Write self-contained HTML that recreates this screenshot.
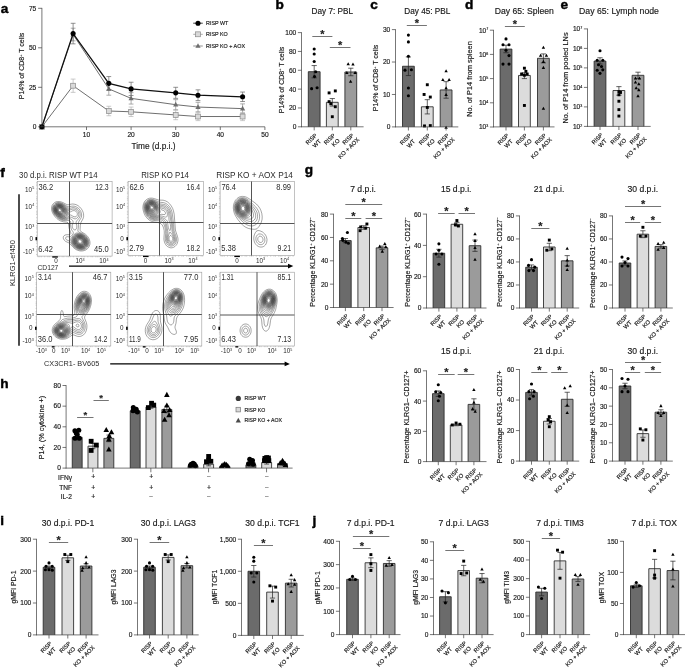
<!DOCTYPE html>
<html><head><meta charset="utf-8"><title>Figure</title>
<style>html,body{margin:0;padding:0;background:#fff}svg{display:block}text{font-family:'Liberation Sans', sans-serif}</style>
</head><body>
<svg width="685" height="668" viewBox="0 0 685 668" font-family='"Liberation Sans", sans-serif'>
<rect width="685" height="668" fill="#fff"/>
<text transform="translate(0.70 13.20) scale(1.12 1)" font-size="12.2" text-anchor="start" font-weight="bold" fill="#000" stroke="#000" stroke-width="0.4">a</text>
<line x1="73.12" y1="28.21" x2="73.12" y2="40.85" stroke="#8a8a8a" stroke-width="0.7"/>
<line x1="70.72" y1="28.21" x2="75.52" y2="28.21" stroke="#8a8a8a" stroke-width="0.7"/>
<line x1="70.72" y1="40.85" x2="75.52" y2="40.85" stroke="#8a8a8a" stroke-width="0.7"/>
<line x1="108.80" y1="82.56" x2="108.80" y2="95.20" stroke="#8a8a8a" stroke-width="0.7"/>
<line x1="106.40" y1="82.56" x2="111.20" y2="82.56" stroke="#8a8a8a" stroke-width="0.7"/>
<line x1="106.40" y1="95.20" x2="111.20" y2="95.20" stroke="#8a8a8a" stroke-width="0.7"/>
<line x1="131.10" y1="92.67" x2="131.10" y2="104.05" stroke="#8a8a8a" stroke-width="0.7"/>
<line x1="128.70" y1="92.67" x2="133.50" y2="92.67" stroke="#8a8a8a" stroke-width="0.7"/>
<line x1="128.70" y1="104.05" x2="133.50" y2="104.05" stroke="#8a8a8a" stroke-width="0.7"/>
<line x1="175.70" y1="99.62" x2="175.70" y2="109.74" stroke="#8a8a8a" stroke-width="0.7"/>
<line x1="173.30" y1="99.62" x2="178.10" y2="99.62" stroke="#8a8a8a" stroke-width="0.7"/>
<line x1="173.30" y1="109.74" x2="178.10" y2="109.74" stroke="#8a8a8a" stroke-width="0.7"/>
<line x1="198.00" y1="102.31" x2="198.00" y2="111.79" stroke="#8a8a8a" stroke-width="0.7"/>
<line x1="195.60" y1="102.31" x2="200.40" y2="102.31" stroke="#8a8a8a" stroke-width="0.7"/>
<line x1="195.60" y1="111.79" x2="200.40" y2="111.79" stroke="#8a8a8a" stroke-width="0.7"/>
<line x1="242.60" y1="103.89" x2="242.60" y2="113.37" stroke="#8a8a8a" stroke-width="0.7"/>
<line x1="240.20" y1="103.89" x2="245.00" y2="103.89" stroke="#8a8a8a" stroke-width="0.7"/>
<line x1="240.20" y1="113.37" x2="245.00" y2="113.37" stroke="#8a8a8a" stroke-width="0.7"/>
<polyline points="41.90,126.80 73.12,34.53 108.80,88.88 131.10,98.36 175.70,104.68 198.00,107.05 242.60,108.63" fill="none" stroke="#555" stroke-width="0.85"/>
<path d="M41.90 123.99L44.50 128.67L39.30 128.67Z" fill="#6e6e6e" stroke="none" stroke-width="0.5"/>
<path d="M73.12 31.72L75.72 36.40L70.52 36.40Z" fill="#6e6e6e" stroke="none" stroke-width="0.5"/>
<path d="M108.80 86.07L111.40 90.75L106.20 90.75Z" fill="#6e6e6e" stroke="none" stroke-width="0.5"/>
<path d="M131.10 95.55L133.70 100.23L128.50 100.23Z" fill="#6e6e6e" stroke="none" stroke-width="0.5"/>
<path d="M175.70 101.87L178.30 106.55L173.10 106.55Z" fill="#6e6e6e" stroke="none" stroke-width="0.5"/>
<path d="M198.00 104.24L200.60 108.92L195.40 108.92Z" fill="#6e6e6e" stroke="none" stroke-width="0.5"/>
<path d="M242.60 105.82L245.20 110.50L240.00 110.50Z" fill="#6e6e6e" stroke="none" stroke-width="0.5"/>
<line x1="73.12" y1="79.08" x2="73.12" y2="92.36" stroke="#b5b5b5" stroke-width="0.7"/>
<line x1="70.72" y1="79.08" x2="75.52" y2="79.08" stroke="#b5b5b5" stroke-width="0.7"/>
<line x1="70.72" y1="92.36" x2="75.52" y2="92.36" stroke="#b5b5b5" stroke-width="0.7"/>
<line x1="108.80" y1="106.26" x2="108.80" y2="115.74" stroke="#b5b5b5" stroke-width="0.7"/>
<line x1="106.40" y1="106.26" x2="111.20" y2="106.26" stroke="#b5b5b5" stroke-width="0.7"/>
<line x1="106.40" y1="115.74" x2="111.20" y2="115.74" stroke="#b5b5b5" stroke-width="0.7"/>
<line x1="131.10" y1="107.05" x2="131.10" y2="116.53" stroke="#b5b5b5" stroke-width="0.7"/>
<line x1="128.70" y1="107.05" x2="133.50" y2="107.05" stroke="#b5b5b5" stroke-width="0.7"/>
<line x1="128.70" y1="116.53" x2="133.50" y2="116.53" stroke="#b5b5b5" stroke-width="0.7"/>
<line x1="175.70" y1="110.21" x2="175.70" y2="119.69" stroke="#b5b5b5" stroke-width="0.7"/>
<line x1="173.30" y1="110.21" x2="178.10" y2="110.21" stroke="#b5b5b5" stroke-width="0.7"/>
<line x1="173.30" y1="119.69" x2="178.10" y2="119.69" stroke="#b5b5b5" stroke-width="0.7"/>
<line x1="198.00" y1="112.42" x2="198.00" y2="120.64" stroke="#b5b5b5" stroke-width="0.7"/>
<line x1="195.60" y1="112.42" x2="200.40" y2="112.42" stroke="#b5b5b5" stroke-width="0.7"/>
<line x1="195.60" y1="120.64" x2="200.40" y2="120.64" stroke="#b5b5b5" stroke-width="0.7"/>
<line x1="242.60" y1="112.42" x2="242.60" y2="120.64" stroke="#b5b5b5" stroke-width="0.7"/>
<line x1="240.20" y1="112.42" x2="245.00" y2="112.42" stroke="#b5b5b5" stroke-width="0.7"/>
<line x1="240.20" y1="120.64" x2="245.00" y2="120.64" stroke="#b5b5b5" stroke-width="0.7"/>
<polyline points="41.90,126.80 73.12,85.72 108.80,111.00 131.10,111.79 175.70,114.95 198.00,116.53 242.60,116.53" fill="none" stroke="#555" stroke-width="0.85"/>
<rect x="39.45" y="124.35" width="4.9" height="4.9" fill="#d9d9d9" stroke="#8a8a8a" stroke-width="0.7"/>
<rect x="70.67" y="83.27" width="4.9" height="4.9" fill="#d9d9d9" stroke="#8a8a8a" stroke-width="0.7"/>
<rect x="106.35" y="108.55" width="4.9" height="4.9" fill="#d9d9d9" stroke="#8a8a8a" stroke-width="0.7"/>
<rect x="128.65" y="109.34" width="4.9" height="4.9" fill="#d9d9d9" stroke="#8a8a8a" stroke-width="0.7"/>
<rect x="173.25" y="112.50" width="4.9" height="4.9" fill="#d9d9d9" stroke="#8a8a8a" stroke-width="0.7"/>
<rect x="195.55" y="114.08" width="4.9" height="4.9" fill="#d9d9d9" stroke="#8a8a8a" stroke-width="0.7"/>
<rect x="240.15" y="114.08" width="4.9" height="4.9" fill="#d9d9d9" stroke="#8a8a8a" stroke-width="0.7"/>
<line x1="73.12" y1="23.31" x2="73.12" y2="43.85" stroke="#666" stroke-width="0.7"/>
<line x1="70.72" y1="23.31" x2="75.52" y2="23.31" stroke="#666" stroke-width="0.7"/>
<line x1="70.72" y1="43.85" x2="75.52" y2="43.85" stroke="#666" stroke-width="0.7"/>
<line x1="108.80" y1="76.56" x2="108.80" y2="90.14" stroke="#666" stroke-width="0.7"/>
<line x1="106.40" y1="76.56" x2="111.20" y2="76.56" stroke="#666" stroke-width="0.7"/>
<line x1="106.40" y1="90.14" x2="111.20" y2="90.14" stroke="#666" stroke-width="0.7"/>
<line x1="131.10" y1="82.24" x2="131.10" y2="95.52" stroke="#666" stroke-width="0.7"/>
<line x1="128.70" y1="82.24" x2="133.50" y2="82.24" stroke="#666" stroke-width="0.7"/>
<line x1="128.70" y1="95.52" x2="133.50" y2="95.52" stroke="#666" stroke-width="0.7"/>
<line x1="175.70" y1="87.30" x2="175.70" y2="98.36" stroke="#666" stroke-width="0.7"/>
<line x1="173.30" y1="87.30" x2="178.10" y2="87.30" stroke="#666" stroke-width="0.7"/>
<line x1="173.30" y1="98.36" x2="178.10" y2="98.36" stroke="#666" stroke-width="0.7"/>
<line x1="198.00" y1="89.83" x2="198.00" y2="100.57" stroke="#666" stroke-width="0.7"/>
<line x1="195.60" y1="89.83" x2="200.40" y2="89.83" stroke="#666" stroke-width="0.7"/>
<line x1="195.60" y1="100.57" x2="200.40" y2="100.57" stroke="#666" stroke-width="0.7"/>
<line x1="242.60" y1="92.04" x2="242.60" y2="101.52" stroke="#666" stroke-width="0.7"/>
<line x1="240.20" y1="92.04" x2="245.00" y2="92.04" stroke="#666" stroke-width="0.7"/>
<line x1="240.20" y1="101.52" x2="245.00" y2="101.52" stroke="#666" stroke-width="0.7"/>
<polyline points="41.90,126.80 73.12,33.58 108.80,83.35 131.10,88.88 175.70,92.83 198.00,95.20 242.60,96.78" fill="none" stroke="#111" stroke-width="1.25"/>
<circle cx="41.90" cy="126.80" r="2.55" fill="#000" stroke="none" stroke-width="0.5"/>
<circle cx="73.12" cy="33.58" r="2.55" fill="#000" stroke="none" stroke-width="0.5"/>
<circle cx="108.80" cy="83.35" r="2.55" fill="#000" stroke="none" stroke-width="0.5"/>
<circle cx="131.10" cy="88.88" r="2.55" fill="#000" stroke="none" stroke-width="0.5"/>
<circle cx="175.70" cy="92.83" r="2.55" fill="#000" stroke="none" stroke-width="0.5"/>
<circle cx="198.00" cy="95.20" r="2.55" fill="#000" stroke="none" stroke-width="0.5"/>
<circle cx="242.60" cy="96.78" r="2.55" fill="#000" stroke="none" stroke-width="0.5"/>
<line x1="41.90" y1="7.90" x2="41.90" y2="127.20" stroke="#3c3c3c" stroke-width="0.7"/>
<line x1="41.50" y1="126.80" x2="264.90" y2="126.80" stroke="#3c3c3c" stroke-width="0.7"/>
<line x1="38.10" y1="126.80" x2="41.90" y2="126.80" stroke="#3c3c3c" stroke-width="0.7"/>
<text x="36.30" y="129.00" font-size="6.6" text-anchor="end" fill="#1a1a1a" stroke="#1a1a1a" stroke-width="0.16">0</text>
<line x1="38.10" y1="87.30" x2="41.90" y2="87.30" stroke="#3c3c3c" stroke-width="0.7"/>
<text x="36.30" y="89.50" font-size="6.6" text-anchor="end" fill="#1a1a1a" stroke="#1a1a1a" stroke-width="0.16">25</text>
<line x1="38.10" y1="47.80" x2="41.90" y2="47.80" stroke="#3c3c3c" stroke-width="0.7"/>
<text x="36.30" y="50.00" font-size="6.6" text-anchor="end" fill="#1a1a1a" stroke="#1a1a1a" stroke-width="0.16">50</text>
<line x1="38.10" y1="8.30" x2="41.90" y2="8.30" stroke="#3c3c3c" stroke-width="0.7"/>
<text x="36.30" y="10.50" font-size="6.6" text-anchor="end" fill="#1a1a1a" stroke="#1a1a1a" stroke-width="0.16">75</text>
<line x1="86.50" y1="126.80" x2="86.50" y2="130.00" stroke="#3c3c3c" stroke-width="0.7"/>
<text x="86.50" y="137.40" font-size="6.6" text-anchor="middle" fill="#1a1a1a" stroke="#1a1a1a" stroke-width="0.16">10</text>
<line x1="131.10" y1="126.80" x2="131.10" y2="130.00" stroke="#3c3c3c" stroke-width="0.7"/>
<text x="131.10" y="137.40" font-size="6.6" text-anchor="middle" fill="#1a1a1a" stroke="#1a1a1a" stroke-width="0.16">20</text>
<line x1="175.70" y1="126.80" x2="175.70" y2="130.00" stroke="#3c3c3c" stroke-width="0.7"/>
<text x="175.70" y="137.40" font-size="6.6" text-anchor="middle" fill="#1a1a1a" stroke="#1a1a1a" stroke-width="0.16">30</text>
<line x1="220.30" y1="126.80" x2="220.30" y2="130.00" stroke="#3c3c3c" stroke-width="0.7"/>
<text x="220.30" y="137.40" font-size="6.6" text-anchor="middle" fill="#1a1a1a" stroke="#1a1a1a" stroke-width="0.16">40</text>
<line x1="264.90" y1="126.80" x2="264.90" y2="130.00" stroke="#3c3c3c" stroke-width="0.7"/>
<text x="264.90" y="137.40" font-size="6.6" text-anchor="middle" fill="#1a1a1a" stroke="#1a1a1a" stroke-width="0.16">50</text>
<text x="24.30" y="66.00" font-size="7.0" text-anchor="middle" transform="rotate(-90 24.30 66.00)" fill="#1a1a1a" stroke="#1a1a1a" stroke-width="0.16">P14% of CD8<tspan dy="-2.4" font-size="3.8">+</tspan><tspan dy="2.4"> T cells</tspan></text>
<text x="153.50" y="148.60" font-size="8.3" text-anchor="middle" fill="#1a1a1a" stroke="#1a1a1a" stroke-width="0.16">Time (d.p.i.)</text>
<line x1="193.20" y1="23.20" x2="202.80" y2="23.20" stroke="#111" stroke-width="0.8"/>
<circle cx="198.00" cy="23.20" r="2.55" fill="#000" stroke="none" stroke-width="0.5"/>
<text x="206.00" y="25.10" font-size="5.4" text-anchor="start" fill="#1a1a1a" stroke="#1a1a1a" stroke-width="0.16">RISP WT</text>
<line x1="193.20" y1="34.30" x2="202.80" y2="34.30" stroke="#999" stroke-width="0.8"/>
<rect x="195.55" y="31.85" width="4.9" height="4.9" fill="#d9d9d9" stroke="#8a8a8a" stroke-width="0.7"/>
<text x="206.00" y="36.20" font-size="5.4" text-anchor="start" fill="#1a1a1a" stroke="#1a1a1a" stroke-width="0.16">RISP KO</text>
<line x1="193.20" y1="46.00" x2="202.80" y2="46.00" stroke="#777" stroke-width="0.8"/>
<path d="M198.00 43.19L200.60 47.87L195.40 47.87Z" fill="#6e6e6e" stroke="none" stroke-width="0.5"/>
<text x="206.00" y="47.90" font-size="5.4" text-anchor="start" fill="#1a1a1a" stroke="#1a1a1a" stroke-width="0.16">RISP KO + AOX</text>
<text transform="translate(275.40 9.20) scale(1.12 1)" font-size="12.2" text-anchor="start" font-weight="bold" fill="#000" stroke="#000" stroke-width="0.4">b</text>
<path d="M308.30 126.80V71.69H320.10V126.80" fill="#6b6b6b" stroke="#262626" stroke-width="0.85"/>
<path d="M326.40 126.80V102.31H338.20V126.80" fill="#dcdcdc" stroke="#262626" stroke-width="0.85"/>
<path d="M344.90 126.80V71.98H356.70V126.80" fill="#9b9b9b" stroke="#262626" stroke-width="0.85"/>
<line x1="314.20" y1="65.57" x2="314.20" y2="77.82" stroke="#222" stroke-width="0.7"/>
<line x1="311.60" y1="65.57" x2="316.80" y2="65.57" stroke="#222" stroke-width="0.7"/>
<line x1="311.60" y1="77.82" x2="316.80" y2="77.82" stroke="#222" stroke-width="0.7"/>
<line x1="332.30" y1="98.54" x2="332.30" y2="106.08" stroke="#222" stroke-width="0.7"/>
<line x1="329.70" y1="98.54" x2="334.90" y2="98.54" stroke="#222" stroke-width="0.7"/>
<line x1="329.70" y1="106.08" x2="334.90" y2="106.08" stroke="#222" stroke-width="0.7"/>
<line x1="350.80" y1="68.21" x2="350.80" y2="75.74" stroke="#222" stroke-width="0.7"/>
<line x1="348.20" y1="68.21" x2="353.40" y2="68.21" stroke="#222" stroke-width="0.7"/>
<line x1="348.20" y1="75.74" x2="353.40" y2="75.74" stroke="#222" stroke-width="0.7"/>
<circle cx="314.20" cy="48.99" r="1.55" fill="#000" stroke="none" stroke-width="0.5"/>
<circle cx="314.20" cy="53.98" r="1.55" fill="#000" stroke="none" stroke-width="0.5"/>
<circle cx="314.20" cy="61.52" r="1.55" fill="#000" stroke="none" stroke-width="0.5"/>
<circle cx="315.70" cy="71.69" r="1.55" fill="#000" stroke="none" stroke-width="0.5"/>
<circle cx="314.50" cy="76.59" r="1.55" fill="#000" stroke="none" stroke-width="0.5"/>
<circle cx="311.60" cy="88.65" r="1.55" fill="#000" stroke="none" stroke-width="0.5"/>
<circle cx="317.10" cy="87.71" r="1.55" fill="#000" stroke="none" stroke-width="0.5"/>
<rect x="327.65" y="91.44" width="2.9" height="2.9" fill="#000" stroke="none" stroke-width="0.5"/>
<rect x="333.85" y="89.46" width="2.9" height="2.9" fill="#000" stroke="none" stroke-width="0.5"/>
<rect x="327.65" y="100.20" width="2.9" height="2.9" fill="#000" stroke="none" stroke-width="0.5"/>
<rect x="333.85" y="105.29" width="2.9" height="2.9" fill="#000" stroke="none" stroke-width="0.5"/>
<rect x="330.85" y="115.27" width="2.9" height="2.9" fill="#000" stroke="none" stroke-width="0.5"/>
<rect x="329.35" y="102.27" width="2.9" height="2.9" fill="#000" stroke="none" stroke-width="0.5"/>
<path d="M348.20 62.23L349.90 65.29L346.50 65.29Z" fill="#000" stroke="none" stroke-width="0.5"/>
<path d="M353.00 62.42L354.70 65.48L351.30 65.48Z" fill="#000" stroke="none" stroke-width="0.5"/>
<path d="M346.90 70.99L348.60 74.05L345.20 74.05Z" fill="#000" stroke="none" stroke-width="0.5"/>
<path d="M355.10 70.99L356.80 74.05L353.40 74.05Z" fill="#000" stroke="none" stroke-width="0.5"/>
<path d="M350.60 79.75L352.30 82.81L348.90 82.81Z" fill="#000" stroke="none" stroke-width="0.5"/>
<line x1="301.50" y1="32.25" x2="301.50" y2="127.15" stroke="#3c3c3c" stroke-width="0.7"/>
<line x1="301.15" y1="126.80" x2="363.60" y2="126.80" stroke="#3c3c3c" stroke-width="0.7"/>
<line x1="297.90" y1="126.80" x2="301.50" y2="126.80" stroke="#3c3c3c" stroke-width="0.7"/>
<text x="296.30" y="129.25" font-size="6.6" text-anchor="end" fill="#1a1a1a" stroke="#1a1a1a" stroke-width="0.16">0</text>
<line x1="297.90" y1="107.96" x2="301.50" y2="107.96" stroke="#3c3c3c" stroke-width="0.7"/>
<text x="296.30" y="110.41" font-size="6.6" text-anchor="end" fill="#1a1a1a" stroke="#1a1a1a" stroke-width="0.16">20</text>
<line x1="297.90" y1="89.12" x2="301.50" y2="89.12" stroke="#3c3c3c" stroke-width="0.7"/>
<text x="296.30" y="91.57" font-size="6.6" text-anchor="end" fill="#1a1a1a" stroke="#1a1a1a" stroke-width="0.16">40</text>
<line x1="297.90" y1="70.28" x2="301.50" y2="70.28" stroke="#3c3c3c" stroke-width="0.7"/>
<text x="296.30" y="72.73" font-size="6.6" text-anchor="end" fill="#1a1a1a" stroke="#1a1a1a" stroke-width="0.16">60</text>
<line x1="297.90" y1="51.44" x2="301.50" y2="51.44" stroke="#3c3c3c" stroke-width="0.7"/>
<text x="296.30" y="53.89" font-size="6.6" text-anchor="end" fill="#1a1a1a" stroke="#1a1a1a" stroke-width="0.16">80</text>
<line x1="297.90" y1="32.60" x2="301.50" y2="32.60" stroke="#3c3c3c" stroke-width="0.7"/>
<text x="296.30" y="35.05" font-size="6.6" text-anchor="end" fill="#1a1a1a" stroke="#1a1a1a" stroke-width="0.16">100</text>
<line x1="314.20" y1="126.80" x2="314.20" y2="130.40" stroke="#3c3c3c" stroke-width="0.7"/>
<text x="317.50" y="135.70" font-size="5.7" text-anchor="end" transform="rotate(-45 317.50 135.70)" fill="#1a1a1a" stroke="#1a1a1a" stroke-width="0.16">RISP</text>
<text x="321.45" y="141.65" font-size="5.85" text-anchor="end" transform="rotate(-45 321.45 141.65)" fill="#1a1a1a" stroke="#1a1a1a" stroke-width="0.16">WT</text>
<line x1="332.30" y1="126.80" x2="332.30" y2="130.40" stroke="#3c3c3c" stroke-width="0.7"/>
<text x="335.60" y="135.70" font-size="5.7" text-anchor="end" transform="rotate(-45 335.60 135.70)" fill="#1a1a1a" stroke="#1a1a1a" stroke-width="0.16">RISP</text>
<text x="340.11" y="141.09" font-size="5.85" text-anchor="end" transform="rotate(-45 340.11 141.09)" fill="#1a1a1a" stroke="#1a1a1a" stroke-width="0.16">KO</text>
<line x1="350.80" y1="126.80" x2="350.80" y2="130.40" stroke="#3c3c3c" stroke-width="0.7"/>
<text x="354.10" y="135.70" font-size="5.7" text-anchor="end" transform="rotate(-45 354.10 135.70)" fill="#1a1a1a" stroke="#1a1a1a" stroke-width="0.16">RISP</text>
<text x="359.74" y="139.95" font-size="5.85" text-anchor="end" transform="rotate(-45 359.74 139.95)" fill="#1a1a1a" stroke="#1a1a1a" stroke-width="0.16">KO + AOX</text>
<text x="332.30" y="13.80" font-size="8.2" text-anchor="middle" fill="#1a1a1a" stroke="#1a1a1a" stroke-width="0.16">Day 7: PBL</text>
<text x="283.50" y="80.00" font-size="7.0" text-anchor="middle" transform="rotate(-90 283.50 80.00)" fill="#1a1a1a" stroke="#1a1a1a" stroke-width="0.16">P14% of CD8<tspan dy="-2.4" font-size="3.8">+</tspan><tspan dy="2.4"> T cells</tspan></text>
<line x1="312.30" y1="36.50" x2="332.40" y2="36.50" stroke="#3a3a3a" stroke-width="0.7"/>
<text x="322.35" y="38.20" font-size="11" text-anchor="middle" font-weight="bold" fill="#222" stroke="#1a1a1a" stroke-width="0.16">*</text>
<line x1="329.80" y1="47.50" x2="350.50" y2="47.50" stroke="#3a3a3a" stroke-width="0.7"/>
<text x="340.15" y="49.20" font-size="11" text-anchor="middle" font-weight="bold" fill="#222" stroke="#1a1a1a" stroke-width="0.16">*</text>
<text transform="translate(370.20 9.20) scale(1.12 1)" font-size="12.2" text-anchor="start" font-weight="bold" fill="#000" stroke="#000" stroke-width="0.4">c</text>
<path d="M402.50 126.90V66.25H414.30V126.90" fill="#6b6b6b" stroke="#262626" stroke-width="0.85"/>
<path d="M421.40 126.90V106.79H433.20V126.90" fill="#dcdcdc" stroke="#262626" stroke-width="0.85"/>
<path d="M440.20 126.90V89.93H452.00V126.90" fill="#9b9b9b" stroke="#262626" stroke-width="0.85"/>
<line x1="408.40" y1="56.94" x2="408.40" y2="75.56" stroke="#222" stroke-width="0.7"/>
<line x1="405.80" y1="56.94" x2="411.00" y2="56.94" stroke="#222" stroke-width="0.7"/>
<line x1="405.80" y1="75.56" x2="411.00" y2="75.56" stroke="#222" stroke-width="0.7"/>
<line x1="427.30" y1="99.66" x2="427.30" y2="113.93" stroke="#222" stroke-width="0.7"/>
<line x1="424.70" y1="99.66" x2="429.90" y2="99.66" stroke="#222" stroke-width="0.7"/>
<line x1="424.70" y1="113.93" x2="429.90" y2="113.93" stroke="#222" stroke-width="0.7"/>
<line x1="446.10" y1="81.66" x2="446.10" y2="98.20" stroke="#222" stroke-width="0.7"/>
<line x1="443.50" y1="81.66" x2="448.70" y2="81.66" stroke="#222" stroke-width="0.7"/>
<line x1="443.50" y1="98.20" x2="448.70" y2="98.20" stroke="#222" stroke-width="0.7"/>
<circle cx="408.40" cy="35.11" r="1.55" fill="#000" stroke="none" stroke-width="0.5"/>
<circle cx="408.40" cy="41.92" r="1.55" fill="#000" stroke="none" stroke-width="0.5"/>
<circle cx="408.40" cy="56.20" r="1.55" fill="#000" stroke="none" stroke-width="0.5"/>
<circle cx="405.00" cy="70.14" r="1.55" fill="#000" stroke="none" stroke-width="0.5"/>
<circle cx="411.40" cy="69.82" r="1.55" fill="#000" stroke="none" stroke-width="0.5"/>
<circle cx="408.40" cy="87.98" r="1.55" fill="#000" stroke="none" stroke-width="0.5"/>
<circle cx="408.40" cy="95.76" r="1.55" fill="#000" stroke="none" stroke-width="0.5"/>
<rect x="425.85" y="83.29" width="2.9" height="2.9" fill="#000" stroke="none" stroke-width="0.5"/>
<rect x="422.65" y="93.02" width="2.9" height="2.9" fill="#000" stroke="none" stroke-width="0.5"/>
<rect x="428.85" y="95.61" width="2.9" height="2.9" fill="#000" stroke="none" stroke-width="0.5"/>
<rect x="425.85" y="105.99" width="2.9" height="2.9" fill="#000" stroke="none" stroke-width="0.5"/>
<rect x="423.05" y="124.48" width="2.9" height="2.9" fill="#000" stroke="none" stroke-width="0.5"/>
<rect x="428.85" y="124.15" width="2.9" height="2.9" fill="#000" stroke="none" stroke-width="0.5"/>
<path d="M446.10 69.28L447.80 72.34L444.40 72.34Z" fill="#000" stroke="none" stroke-width="0.5"/>
<path d="M442.90 78.04L444.60 81.10L441.20 81.10Z" fill="#000" stroke="none" stroke-width="0.5"/>
<path d="M449.10 78.04L450.80 81.10L447.40 81.10Z" fill="#000" stroke="none" stroke-width="0.5"/>
<path d="M446.10 86.14L447.80 89.20L444.40 89.20Z" fill="#000" stroke="none" stroke-width="0.5"/>
<path d="M446.10 92.95L447.80 96.02L444.40 96.02Z" fill="#000" stroke="none" stroke-width="0.5"/>
<path d="M446.10 125.71L447.80 128.77L444.40 128.77Z" fill="#000" stroke="none" stroke-width="0.5"/>
<line x1="395.50" y1="29.25" x2="395.50" y2="127.25" stroke="#3c3c3c" stroke-width="0.7"/>
<line x1="395.15" y1="126.90" x2="458.30" y2="126.90" stroke="#3c3c3c" stroke-width="0.7"/>
<line x1="391.90" y1="126.90" x2="395.50" y2="126.90" stroke="#3c3c3c" stroke-width="0.7"/>
<text x="390.30" y="129.35" font-size="6.6" text-anchor="end" fill="#1a1a1a" stroke="#1a1a1a" stroke-width="0.16">0</text>
<line x1="391.90" y1="94.47" x2="395.50" y2="94.47" stroke="#3c3c3c" stroke-width="0.7"/>
<text x="390.30" y="96.92" font-size="6.6" text-anchor="end" fill="#1a1a1a" stroke="#1a1a1a" stroke-width="0.16">10</text>
<line x1="391.90" y1="62.03" x2="395.50" y2="62.03" stroke="#3c3c3c" stroke-width="0.7"/>
<text x="390.30" y="64.48" font-size="6.6" text-anchor="end" fill="#1a1a1a" stroke="#1a1a1a" stroke-width="0.16">20</text>
<line x1="391.90" y1="29.60" x2="395.50" y2="29.60" stroke="#3c3c3c" stroke-width="0.7"/>
<text x="390.30" y="32.05" font-size="6.6" text-anchor="end" fill="#1a1a1a" stroke="#1a1a1a" stroke-width="0.16">30</text>
<line x1="408.40" y1="126.90" x2="408.40" y2="130.50" stroke="#3c3c3c" stroke-width="0.7"/>
<text x="411.70" y="135.80" font-size="5.7" text-anchor="end" transform="rotate(-45 411.70 135.80)" fill="#1a1a1a" stroke="#1a1a1a" stroke-width="0.16">RISP</text>
<text x="415.65" y="141.75" font-size="5.85" text-anchor="end" transform="rotate(-45 415.65 141.75)" fill="#1a1a1a" stroke="#1a1a1a" stroke-width="0.16">WT</text>
<line x1="427.30" y1="126.90" x2="427.30" y2="130.50" stroke="#3c3c3c" stroke-width="0.7"/>
<text x="430.60" y="135.80" font-size="5.7" text-anchor="end" transform="rotate(-45 430.60 135.80)" fill="#1a1a1a" stroke="#1a1a1a" stroke-width="0.16">RISP</text>
<text x="435.11" y="141.19" font-size="5.85" text-anchor="end" transform="rotate(-45 435.11 141.19)" fill="#1a1a1a" stroke="#1a1a1a" stroke-width="0.16">KO</text>
<line x1="446.10" y1="126.90" x2="446.10" y2="130.50" stroke="#3c3c3c" stroke-width="0.7"/>
<text x="449.40" y="135.80" font-size="5.7" text-anchor="end" transform="rotate(-45 449.40 135.80)" fill="#1a1a1a" stroke="#1a1a1a" stroke-width="0.16">RISP</text>
<text x="455.04" y="140.05" font-size="5.85" text-anchor="end" transform="rotate(-45 455.04 140.05)" fill="#1a1a1a" stroke="#1a1a1a" stroke-width="0.16">KO + AOX</text>
<text x="427.30" y="13.80" font-size="8.2" text-anchor="middle" fill="#1a1a1a" stroke="#1a1a1a" stroke-width="0.16">Day 45: PBL</text>
<text x="378.40" y="78.00" font-size="7.0" text-anchor="middle" transform="rotate(-90 378.40 78.00)" fill="#1a1a1a" stroke="#1a1a1a" stroke-width="0.16">P14% of CD8<tspan dy="-2.4" font-size="3.8">+</tspan><tspan dy="2.4"> T cells</tspan></text>
<line x1="406.80" y1="25.50" x2="426.90" y2="25.50" stroke="#3a3a3a" stroke-width="0.7"/>
<text x="416.85" y="27.20" font-size="11" text-anchor="middle" font-weight="bold" fill="#222" stroke="#1a1a1a" stroke-width="0.16">*</text>
<text transform="translate(465.00 9.20) scale(1.12 1)" font-size="12.2" text-anchor="start" font-weight="bold" fill="#000" stroke="#000" stroke-width="0.4">d</text>
<path d="M500.10 126.90V49.08H511.90V126.90" fill="#6b6b6b" stroke="#262626" stroke-width="0.85"/>
<path d="M518.50 126.90V75.45H530.30V126.90" fill="#dcdcdc" stroke="#262626" stroke-width="0.85"/>
<path d="M537.50 126.90V58.27H549.30V126.90" fill="#9b9b9b" stroke="#262626" stroke-width="0.85"/>
<line x1="506.00" y1="45.20" x2="506.00" y2="52.71" stroke="#222" stroke-width="0.7"/>
<line x1="503.40" y1="45.20" x2="508.60" y2="45.20" stroke="#222" stroke-width="0.7"/>
<line x1="503.40" y1="52.71" x2="508.60" y2="52.71" stroke="#222" stroke-width="0.7"/>
<line x1="524.40" y1="72.79" x2="524.40" y2="78.60" stroke="#222" stroke-width="0.7"/>
<line x1="521.80" y1="72.79" x2="527.00" y2="72.79" stroke="#222" stroke-width="0.7"/>
<line x1="521.80" y1="78.60" x2="527.00" y2="78.60" stroke="#222" stroke-width="0.7"/>
<line x1="543.40" y1="53.92" x2="543.40" y2="62.87" stroke="#222" stroke-width="0.7"/>
<line x1="540.80" y1="53.92" x2="546.00" y2="53.92" stroke="#222" stroke-width="0.7"/>
<line x1="540.80" y1="62.87" x2="546.00" y2="62.87" stroke="#222" stroke-width="0.7"/>
<circle cx="506.00" cy="38.91" r="1.55" fill="#000" stroke="none" stroke-width="0.5"/>
<circle cx="503.00" cy="44.72" r="1.55" fill="#000" stroke="none" stroke-width="0.5"/>
<circle cx="509.00" cy="44.72" r="1.55" fill="#000" stroke="none" stroke-width="0.5"/>
<circle cx="506.00" cy="50.29" r="1.55" fill="#000" stroke="none" stroke-width="0.5"/>
<circle cx="509.00" cy="55.61" r="1.55" fill="#000" stroke="none" stroke-width="0.5"/>
<circle cx="503.00" cy="64.08" r="1.55" fill="#000" stroke="none" stroke-width="0.5"/>
<circle cx="509.00" cy="64.08" r="1.55" fill="#000" stroke="none" stroke-width="0.5"/>
<rect x="522.95" y="66.74" width="2.9" height="2.9" fill="#000" stroke="none" stroke-width="0.5"/>
<rect x="520.15" y="72.55" width="2.9" height="2.9" fill="#000" stroke="none" stroke-width="0.5"/>
<rect x="525.75" y="72.55" width="2.9" height="2.9" fill="#000" stroke="none" stroke-width="0.5"/>
<rect x="522.95" y="73.76" width="2.9" height="2.9" fill="#000" stroke="none" stroke-width="0.5"/>
<rect x="522.95" y="104.01" width="2.9" height="2.9" fill="#000" stroke="none" stroke-width="0.5"/>
<rect x="524.45" y="69.89" width="2.9" height="2.9" fill="#000" stroke="none" stroke-width="0.5"/>
<path d="M543.40 45.79L545.10 48.85L541.70 48.85Z" fill="#000" stroke="none" stroke-width="0.5"/>
<path d="M540.60 53.77L542.30 56.83L538.90 56.83Z" fill="#000" stroke="none" stroke-width="0.5"/>
<path d="M546.40 53.77L548.10 56.83L544.70 56.83Z" fill="#000" stroke="none" stroke-width="0.5"/>
<path d="M543.40 59.82L545.10 62.88L541.70 62.88Z" fill="#000" stroke="none" stroke-width="0.5"/>
<path d="M543.40 65.87L545.10 68.93L541.70 68.93Z" fill="#000" stroke="none" stroke-width="0.5"/>
<path d="M543.40 106.77L545.10 109.83L541.70 109.83Z" fill="#000" stroke="none" stroke-width="0.5"/>
<line x1="493.50" y1="29.85" x2="493.50" y2="127.25" stroke="#3c3c3c" stroke-width="0.7"/>
<line x1="493.15" y1="126.90" x2="554.50" y2="126.90" stroke="#3c3c3c" stroke-width="0.7"/>
<line x1="489.90" y1="127.00" x2="493.50" y2="127.00" stroke="#3c3c3c" stroke-width="0.7"/>
<text x="488.30" y="129.45" font-size="6.6" text-anchor="end" fill="#1a1a1a" stroke="#1a1a1a" stroke-width="0.16">10<tspan dy="-2.2" font-size="3.6">3</tspan></text>
<line x1="489.90" y1="102.80" x2="493.50" y2="102.80" stroke="#3c3c3c" stroke-width="0.7"/>
<text x="488.30" y="105.25" font-size="6.6" text-anchor="end" fill="#1a1a1a" stroke="#1a1a1a" stroke-width="0.16">10<tspan dy="-2.2" font-size="3.6">4</tspan></text>
<line x1="489.90" y1="78.60" x2="493.50" y2="78.60" stroke="#3c3c3c" stroke-width="0.7"/>
<text x="488.30" y="81.05" font-size="6.6" text-anchor="end" fill="#1a1a1a" stroke="#1a1a1a" stroke-width="0.16">10<tspan dy="-2.2" font-size="3.6">5</tspan></text>
<line x1="489.90" y1="54.40" x2="493.50" y2="54.40" stroke="#3c3c3c" stroke-width="0.7"/>
<text x="488.30" y="56.85" font-size="6.6" text-anchor="end" fill="#1a1a1a" stroke="#1a1a1a" stroke-width="0.16">10<tspan dy="-2.2" font-size="3.6">6</tspan></text>
<line x1="489.90" y1="30.20" x2="493.50" y2="30.20" stroke="#3c3c3c" stroke-width="0.7"/>
<text x="488.30" y="32.65" font-size="6.6" text-anchor="end" fill="#1a1a1a" stroke="#1a1a1a" stroke-width="0.16">10<tspan dy="-2.2" font-size="3.6">7</tspan></text>
<line x1="506.00" y1="126.90" x2="506.00" y2="130.50" stroke="#3c3c3c" stroke-width="0.7"/>
<text x="509.30" y="135.80" font-size="5.7" text-anchor="end" transform="rotate(-45 509.30 135.80)" fill="#1a1a1a" stroke="#1a1a1a" stroke-width="0.16">RISP</text>
<text x="513.25" y="141.75" font-size="5.85" text-anchor="end" transform="rotate(-45 513.25 141.75)" fill="#1a1a1a" stroke="#1a1a1a" stroke-width="0.16">WT</text>
<line x1="524.40" y1="126.90" x2="524.40" y2="130.50" stroke="#3c3c3c" stroke-width="0.7"/>
<text x="527.70" y="135.80" font-size="5.7" text-anchor="end" transform="rotate(-45 527.70 135.80)" fill="#1a1a1a" stroke="#1a1a1a" stroke-width="0.16">RISP</text>
<text x="532.21" y="141.19" font-size="5.85" text-anchor="end" transform="rotate(-45 532.21 141.19)" fill="#1a1a1a" stroke="#1a1a1a" stroke-width="0.16">KO</text>
<line x1="543.40" y1="126.90" x2="543.40" y2="130.50" stroke="#3c3c3c" stroke-width="0.7"/>
<text x="546.70" y="135.80" font-size="5.7" text-anchor="end" transform="rotate(-45 546.70 135.80)" fill="#1a1a1a" stroke="#1a1a1a" stroke-width="0.16">RISP</text>
<text x="552.34" y="140.05" font-size="5.85" text-anchor="end" transform="rotate(-45 552.34 140.05)" fill="#1a1a1a" stroke="#1a1a1a" stroke-width="0.16">KO + AOX</text>
<text x="524.30" y="13.80" font-size="8.65" text-anchor="middle" fill="#1a1a1a" stroke="#1a1a1a" stroke-width="0.16">Day 65: Spleen</text>
<text x="472.40" y="79.00" font-size="7.4" text-anchor="middle" transform="rotate(-90 472.40 79.00)" fill="#1a1a1a" stroke="#1a1a1a" stroke-width="0.16">No. of P14 from spleen</text>
<line x1="504.90" y1="26.50" x2="524.80" y2="26.50" stroke="#3a3a3a" stroke-width="0.7"/>
<text x="514.85" y="28.20" font-size="11" text-anchor="middle" font-weight="bold" fill="#222" stroke="#1a1a1a" stroke-width="0.16">*</text>
<text transform="translate(560.40 9.20) scale(1.12 1)" font-size="12.2" text-anchor="start" font-weight="bold" fill="#000" stroke="#000" stroke-width="0.4">e</text>
<path d="M594.10 126.40V61.08H605.90V126.40" fill="#6b6b6b" stroke="#262626" stroke-width="0.85"/>
<path d="M613.00 126.40V90.52H624.80V126.40" fill="#dcdcdc" stroke="#262626" stroke-width="0.85"/>
<path d="M632.10 126.40V75.31H643.90V126.40" fill="#9b9b9b" stroke="#262626" stroke-width="0.85"/>
<line x1="600.00" y1="57.76" x2="600.00" y2="64.00" stroke="#222" stroke-width="0.7"/>
<line x1="597.40" y1="57.76" x2="602.60" y2="57.76" stroke="#222" stroke-width="0.7"/>
<line x1="597.40" y1="64.00" x2="602.60" y2="64.00" stroke="#222" stroke-width="0.7"/>
<line x1="618.90" y1="86.62" x2="618.90" y2="95.20" stroke="#222" stroke-width="0.7"/>
<line x1="616.30" y1="86.62" x2="621.50" y2="86.62" stroke="#222" stroke-width="0.7"/>
<line x1="616.30" y1="95.20" x2="621.50" y2="95.20" stroke="#222" stroke-width="0.7"/>
<line x1="638.00" y1="72.19" x2="638.00" y2="78.62" stroke="#222" stroke-width="0.7"/>
<line x1="635.40" y1="72.19" x2="640.60" y2="72.19" stroke="#222" stroke-width="0.7"/>
<line x1="635.40" y1="78.62" x2="640.60" y2="78.62" stroke="#222" stroke-width="0.7"/>
<circle cx="600.00" cy="50.74" r="1.55" fill="#000" stroke="none" stroke-width="0.5"/>
<circle cx="597.20" cy="60.30" r="1.55" fill="#000" stroke="none" stroke-width="0.5"/>
<circle cx="602.80" cy="60.30" r="1.55" fill="#000" stroke="none" stroke-width="0.5"/>
<circle cx="598.50" cy="64.78" r="1.55" fill="#000" stroke="none" stroke-width="0.5"/>
<circle cx="601.50" cy="66.53" r="1.55" fill="#000" stroke="none" stroke-width="0.5"/>
<circle cx="597.20" cy="70.24" r="1.55" fill="#000" stroke="none" stroke-width="0.5"/>
<circle cx="602.80" cy="69.85" r="1.55" fill="#000" stroke="none" stroke-width="0.5"/>
<circle cx="600.00" cy="73.36" r="1.55" fill="#000" stroke="none" stroke-width="0.5"/>
<rect x="617.45" y="90.24" width="2.9" height="2.9" fill="#000" stroke="none" stroke-width="0.5"/>
<rect x="617.45" y="93.36" width="2.9" height="2.9" fill="#000" stroke="none" stroke-width="0.5"/>
<rect x="617.45" y="99.80" width="2.9" height="2.9" fill="#000" stroke="none" stroke-width="0.5"/>
<rect x="617.45" y="108.18" width="2.9" height="2.9" fill="#000" stroke="none" stroke-width="0.5"/>
<rect x="617.45" y="114.61" width="2.9" height="2.9" fill="#000" stroke="none" stroke-width="0.5"/>
<rect x="619.05" y="91.02" width="2.9" height="2.9" fill="#000" stroke="none" stroke-width="0.5"/>
<path d="M635.50 76.40L637.20 79.46L633.80 79.46Z" fill="#000" stroke="none" stroke-width="0.5"/>
<path d="M639.50 76.40L641.20 79.46L637.80 79.46Z" fill="#000" stroke="none" stroke-width="0.5"/>
<path d="M635.50 80.49L637.20 83.55L633.80 83.55Z" fill="#000" stroke="none" stroke-width="0.5"/>
<path d="M638.80 82.25L640.50 85.31L637.10 85.31Z" fill="#000" stroke="none" stroke-width="0.5"/>
<path d="M636.20 86.15L637.90 89.21L634.50 89.21Z" fill="#000" stroke="none" stroke-width="0.5"/>
<path d="M638.80 88.10L640.50 91.16L637.10 91.16Z" fill="#000" stroke="none" stroke-width="0.5"/>
<path d="M638.00 94.14L639.70 97.20L636.30 97.20Z" fill="#000" stroke="none" stroke-width="0.5"/>
<line x1="587.50" y1="28.55" x2="587.50" y2="126.75" stroke="#3c3c3c" stroke-width="0.7"/>
<line x1="587.15" y1="126.40" x2="650.70" y2="126.40" stroke="#3c3c3c" stroke-width="0.7"/>
<line x1="583.90" y1="126.40" x2="587.50" y2="126.40" stroke="#3c3c3c" stroke-width="0.7"/>
<text x="582.30" y="128.85" font-size="6.6" text-anchor="end" fill="#1a1a1a" stroke="#1a1a1a" stroke-width="0.16">10<tspan dy="-2.2" font-size="3.6">2</tspan></text>
<line x1="583.90" y1="106.90" x2="587.50" y2="106.90" stroke="#3c3c3c" stroke-width="0.7"/>
<text x="582.30" y="109.35" font-size="6.6" text-anchor="end" fill="#1a1a1a" stroke="#1a1a1a" stroke-width="0.16">10<tspan dy="-2.2" font-size="3.6">3</tspan></text>
<line x1="583.90" y1="87.40" x2="587.50" y2="87.40" stroke="#3c3c3c" stroke-width="0.7"/>
<text x="582.30" y="89.85" font-size="6.6" text-anchor="end" fill="#1a1a1a" stroke="#1a1a1a" stroke-width="0.16">10<tspan dy="-2.2" font-size="3.6">4</tspan></text>
<line x1="583.90" y1="67.90" x2="587.50" y2="67.90" stroke="#3c3c3c" stroke-width="0.7"/>
<text x="582.30" y="70.35" font-size="6.6" text-anchor="end" fill="#1a1a1a" stroke="#1a1a1a" stroke-width="0.16">10<tspan dy="-2.2" font-size="3.6">5</tspan></text>
<line x1="583.90" y1="48.40" x2="587.50" y2="48.40" stroke="#3c3c3c" stroke-width="0.7"/>
<text x="582.30" y="50.85" font-size="6.6" text-anchor="end" fill="#1a1a1a" stroke="#1a1a1a" stroke-width="0.16">10<tspan dy="-2.2" font-size="3.6">6</tspan></text>
<line x1="583.90" y1="28.90" x2="587.50" y2="28.90" stroke="#3c3c3c" stroke-width="0.7"/>
<text x="582.30" y="31.35" font-size="6.6" text-anchor="end" fill="#1a1a1a" stroke="#1a1a1a" stroke-width="0.16">10<tspan dy="-2.2" font-size="3.6">7</tspan></text>
<line x1="600.00" y1="126.40" x2="600.00" y2="130.00" stroke="#3c3c3c" stroke-width="0.7"/>
<text x="603.30" y="135.30" font-size="5.7" text-anchor="end" transform="rotate(-45 603.30 135.30)" fill="#1a1a1a" stroke="#1a1a1a" stroke-width="0.16">RISP</text>
<text x="607.25" y="141.25" font-size="5.85" text-anchor="end" transform="rotate(-45 607.25 141.25)" fill="#1a1a1a" stroke="#1a1a1a" stroke-width="0.16">WT</text>
<line x1="618.90" y1="126.40" x2="618.90" y2="130.00" stroke="#3c3c3c" stroke-width="0.7"/>
<text x="622.20" y="135.30" font-size="5.7" text-anchor="end" transform="rotate(-45 622.20 135.30)" fill="#1a1a1a" stroke="#1a1a1a" stroke-width="0.16">RISP</text>
<text x="626.71" y="140.69" font-size="5.85" text-anchor="end" transform="rotate(-45 626.71 140.69)" fill="#1a1a1a" stroke="#1a1a1a" stroke-width="0.16">KO</text>
<line x1="638.00" y1="126.40" x2="638.00" y2="130.00" stroke="#3c3c3c" stroke-width="0.7"/>
<text x="641.30" y="135.30" font-size="5.7" text-anchor="end" transform="rotate(-45 641.30 135.30)" fill="#1a1a1a" stroke="#1a1a1a" stroke-width="0.16">RISP</text>
<text x="646.94" y="139.55" font-size="5.85" text-anchor="end" transform="rotate(-45 646.94 139.55)" fill="#1a1a1a" stroke="#1a1a1a" stroke-width="0.16">KO + AOX</text>
<text x="619.00" y="13.80" font-size="8.7" text-anchor="middle" fill="#1a1a1a" stroke="#1a1a1a" stroke-width="0.16">Day 65: Lymph node</text>
<text x="567.50" y="78.00" font-size="7.4" text-anchor="middle" transform="rotate(-90 567.50 78.00)" fill="#1a1a1a" stroke="#1a1a1a" stroke-width="0.16">No. of P14 from pooled LNs</text>
<text transform="translate(304.80 174.40) scale(1.12 1)" font-size="12.2" text-anchor="start" font-weight="bold" fill="#000" stroke="#000" stroke-width="0.4">g</text>
<path d="M339.60 307.50V240.60H351.20V307.50" fill="#6b6b6b" stroke="#262626" stroke-width="0.85"/>
<path d="M357.90 307.50V227.53H369.50V307.50" fill="#dcdcdc" stroke="#262626" stroke-width="0.85"/>
<path d="M376.20 307.50V247.84H387.80V307.50" fill="#9b9b9b" stroke="#262626" stroke-width="0.85"/>
<line x1="345.40" y1="238.50" x2="345.40" y2="242.70" stroke="#222" stroke-width="0.7"/>
<line x1="342.80" y1="238.50" x2="348.00" y2="238.50" stroke="#222" stroke-width="0.7"/>
<line x1="342.80" y1="242.70" x2="348.00" y2="242.70" stroke="#222" stroke-width="0.7"/>
<line x1="363.70" y1="225.78" x2="363.70" y2="229.28" stroke="#222" stroke-width="0.7"/>
<line x1="361.10" y1="225.78" x2="366.30" y2="225.78" stroke="#222" stroke-width="0.7"/>
<line x1="361.10" y1="229.28" x2="366.30" y2="229.28" stroke="#222" stroke-width="0.7"/>
<line x1="382.00" y1="246.09" x2="382.00" y2="249.59" stroke="#222" stroke-width="0.7"/>
<line x1="379.40" y1="246.09" x2="384.60" y2="246.09" stroke="#222" stroke-width="0.7"/>
<line x1="379.40" y1="249.59" x2="384.60" y2="249.59" stroke="#222" stroke-width="0.7"/>
<circle cx="342.90" cy="240.37" r="1.55" fill="#000" stroke="none" stroke-width="0.5"/>
<circle cx="347.40" cy="232.43" r="1.55" fill="#000" stroke="none" stroke-width="0.5"/>
<circle cx="345.90" cy="242.12" r="1.55" fill="#000" stroke="none" stroke-width="0.5"/>
<circle cx="342.40" cy="238.62" r="1.55" fill="#000" stroke="none" stroke-width="0.5"/>
<circle cx="348.40" cy="243.29" r="1.55" fill="#000" stroke="none" stroke-width="0.5"/>
<rect x="359.25" y="225.49" width="2.9" height="2.9" fill="#000" stroke="none" stroke-width="0.5"/>
<rect x="365.45" y="222.57" width="2.9" height="2.9" fill="#000" stroke="none" stroke-width="0.5"/>
<rect x="358.65" y="229.23" width="2.9" height="2.9" fill="#000" stroke="none" stroke-width="0.5"/>
<rect x="364.25" y="226.66" width="2.9" height="2.9" fill="#000" stroke="none" stroke-width="0.5"/>
<path d="M384.80 242.04L386.50 245.10L383.10 245.10Z" fill="#000" stroke="none" stroke-width="0.5"/>
<path d="M379.70 244.60L381.40 247.66L378.00 247.66Z" fill="#000" stroke="none" stroke-width="0.5"/>
<path d="M382.30 249.62L384.00 252.68L380.60 252.68Z" fill="#000" stroke="none" stroke-width="0.5"/>
<path d="M385.80 244.95L387.50 248.01L384.10 248.01Z" fill="#000" stroke="none" stroke-width="0.5"/>
<line x1="333.50" y1="213.75" x2="333.50" y2="307.85" stroke="#3c3c3c" stroke-width="0.7"/>
<line x1="333.15" y1="307.50" x2="393.60" y2="307.50" stroke="#3c3c3c" stroke-width="0.7"/>
<line x1="329.90" y1="307.50" x2="333.50" y2="307.50" stroke="#3c3c3c" stroke-width="0.7"/>
<text x="328.30" y="309.95" font-size="6.6" text-anchor="end" fill="#1a1a1a" stroke="#1a1a1a" stroke-width="0.16">0</text>
<line x1="329.90" y1="284.15" x2="333.50" y2="284.15" stroke="#3c3c3c" stroke-width="0.7"/>
<text x="328.30" y="286.60" font-size="6.6" text-anchor="end" fill="#1a1a1a" stroke="#1a1a1a" stroke-width="0.16">20</text>
<line x1="329.90" y1="260.80" x2="333.50" y2="260.80" stroke="#3c3c3c" stroke-width="0.7"/>
<text x="328.30" y="263.25" font-size="6.6" text-anchor="end" fill="#1a1a1a" stroke="#1a1a1a" stroke-width="0.16">40</text>
<line x1="329.90" y1="237.45" x2="333.50" y2="237.45" stroke="#3c3c3c" stroke-width="0.7"/>
<text x="328.30" y="239.90" font-size="6.6" text-anchor="end" fill="#1a1a1a" stroke="#1a1a1a" stroke-width="0.16">60</text>
<line x1="329.90" y1="214.10" x2="333.50" y2="214.10" stroke="#3c3c3c" stroke-width="0.7"/>
<text x="328.30" y="216.55" font-size="6.6" text-anchor="end" fill="#1a1a1a" stroke="#1a1a1a" stroke-width="0.16">80</text>
<line x1="345.40" y1="307.50" x2="345.40" y2="311.10" stroke="#3c3c3c" stroke-width="0.7"/>
<text x="348.70" y="316.40" font-size="5.7" text-anchor="end" transform="rotate(-45 348.70 316.40)" fill="#1a1a1a" stroke="#1a1a1a" stroke-width="0.16">RISP</text>
<text x="352.65" y="322.35" font-size="5.85" text-anchor="end" transform="rotate(-45 352.65 322.35)" fill="#1a1a1a" stroke="#1a1a1a" stroke-width="0.16">WT</text>
<line x1="363.70" y1="307.50" x2="363.70" y2="311.10" stroke="#3c3c3c" stroke-width="0.7"/>
<text x="367.00" y="316.40" font-size="5.7" text-anchor="end" transform="rotate(-45 367.00 316.40)" fill="#1a1a1a" stroke="#1a1a1a" stroke-width="0.16">RISP</text>
<text x="371.51" y="321.79" font-size="5.85" text-anchor="end" transform="rotate(-45 371.51 321.79)" fill="#1a1a1a" stroke="#1a1a1a" stroke-width="0.16">KO</text>
<line x1="382.00" y1="307.50" x2="382.00" y2="311.10" stroke="#3c3c3c" stroke-width="0.7"/>
<text x="385.30" y="316.40" font-size="5.7" text-anchor="end" transform="rotate(-45 385.30 316.40)" fill="#1a1a1a" stroke="#1a1a1a" stroke-width="0.16">RISP</text>
<text x="390.94" y="320.65" font-size="5.85" text-anchor="end" transform="rotate(-45 390.94 320.65)" fill="#1a1a1a" stroke="#1a1a1a" stroke-width="0.16">KO + AOX</text>
<text x="363.10" y="191.90" font-size="8.6" text-anchor="middle" fill="#1a1a1a" stroke="#1a1a1a" stroke-width="0.16">7 d.p.i.</text>
<text x="314.60" y="262.00" font-size="7.05" text-anchor="middle" transform="rotate(-90 314.60 262.00)" fill="#1a1a1a" stroke="#1a1a1a" stroke-width="0.16">Percentage KLRG1<tspan dy="-2.6" font-size="3.8">+</tspan><tspan dy="2.6"> CD127</tspan><tspan dy="-2.6" font-size="3.8">−</tspan></text>
<line x1="345.30" y1="204.50" x2="382.20" y2="204.50" stroke="#3a3a3a" stroke-width="0.7"/>
<text x="363.75" y="206.20" font-size="11" text-anchor="middle" font-weight="bold" fill="#222" stroke="#1a1a1a" stroke-width="0.16">*</text>
<line x1="345.30" y1="218.50" x2="361.30" y2="218.50" stroke="#3a3a3a" stroke-width="0.7"/>
<text x="353.30" y="220.20" font-size="11" text-anchor="middle" font-weight="bold" fill="#222" stroke="#1a1a1a" stroke-width="0.16">*</text>
<line x1="365.60" y1="218.50" x2="382.20" y2="218.50" stroke="#3a3a3a" stroke-width="0.7"/>
<text x="373.90" y="220.20" font-size="11" text-anchor="middle" font-weight="bold" fill="#222" stroke="#1a1a1a" stroke-width="0.16">*</text>
<path d="M433.10 308.00V253.22H444.70V308.00" fill="#6b6b6b" stroke="#262626" stroke-width="0.85"/>
<path d="M451.10 308.00V224.27H462.70V308.00" fill="#dcdcdc" stroke="#262626" stroke-width="0.85"/>
<path d="M469.20 308.00V245.71H480.80V308.00" fill="#9b9b9b" stroke="#262626" stroke-width="0.85"/>
<line x1="438.90" y1="249.31" x2="438.90" y2="257.14" stroke="#222" stroke-width="0.7"/>
<line x1="436.30" y1="249.31" x2="441.50" y2="249.31" stroke="#222" stroke-width="0.7"/>
<line x1="436.30" y1="257.14" x2="441.50" y2="257.14" stroke="#222" stroke-width="0.7"/>
<line x1="456.90" y1="222.39" x2="456.90" y2="226.15" stroke="#222" stroke-width="0.7"/>
<line x1="454.30" y1="222.39" x2="459.50" y2="222.39" stroke="#222" stroke-width="0.7"/>
<line x1="454.30" y1="226.15" x2="459.50" y2="226.15" stroke="#222" stroke-width="0.7"/>
<line x1="475.00" y1="240.08" x2="475.00" y2="251.35" stroke="#222" stroke-width="0.7"/>
<line x1="472.40" y1="240.08" x2="477.60" y2="240.08" stroke="#222" stroke-width="0.7"/>
<line x1="472.40" y1="251.35" x2="477.60" y2="251.35" stroke="#222" stroke-width="0.7"/>
<circle cx="438.90" cy="243.83" r="1.55" fill="#000" stroke="none" stroke-width="0.5"/>
<circle cx="438.90" cy="250.25" r="1.55" fill="#000" stroke="none" stroke-width="0.5"/>
<circle cx="441.90" cy="254.01" r="1.55" fill="#000" stroke="none" stroke-width="0.5"/>
<circle cx="436.10" cy="254.01" r="1.55" fill="#000" stroke="none" stroke-width="0.5"/>
<circle cx="438.90" cy="264.18" r="1.55" fill="#000" stroke="none" stroke-width="0.5"/>
<rect x="455.45" y="219.07" width="2.9" height="2.9" fill="#000" stroke="none" stroke-width="0.5"/>
<rect x="453.95" y="223.29" width="2.9" height="2.9" fill="#000" stroke="none" stroke-width="0.5"/>
<rect x="456.95" y="224.54" width="2.9" height="2.9" fill="#000" stroke="none" stroke-width="0.5"/>
<path d="M475.00 232.30L476.70 235.36L473.30 235.36Z" fill="#000" stroke="none" stroke-width="0.5"/>
<path d="M475.00 238.87L476.70 241.93L473.30 241.93Z" fill="#000" stroke="none" stroke-width="0.5"/>
<path d="M475.00 245.91L476.70 248.97L473.30 248.97Z" fill="#000" stroke="none" stroke-width="0.5"/>
<path d="M475.00 257.81L476.70 260.87L473.30 260.87Z" fill="#000" stroke="none" stroke-width="0.5"/>
<line x1="426.50" y1="213.75" x2="426.50" y2="308.35" stroke="#3c3c3c" stroke-width="0.7"/>
<line x1="426.15" y1="308.00" x2="486.50" y2="308.00" stroke="#3c3c3c" stroke-width="0.7"/>
<line x1="422.90" y1="308.00" x2="426.50" y2="308.00" stroke="#3c3c3c" stroke-width="0.7"/>
<text x="421.30" y="310.45" font-size="6.6" text-anchor="end" fill="#1a1a1a" stroke="#1a1a1a" stroke-width="0.16">0</text>
<line x1="422.90" y1="276.70" x2="426.50" y2="276.70" stroke="#3c3c3c" stroke-width="0.7"/>
<text x="421.30" y="279.15" font-size="6.6" text-anchor="end" fill="#1a1a1a" stroke="#1a1a1a" stroke-width="0.16">20</text>
<line x1="422.90" y1="245.40" x2="426.50" y2="245.40" stroke="#3c3c3c" stroke-width="0.7"/>
<text x="421.30" y="247.85" font-size="6.6" text-anchor="end" fill="#1a1a1a" stroke="#1a1a1a" stroke-width="0.16">40</text>
<line x1="422.90" y1="214.10" x2="426.50" y2="214.10" stroke="#3c3c3c" stroke-width="0.7"/>
<text x="421.30" y="216.55" font-size="6.6" text-anchor="end" fill="#1a1a1a" stroke="#1a1a1a" stroke-width="0.16">60</text>
<line x1="438.90" y1="308.00" x2="438.90" y2="311.60" stroke="#3c3c3c" stroke-width="0.7"/>
<text x="442.20" y="316.90" font-size="5.7" text-anchor="end" transform="rotate(-45 442.20 316.90)" fill="#1a1a1a" stroke="#1a1a1a" stroke-width="0.16">RISP</text>
<text x="446.15" y="322.85" font-size="5.85" text-anchor="end" transform="rotate(-45 446.15 322.85)" fill="#1a1a1a" stroke="#1a1a1a" stroke-width="0.16">WT</text>
<line x1="456.90" y1="308.00" x2="456.90" y2="311.60" stroke="#3c3c3c" stroke-width="0.7"/>
<text x="460.20" y="316.90" font-size="5.7" text-anchor="end" transform="rotate(-45 460.20 316.90)" fill="#1a1a1a" stroke="#1a1a1a" stroke-width="0.16">RISP</text>
<text x="464.71" y="322.29" font-size="5.85" text-anchor="end" transform="rotate(-45 464.71 322.29)" fill="#1a1a1a" stroke="#1a1a1a" stroke-width="0.16">KO</text>
<line x1="475.00" y1="308.00" x2="475.00" y2="311.60" stroke="#3c3c3c" stroke-width="0.7"/>
<text x="478.30" y="316.90" font-size="5.7" text-anchor="end" transform="rotate(-45 478.30 316.90)" fill="#1a1a1a" stroke="#1a1a1a" stroke-width="0.16">RISP</text>
<text x="483.94" y="321.15" font-size="5.85" text-anchor="end" transform="rotate(-45 483.94 321.15)" fill="#1a1a1a" stroke="#1a1a1a" stroke-width="0.16">KO + AOX</text>
<text x="456.20" y="191.90" font-size="8.6" text-anchor="middle" fill="#1a1a1a" stroke="#1a1a1a" stroke-width="0.16">15 d.p.i.</text>
<text x="409.60" y="262.00" font-size="7.05" text-anchor="middle" transform="rotate(-90 409.60 262.00)" fill="#1a1a1a" stroke="#1a1a1a" stroke-width="0.16">Percentage KLRG1<tspan dy="-2.6" font-size="3.8">+</tspan><tspan dy="2.6"> CD127</tspan><tspan dy="-2.6" font-size="3.8">−</tspan></text>
<line x1="438.10" y1="213.50" x2="454.70" y2="213.50" stroke="#3a3a3a" stroke-width="0.7"/>
<text x="446.40" y="215.20" font-size="11" text-anchor="middle" font-weight="bold" fill="#222" stroke="#1a1a1a" stroke-width="0.16">*</text>
<line x1="458.50" y1="213.50" x2="475.00" y2="213.50" stroke="#3a3a3a" stroke-width="0.7"/>
<text x="466.75" y="215.20" font-size="11" text-anchor="middle" font-weight="bold" fill="#222" stroke="#1a1a1a" stroke-width="0.16">*</text>
<path d="M525.70 308.00V267.25H537.30V308.00" fill="#6b6b6b" stroke="#262626" stroke-width="0.85"/>
<path d="M543.50 308.00V246.98H555.10V308.00" fill="#dcdcdc" stroke="#262626" stroke-width="0.85"/>
<path d="M561.40 308.00V260.80H573.00V308.00" fill="#9b9b9b" stroke="#262626" stroke-width="0.85"/>
<line x1="531.50" y1="264.94" x2="531.50" y2="269.55" stroke="#222" stroke-width="0.7"/>
<line x1="528.90" y1="264.94" x2="534.10" y2="264.94" stroke="#222" stroke-width="0.7"/>
<line x1="528.90" y1="269.55" x2="534.10" y2="269.55" stroke="#222" stroke-width="0.7"/>
<line x1="549.30" y1="243.30" x2="549.30" y2="250.67" stroke="#222" stroke-width="0.7"/>
<line x1="546.70" y1="243.30" x2="551.90" y2="243.30" stroke="#222" stroke-width="0.7"/>
<line x1="546.70" y1="250.67" x2="551.90" y2="250.67" stroke="#222" stroke-width="0.7"/>
<line x1="567.20" y1="255.62" x2="567.20" y2="265.98" stroke="#222" stroke-width="0.7"/>
<line x1="564.60" y1="255.62" x2="569.80" y2="255.62" stroke="#222" stroke-width="0.7"/>
<line x1="564.60" y1="265.98" x2="569.80" y2="265.98" stroke="#222" stroke-width="0.7"/>
<circle cx="531.50" cy="259.65" r="1.55" fill="#000" stroke="none" stroke-width="0.5"/>
<circle cx="528.50" cy="265.40" r="1.55" fill="#000" stroke="none" stroke-width="0.5"/>
<circle cx="534.70" cy="267.13" r="1.55" fill="#000" stroke="none" stroke-width="0.5"/>
<circle cx="528.90" cy="270.58" r="1.55" fill="#000" stroke="none" stroke-width="0.5"/>
<circle cx="533.50" cy="270.58" r="1.55" fill="#000" stroke="none" stroke-width="0.5"/>
<rect x="547.85" y="238.63" width="2.9" height="2.9" fill="#000" stroke="none" stroke-width="0.5"/>
<rect x="545.35" y="248.76" width="2.9" height="2.9" fill="#000" stroke="none" stroke-width="0.5"/>
<rect x="550.45" y="247.49" width="2.9" height="2.9" fill="#000" stroke="none" stroke-width="0.5"/>
<path d="M567.20 246.64L568.90 249.70L565.50 249.70Z" fill="#000" stroke="none" stroke-width="0.5"/>
<path d="M567.20 258.50L568.90 261.56L565.50 261.56Z" fill="#000" stroke="none" stroke-width="0.5"/>
<path d="M567.20 263.68L568.90 266.74L565.50 266.74Z" fill="#000" stroke="none" stroke-width="0.5"/>
<path d="M567.20 267.94L568.90 271.00L565.50 271.00Z" fill="#000" stroke="none" stroke-width="0.5"/>
<line x1="519.50" y1="215.55" x2="519.50" y2="308.35" stroke="#3c3c3c" stroke-width="0.7"/>
<line x1="519.15" y1="308.00" x2="579.20" y2="308.00" stroke="#3c3c3c" stroke-width="0.7"/>
<line x1="515.90" y1="308.00" x2="519.50" y2="308.00" stroke="#3c3c3c" stroke-width="0.7"/>
<text x="514.30" y="310.45" font-size="6.6" text-anchor="end" fill="#1a1a1a" stroke="#1a1a1a" stroke-width="0.16">0</text>
<line x1="515.90" y1="284.98" x2="519.50" y2="284.98" stroke="#3c3c3c" stroke-width="0.7"/>
<text x="514.30" y="287.43" font-size="6.6" text-anchor="end" fill="#1a1a1a" stroke="#1a1a1a" stroke-width="0.16">20</text>
<line x1="515.90" y1="261.95" x2="519.50" y2="261.95" stroke="#3c3c3c" stroke-width="0.7"/>
<text x="514.30" y="264.40" font-size="6.6" text-anchor="end" fill="#1a1a1a" stroke="#1a1a1a" stroke-width="0.16">40</text>
<line x1="515.90" y1="238.93" x2="519.50" y2="238.93" stroke="#3c3c3c" stroke-width="0.7"/>
<text x="514.30" y="241.38" font-size="6.6" text-anchor="end" fill="#1a1a1a" stroke="#1a1a1a" stroke-width="0.16">60</text>
<line x1="515.90" y1="215.90" x2="519.50" y2="215.90" stroke="#3c3c3c" stroke-width="0.7"/>
<text x="514.30" y="218.35" font-size="6.6" text-anchor="end" fill="#1a1a1a" stroke="#1a1a1a" stroke-width="0.16">80</text>
<line x1="531.50" y1="308.00" x2="531.50" y2="311.60" stroke="#3c3c3c" stroke-width="0.7"/>
<text x="534.80" y="316.90" font-size="5.7" text-anchor="end" transform="rotate(-45 534.80 316.90)" fill="#1a1a1a" stroke="#1a1a1a" stroke-width="0.16">RISP</text>
<text x="538.75" y="322.85" font-size="5.85" text-anchor="end" transform="rotate(-45 538.75 322.85)" fill="#1a1a1a" stroke="#1a1a1a" stroke-width="0.16">WT</text>
<line x1="549.30" y1="308.00" x2="549.30" y2="311.60" stroke="#3c3c3c" stroke-width="0.7"/>
<text x="552.60" y="316.90" font-size="5.7" text-anchor="end" transform="rotate(-45 552.60 316.90)" fill="#1a1a1a" stroke="#1a1a1a" stroke-width="0.16">RISP</text>
<text x="557.11" y="322.29" font-size="5.85" text-anchor="end" transform="rotate(-45 557.11 322.29)" fill="#1a1a1a" stroke="#1a1a1a" stroke-width="0.16">KO</text>
<line x1="567.20" y1="308.00" x2="567.20" y2="311.60" stroke="#3c3c3c" stroke-width="0.7"/>
<text x="570.50" y="316.90" font-size="5.7" text-anchor="end" transform="rotate(-45 570.50 316.90)" fill="#1a1a1a" stroke="#1a1a1a" stroke-width="0.16">RISP</text>
<text x="576.14" y="321.15" font-size="5.85" text-anchor="end" transform="rotate(-45 576.14 321.15)" fill="#1a1a1a" stroke="#1a1a1a" stroke-width="0.16">KO + AOX</text>
<text x="549.10" y="191.90" font-size="8.6" text-anchor="middle" fill="#1a1a1a" stroke="#1a1a1a" stroke-width="0.16">21 d.p.i.</text>
<text x="501.80" y="262.00" font-size="7.05" text-anchor="middle" transform="rotate(-90 501.80 262.00)" fill="#1a1a1a" stroke="#1a1a1a" stroke-width="0.16">Percentage KLRG1<tspan dy="-2.6" font-size="3.8">+</tspan><tspan dy="2.6"> CD127</tspan><tspan dy="-2.6" font-size="3.8">−</tspan></text>
<line x1="531.30" y1="228.50" x2="549.40" y2="228.50" stroke="#3a3a3a" stroke-width="0.7"/>
<text x="540.35" y="230.20" font-size="11" text-anchor="middle" font-weight="bold" fill="#222" stroke="#1a1a1a" stroke-width="0.16">*</text>
<path d="M619.20 308.00V262.99H630.80V308.00" fill="#6b6b6b" stroke="#262626" stroke-width="0.85"/>
<path d="M637.10 308.00V234.20H648.70V308.00" fill="#dcdcdc" stroke="#262626" stroke-width="0.85"/>
<path d="M655.10 308.00V246.41H666.70V308.00" fill="#9b9b9b" stroke="#262626" stroke-width="0.85"/>
<line x1="625.00" y1="260.91" x2="625.00" y2="265.06" stroke="#222" stroke-width="0.7"/>
<line x1="622.40" y1="260.91" x2="627.60" y2="260.91" stroke="#222" stroke-width="0.7"/>
<line x1="622.40" y1="265.06" x2="627.60" y2="265.06" stroke="#222" stroke-width="0.7"/>
<line x1="642.90" y1="230.75" x2="642.90" y2="237.66" stroke="#222" stroke-width="0.7"/>
<line x1="640.30" y1="230.75" x2="645.50" y2="230.75" stroke="#222" stroke-width="0.7"/>
<line x1="640.30" y1="237.66" x2="645.50" y2="237.66" stroke="#222" stroke-width="0.7"/>
<line x1="660.90" y1="244.68" x2="660.90" y2="248.13" stroke="#222" stroke-width="0.7"/>
<line x1="658.30" y1="244.68" x2="663.50" y2="244.68" stroke="#222" stroke-width="0.7"/>
<line x1="658.30" y1="248.13" x2="663.50" y2="248.13" stroke="#222" stroke-width="0.7"/>
<circle cx="622.00" cy="257.11" r="1.55" fill="#000" stroke="none" stroke-width="0.5"/>
<circle cx="628.00" cy="258.61" r="1.55" fill="#000" stroke="none" stroke-width="0.5"/>
<circle cx="625.00" cy="262.53" r="1.55" fill="#000" stroke="none" stroke-width="0.5"/>
<circle cx="622.00" cy="265.98" r="1.55" fill="#000" stroke="none" stroke-width="0.5"/>
<circle cx="628.00" cy="265.98" r="1.55" fill="#000" stroke="none" stroke-width="0.5"/>
<rect x="641.45" y="225.85" width="2.9" height="2.9" fill="#000" stroke="none" stroke-width="0.5"/>
<rect x="638.85" y="234.71" width="2.9" height="2.9" fill="#000" stroke="none" stroke-width="0.5"/>
<rect x="644.45" y="234.71" width="2.9" height="2.9" fill="#000" stroke="none" stroke-width="0.5"/>
<path d="M658.10 242.04L659.80 245.10L656.40 245.10Z" fill="#000" stroke="none" stroke-width="0.5"/>
<path d="M663.70 240.77L665.40 243.83L662.00 243.83Z" fill="#000" stroke="none" stroke-width="0.5"/>
<path d="M658.10 247.68L659.80 250.74L656.40 250.74Z" fill="#000" stroke="none" stroke-width="0.5"/>
<path d="M663.70 245.84L665.40 248.90L662.00 248.90Z" fill="#000" stroke="none" stroke-width="0.5"/>
<line x1="612.50" y1="215.55" x2="612.50" y2="308.35" stroke="#3c3c3c" stroke-width="0.7"/>
<line x1="612.15" y1="308.00" x2="672.80" y2="308.00" stroke="#3c3c3c" stroke-width="0.7"/>
<line x1="608.90" y1="308.00" x2="612.50" y2="308.00" stroke="#3c3c3c" stroke-width="0.7"/>
<text x="607.30" y="310.45" font-size="6.6" text-anchor="end" fill="#1a1a1a" stroke="#1a1a1a" stroke-width="0.16">0</text>
<line x1="608.90" y1="284.98" x2="612.50" y2="284.98" stroke="#3c3c3c" stroke-width="0.7"/>
<text x="607.30" y="287.43" font-size="6.6" text-anchor="end" fill="#1a1a1a" stroke="#1a1a1a" stroke-width="0.16">20</text>
<line x1="608.90" y1="261.95" x2="612.50" y2="261.95" stroke="#3c3c3c" stroke-width="0.7"/>
<text x="607.30" y="264.40" font-size="6.6" text-anchor="end" fill="#1a1a1a" stroke="#1a1a1a" stroke-width="0.16">40</text>
<line x1="608.90" y1="238.93" x2="612.50" y2="238.93" stroke="#3c3c3c" stroke-width="0.7"/>
<text x="607.30" y="241.38" font-size="6.6" text-anchor="end" fill="#1a1a1a" stroke="#1a1a1a" stroke-width="0.16">60</text>
<line x1="608.90" y1="215.90" x2="612.50" y2="215.90" stroke="#3c3c3c" stroke-width="0.7"/>
<text x="607.30" y="218.35" font-size="6.6" text-anchor="end" fill="#1a1a1a" stroke="#1a1a1a" stroke-width="0.16">80</text>
<line x1="625.00" y1="308.00" x2="625.00" y2="311.60" stroke="#3c3c3c" stroke-width="0.7"/>
<text x="628.30" y="316.90" font-size="5.7" text-anchor="end" transform="rotate(-45 628.30 316.90)" fill="#1a1a1a" stroke="#1a1a1a" stroke-width="0.16">RISP</text>
<text x="632.25" y="322.85" font-size="5.85" text-anchor="end" transform="rotate(-45 632.25 322.85)" fill="#1a1a1a" stroke="#1a1a1a" stroke-width="0.16">WT</text>
<line x1="642.90" y1="308.00" x2="642.90" y2="311.60" stroke="#3c3c3c" stroke-width="0.7"/>
<text x="646.20" y="316.90" font-size="5.7" text-anchor="end" transform="rotate(-45 646.20 316.90)" fill="#1a1a1a" stroke="#1a1a1a" stroke-width="0.16">RISP</text>
<text x="650.71" y="322.29" font-size="5.85" text-anchor="end" transform="rotate(-45 650.71 322.29)" fill="#1a1a1a" stroke="#1a1a1a" stroke-width="0.16">KO</text>
<line x1="660.90" y1="308.00" x2="660.90" y2="311.60" stroke="#3c3c3c" stroke-width="0.7"/>
<text x="664.20" y="316.90" font-size="5.7" text-anchor="end" transform="rotate(-45 664.20 316.90)" fill="#1a1a1a" stroke="#1a1a1a" stroke-width="0.16">RISP</text>
<text x="669.84" y="321.15" font-size="5.85" text-anchor="end" transform="rotate(-45 669.84 321.15)" fill="#1a1a1a" stroke="#1a1a1a" stroke-width="0.16">KO + AOX</text>
<text x="642.80" y="191.90" font-size="8.6" text-anchor="middle" fill="#1a1a1a" stroke="#1a1a1a" stroke-width="0.16">30 d.p.i.</text>
<text x="594.70" y="263.00" font-size="7.05" text-anchor="middle" transform="rotate(-90 594.70 263.00)" fill="#1a1a1a" stroke="#1a1a1a" stroke-width="0.16">Percentage KLRG1<tspan dy="-2.6" font-size="3.8">+</tspan><tspan dy="2.6"> CD127</tspan><tspan dy="-2.6" font-size="3.8">−</tspan></text>
<line x1="625.00" y1="206.50" x2="661.10" y2="206.50" stroke="#3a3a3a" stroke-width="0.7"/>
<text x="643.05" y="208.20" font-size="11" text-anchor="middle" font-weight="bold" fill="#222" stroke="#1a1a1a" stroke-width="0.16">*</text>
<line x1="625.00" y1="222.50" x2="640.20" y2="222.50" stroke="#3a3a3a" stroke-width="0.7"/>
<text x="632.60" y="224.20" font-size="11" text-anchor="middle" font-weight="bold" fill="#222" stroke="#1a1a1a" stroke-width="0.16">*</text>
<line x1="644.80" y1="222.50" x2="661.10" y2="222.50" stroke="#3a3a3a" stroke-width="0.7"/>
<text x="652.95" y="224.20" font-size="11" text-anchor="middle" font-weight="bold" fill="#222" stroke="#1a1a1a" stroke-width="0.16">*</text>
<path d="M432.50 461.60V393.65H444.10V461.60" fill="#6b6b6b" stroke="#262626" stroke-width="0.85"/>
<path d="M450.30 461.60V424.98H461.90V461.60" fill="#dcdcdc" stroke="#262626" stroke-width="0.85"/>
<path d="M468.10 461.60V404.40H479.70V461.60" fill="#9b9b9b" stroke="#262626" stroke-width="0.85"/>
<line x1="438.30" y1="390.93" x2="438.30" y2="396.38" stroke="#222" stroke-width="0.7"/>
<line x1="435.70" y1="390.93" x2="440.90" y2="390.93" stroke="#222" stroke-width="0.7"/>
<line x1="435.70" y1="396.38" x2="440.90" y2="396.38" stroke="#222" stroke-width="0.7"/>
<line x1="456.10" y1="424.22" x2="456.10" y2="425.73" stroke="#222" stroke-width="0.7"/>
<line x1="453.50" y1="424.22" x2="458.70" y2="424.22" stroke="#222" stroke-width="0.7"/>
<line x1="453.50" y1="425.73" x2="458.70" y2="425.73" stroke="#222" stroke-width="0.7"/>
<line x1="473.90" y1="398.80" x2="473.90" y2="410.00" stroke="#222" stroke-width="0.7"/>
<line x1="471.30" y1="398.80" x2="476.50" y2="398.80" stroke="#222" stroke-width="0.7"/>
<line x1="471.30" y1="410.00" x2="476.50" y2="410.00" stroke="#222" stroke-width="0.7"/>
<circle cx="438.30" cy="384.72" r="1.55" fill="#000" stroke="none" stroke-width="0.5"/>
<circle cx="435.70" cy="391.68" r="1.55" fill="#000" stroke="none" stroke-width="0.5"/>
<circle cx="440.70" cy="392.44" r="1.55" fill="#000" stroke="none" stroke-width="0.5"/>
<circle cx="439.50" cy="396.22" r="1.55" fill="#000" stroke="none" stroke-width="0.5"/>
<circle cx="438.30" cy="400.76" r="1.55" fill="#000" stroke="none" stroke-width="0.5"/>
<rect x="450.85" y="423.53" width="2.9" height="2.9" fill="#000" stroke="none" stroke-width="0.5"/>
<rect x="454.65" y="421.56" width="2.9" height="2.9" fill="#000" stroke="none" stroke-width="0.5"/>
<rect x="458.45" y="422.77" width="2.9" height="2.9" fill="#000" stroke="none" stroke-width="0.5"/>
<path d="M473.90 388.03L475.60 391.09L472.20 391.09Z" fill="#000" stroke="none" stroke-width="0.5"/>
<path d="M473.90 400.74L475.60 403.80L472.20 403.80Z" fill="#000" stroke="none" stroke-width="0.5"/>
<path d="M472.60 407.10L474.30 410.16L470.90 410.16Z" fill="#000" stroke="none" stroke-width="0.5"/>
<path d="M475.20 409.67L476.90 412.73L473.50 412.73Z" fill="#000" stroke="none" stroke-width="0.5"/>
<line x1="426.50" y1="370.45" x2="426.50" y2="461.95" stroke="#3c3c3c" stroke-width="0.7"/>
<line x1="426.15" y1="461.60" x2="486.50" y2="461.60" stroke="#3c3c3c" stroke-width="0.7"/>
<line x1="422.90" y1="461.60" x2="426.50" y2="461.60" stroke="#3c3c3c" stroke-width="0.7"/>
<text x="421.30" y="464.05" font-size="6.6" text-anchor="end" fill="#1a1a1a" stroke="#1a1a1a" stroke-width="0.16">0</text>
<line x1="422.90" y1="431.33" x2="426.50" y2="431.33" stroke="#3c3c3c" stroke-width="0.7"/>
<text x="421.30" y="433.78" font-size="6.6" text-anchor="end" fill="#1a1a1a" stroke="#1a1a1a" stroke-width="0.16">20</text>
<line x1="422.90" y1="401.07" x2="426.50" y2="401.07" stroke="#3c3c3c" stroke-width="0.7"/>
<text x="421.30" y="403.52" font-size="6.6" text-anchor="end" fill="#1a1a1a" stroke="#1a1a1a" stroke-width="0.16">40</text>
<line x1="422.90" y1="370.80" x2="426.50" y2="370.80" stroke="#3c3c3c" stroke-width="0.7"/>
<text x="421.30" y="373.25" font-size="6.6" text-anchor="end" fill="#1a1a1a" stroke="#1a1a1a" stroke-width="0.16">60</text>
<line x1="438.30" y1="461.60" x2="438.30" y2="465.20" stroke="#3c3c3c" stroke-width="0.7"/>
<text x="441.60" y="470.50" font-size="5.7" text-anchor="end" transform="rotate(-45 441.60 470.50)" fill="#1a1a1a" stroke="#1a1a1a" stroke-width="0.16">RISP</text>
<text x="445.55" y="476.45" font-size="5.85" text-anchor="end" transform="rotate(-45 445.55 476.45)" fill="#1a1a1a" stroke="#1a1a1a" stroke-width="0.16">WT</text>
<line x1="456.10" y1="461.60" x2="456.10" y2="465.20" stroke="#3c3c3c" stroke-width="0.7"/>
<text x="459.40" y="470.50" font-size="5.7" text-anchor="end" transform="rotate(-45 459.40 470.50)" fill="#1a1a1a" stroke="#1a1a1a" stroke-width="0.16">RISP</text>
<text x="463.91" y="475.89" font-size="5.85" text-anchor="end" transform="rotate(-45 463.91 475.89)" fill="#1a1a1a" stroke="#1a1a1a" stroke-width="0.16">KO</text>
<line x1="473.90" y1="461.60" x2="473.90" y2="465.20" stroke="#3c3c3c" stroke-width="0.7"/>
<text x="477.20" y="470.50" font-size="5.7" text-anchor="end" transform="rotate(-45 477.20 470.50)" fill="#1a1a1a" stroke="#1a1a1a" stroke-width="0.16">RISP</text>
<text x="482.84" y="474.75" font-size="5.85" text-anchor="end" transform="rotate(-45 482.84 474.75)" fill="#1a1a1a" stroke="#1a1a1a" stroke-width="0.16">KO + AOX</text>
<text x="456.20" y="353.70" font-size="8.6" text-anchor="middle" fill="#1a1a1a" stroke="#1a1a1a" stroke-width="0.16">15 d.p.i.</text>
<text x="408.60" y="417.00" font-size="7.05" text-anchor="middle" transform="rotate(-90 408.60 417.00)" fill="#1a1a1a" stroke="#1a1a1a" stroke-width="0.16">Percentage KLRG1– CD127+</text>
<line x1="438.10" y1="374.50" x2="454.70" y2="374.50" stroke="#3a3a3a" stroke-width="0.7"/>
<text x="446.40" y="376.20" font-size="11" text-anchor="middle" font-weight="bold" fill="#222" stroke="#1a1a1a" stroke-width="0.16">*</text>
<line x1="457.70" y1="374.50" x2="474.30" y2="374.50" stroke="#3a3a3a" stroke-width="0.7"/>
<text x="466.00" y="376.20" font-size="11" text-anchor="middle" font-weight="bold" fill="#222" stroke="#1a1a1a" stroke-width="0.16">*</text>
<path d="M525.70 461.10V392.40H537.30V461.10" fill="#6b6b6b" stroke="#262626" stroke-width="0.85"/>
<path d="M543.50 461.10V421.25H555.10V461.10" fill="#dcdcdc" stroke="#262626" stroke-width="0.85"/>
<path d="M561.40 461.10V399.27H573.00V461.10" fill="#9b9b9b" stroke="#262626" stroke-width="0.85"/>
<line x1="531.50" y1="389.65" x2="531.50" y2="395.15" stroke="#222" stroke-width="0.7"/>
<line x1="528.90" y1="389.65" x2="534.10" y2="389.65" stroke="#222" stroke-width="0.7"/>
<line x1="528.90" y1="395.15" x2="534.10" y2="395.15" stroke="#222" stroke-width="0.7"/>
<line x1="549.30" y1="418.51" x2="549.30" y2="424.00" stroke="#222" stroke-width="0.7"/>
<line x1="546.70" y1="418.51" x2="551.90" y2="418.51" stroke="#222" stroke-width="0.7"/>
<line x1="546.70" y1="424.00" x2="551.90" y2="424.00" stroke="#222" stroke-width="0.7"/>
<line x1="567.20" y1="392.25" x2="567.20" y2="406.29" stroke="#222" stroke-width="0.7"/>
<line x1="564.60" y1="392.25" x2="569.80" y2="392.25" stroke="#222" stroke-width="0.7"/>
<line x1="564.60" y1="406.29" x2="569.80" y2="406.29" stroke="#222" stroke-width="0.7"/>
<circle cx="531.50" cy="384.00" r="1.55" fill="#000" stroke="none" stroke-width="0.5"/>
<circle cx="528.90" cy="391.64" r="1.55" fill="#000" stroke="none" stroke-width="0.5"/>
<circle cx="534.10" cy="391.64" r="1.55" fill="#000" stroke="none" stroke-width="0.5"/>
<circle cx="529.60" cy="398.81" r="1.55" fill="#000" stroke="none" stroke-width="0.5"/>
<circle cx="533.40" cy="396.22" r="1.55" fill="#000" stroke="none" stroke-width="0.5"/>
<rect x="547.85" y="415.22" width="2.9" height="2.9" fill="#000" stroke="none" stroke-width="0.5"/>
<rect x="546.65" y="418.28" width="2.9" height="2.9" fill="#000" stroke="none" stroke-width="0.5"/>
<rect x="549.15" y="420.26" width="2.9" height="2.9" fill="#000" stroke="none" stroke-width="0.5"/>
<rect x="547.85" y="425.30" width="2.9" height="2.9" fill="#000" stroke="none" stroke-width="0.5"/>
<path d="M564.70 386.29L566.40 389.35L563.00 389.35Z" fill="#000" stroke="none" stroke-width="0.5"/>
<path d="M570.20 384.30L571.90 387.36L568.50 387.36Z" fill="#000" stroke="none" stroke-width="0.5"/>
<path d="M567.20 403.39L568.90 406.45L565.50 406.45Z" fill="#000" stroke="none" stroke-width="0.5"/>
<path d="M567.20 411.02L568.90 414.08L565.50 414.08Z" fill="#000" stroke="none" stroke-width="0.5"/>
<line x1="519.50" y1="369.15" x2="519.50" y2="461.45" stroke="#3c3c3c" stroke-width="0.7"/>
<line x1="519.15" y1="461.10" x2="579.20" y2="461.10" stroke="#3c3c3c" stroke-width="0.7"/>
<line x1="515.90" y1="461.10" x2="519.50" y2="461.10" stroke="#3c3c3c" stroke-width="0.7"/>
<text x="514.30" y="463.55" font-size="6.6" text-anchor="end" fill="#1a1a1a" stroke="#1a1a1a" stroke-width="0.16">0</text>
<line x1="515.90" y1="430.57" x2="519.50" y2="430.57" stroke="#3c3c3c" stroke-width="0.7"/>
<text x="514.30" y="433.02" font-size="6.6" text-anchor="end" fill="#1a1a1a" stroke="#1a1a1a" stroke-width="0.16">20</text>
<line x1="515.90" y1="400.03" x2="519.50" y2="400.03" stroke="#3c3c3c" stroke-width="0.7"/>
<text x="514.30" y="402.48" font-size="6.6" text-anchor="end" fill="#1a1a1a" stroke="#1a1a1a" stroke-width="0.16">40</text>
<line x1="515.90" y1="369.50" x2="519.50" y2="369.50" stroke="#3c3c3c" stroke-width="0.7"/>
<text x="514.30" y="371.95" font-size="6.6" text-anchor="end" fill="#1a1a1a" stroke="#1a1a1a" stroke-width="0.16">60</text>
<line x1="531.50" y1="461.10" x2="531.50" y2="464.70" stroke="#3c3c3c" stroke-width="0.7"/>
<text x="534.80" y="470.00" font-size="5.7" text-anchor="end" transform="rotate(-45 534.80 470.00)" fill="#1a1a1a" stroke="#1a1a1a" stroke-width="0.16">RISP</text>
<text x="538.75" y="475.95" font-size="5.85" text-anchor="end" transform="rotate(-45 538.75 475.95)" fill="#1a1a1a" stroke="#1a1a1a" stroke-width="0.16">WT</text>
<line x1="549.30" y1="461.10" x2="549.30" y2="464.70" stroke="#3c3c3c" stroke-width="0.7"/>
<text x="552.60" y="470.00" font-size="5.7" text-anchor="end" transform="rotate(-45 552.60 470.00)" fill="#1a1a1a" stroke="#1a1a1a" stroke-width="0.16">RISP</text>
<text x="557.11" y="475.39" font-size="5.85" text-anchor="end" transform="rotate(-45 557.11 475.39)" fill="#1a1a1a" stroke="#1a1a1a" stroke-width="0.16">KO</text>
<line x1="567.20" y1="461.10" x2="567.20" y2="464.70" stroke="#3c3c3c" stroke-width="0.7"/>
<text x="570.50" y="470.00" font-size="5.7" text-anchor="end" transform="rotate(-45 570.50 470.00)" fill="#1a1a1a" stroke="#1a1a1a" stroke-width="0.16">RISP</text>
<text x="576.14" y="474.25" font-size="5.85" text-anchor="end" transform="rotate(-45 576.14 474.25)" fill="#1a1a1a" stroke="#1a1a1a" stroke-width="0.16">KO + AOX</text>
<text x="549.10" y="353.70" font-size="8.6" text-anchor="middle" fill="#1a1a1a" stroke="#1a1a1a" stroke-width="0.16">21 d.p.i.</text>
<text x="501.80" y="417.00" font-size="7.05" text-anchor="middle" transform="rotate(-90 501.80 417.00)" fill="#1a1a1a" stroke="#1a1a1a" stroke-width="0.16">Percentage KLRG1– CD127+</text>
<line x1="531.30" y1="372.50" x2="547.40" y2="372.50" stroke="#3a3a3a" stroke-width="0.7"/>
<text x="539.35" y="374.20" font-size="11" text-anchor="middle" font-weight="bold" fill="#222" stroke="#1a1a1a" stroke-width="0.16">*</text>
<line x1="551.20" y1="372.50" x2="567.70" y2="372.50" stroke="#3a3a3a" stroke-width="0.7"/>
<text x="559.45" y="374.20" font-size="11" text-anchor="middle" font-weight="bold" fill="#222" stroke="#1a1a1a" stroke-width="0.16">*</text>
<path d="M619.20 461.10V385.99H630.80V461.10" fill="#6b6b6b" stroke="#262626" stroke-width="0.85"/>
<path d="M637.10 461.10V433.62H648.70V461.10" fill="#dcdcdc" stroke="#262626" stroke-width="0.85"/>
<path d="M655.10 461.10V412.19H666.70V461.10" fill="#9b9b9b" stroke="#262626" stroke-width="0.85"/>
<line x1="625.00" y1="383.24" x2="625.00" y2="388.74" stroke="#222" stroke-width="0.7"/>
<line x1="622.40" y1="383.24" x2="627.60" y2="383.24" stroke="#222" stroke-width="0.7"/>
<line x1="622.40" y1="388.74" x2="627.60" y2="388.74" stroke="#222" stroke-width="0.7"/>
<line x1="642.90" y1="429.96" x2="642.90" y2="437.28" stroke="#222" stroke-width="0.7"/>
<line x1="640.30" y1="429.96" x2="645.50" y2="429.96" stroke="#222" stroke-width="0.7"/>
<line x1="640.30" y1="437.28" x2="645.50" y2="437.28" stroke="#222" stroke-width="0.7"/>
<line x1="660.90" y1="409.80" x2="660.90" y2="414.57" stroke="#222" stroke-width="0.7"/>
<line x1="658.30" y1="409.80" x2="663.50" y2="409.80" stroke="#222" stroke-width="0.7"/>
<line x1="658.30" y1="414.57" x2="663.50" y2="414.57" stroke="#222" stroke-width="0.7"/>
<circle cx="622.00" cy="378.48" r="1.55" fill="#000" stroke="none" stroke-width="0.5"/>
<circle cx="628.00" cy="379.21" r="1.55" fill="#000" stroke="none" stroke-width="0.5"/>
<circle cx="625.00" cy="385.99" r="1.55" fill="#000" stroke="none" stroke-width="0.5"/>
<circle cx="622.00" cy="391.67" r="1.55" fill="#000" stroke="none" stroke-width="0.5"/>
<circle cx="628.00" cy="391.67" r="1.55" fill="#000" stroke="none" stroke-width="0.5"/>
<rect x="638.85" y="427.41" width="2.9" height="2.9" fill="#000" stroke="none" stroke-width="0.5"/>
<rect x="644.45" y="428.32" width="2.9" height="2.9" fill="#000" stroke="none" stroke-width="0.5"/>
<rect x="641.45" y="438.58" width="2.9" height="2.9" fill="#000" stroke="none" stroke-width="0.5"/>
<path d="M660.90 404.12L662.60 407.18L659.20 407.18Z" fill="#000" stroke="none" stroke-width="0.5"/>
<path d="M658.10 410.90L659.80 413.96L656.40 413.96Z" fill="#000" stroke="none" stroke-width="0.5"/>
<path d="M663.70 410.90L665.40 413.96L662.00 413.96Z" fill="#000" stroke="none" stroke-width="0.5"/>
<path d="M660.90 414.01L662.60 417.07L659.20 417.07Z" fill="#000" stroke="none" stroke-width="0.5"/>
<line x1="612.50" y1="369.15" x2="612.50" y2="461.45" stroke="#3c3c3c" stroke-width="0.7"/>
<line x1="612.15" y1="461.10" x2="672.80" y2="461.10" stroke="#3c3c3c" stroke-width="0.7"/>
<line x1="608.90" y1="461.10" x2="612.50" y2="461.10" stroke="#3c3c3c" stroke-width="0.7"/>
<text x="607.30" y="463.55" font-size="6.6" text-anchor="end" fill="#1a1a1a" stroke="#1a1a1a" stroke-width="0.16">0</text>
<line x1="608.90" y1="442.78" x2="612.50" y2="442.78" stroke="#3c3c3c" stroke-width="0.7"/>
<text x="607.30" y="445.23" font-size="6.6" text-anchor="end" fill="#1a1a1a" stroke="#1a1a1a" stroke-width="0.16">10</text>
<line x1="608.90" y1="424.46" x2="612.50" y2="424.46" stroke="#3c3c3c" stroke-width="0.7"/>
<text x="607.30" y="426.91" font-size="6.6" text-anchor="end" fill="#1a1a1a" stroke="#1a1a1a" stroke-width="0.16">20</text>
<line x1="608.90" y1="406.14" x2="612.50" y2="406.14" stroke="#3c3c3c" stroke-width="0.7"/>
<text x="607.30" y="408.59" font-size="6.6" text-anchor="end" fill="#1a1a1a" stroke="#1a1a1a" stroke-width="0.16">30</text>
<line x1="608.90" y1="387.82" x2="612.50" y2="387.82" stroke="#3c3c3c" stroke-width="0.7"/>
<text x="607.30" y="390.27" font-size="6.6" text-anchor="end" fill="#1a1a1a" stroke="#1a1a1a" stroke-width="0.16">40</text>
<line x1="608.90" y1="369.50" x2="612.50" y2="369.50" stroke="#3c3c3c" stroke-width="0.7"/>
<text x="607.30" y="371.95" font-size="6.6" text-anchor="end" fill="#1a1a1a" stroke="#1a1a1a" stroke-width="0.16">50</text>
<line x1="625.00" y1="461.10" x2="625.00" y2="464.70" stroke="#3c3c3c" stroke-width="0.7"/>
<text x="628.30" y="470.00" font-size="5.7" text-anchor="end" transform="rotate(-45 628.30 470.00)" fill="#1a1a1a" stroke="#1a1a1a" stroke-width="0.16">RISP</text>
<text x="632.25" y="475.95" font-size="5.85" text-anchor="end" transform="rotate(-45 632.25 475.95)" fill="#1a1a1a" stroke="#1a1a1a" stroke-width="0.16">WT</text>
<line x1="642.90" y1="461.10" x2="642.90" y2="464.70" stroke="#3c3c3c" stroke-width="0.7"/>
<text x="646.20" y="470.00" font-size="5.7" text-anchor="end" transform="rotate(-45 646.20 470.00)" fill="#1a1a1a" stroke="#1a1a1a" stroke-width="0.16">RISP</text>
<text x="650.71" y="475.39" font-size="5.85" text-anchor="end" transform="rotate(-45 650.71 475.39)" fill="#1a1a1a" stroke="#1a1a1a" stroke-width="0.16">KO</text>
<line x1="660.90" y1="461.10" x2="660.90" y2="464.70" stroke="#3c3c3c" stroke-width="0.7"/>
<text x="664.20" y="470.00" font-size="5.7" text-anchor="end" transform="rotate(-45 664.20 470.00)" fill="#1a1a1a" stroke="#1a1a1a" stroke-width="0.16">RISP</text>
<text x="669.84" y="474.25" font-size="5.85" text-anchor="end" transform="rotate(-45 669.84 474.25)" fill="#1a1a1a" stroke="#1a1a1a" stroke-width="0.16">KO + AOX</text>
<text x="642.80" y="353.70" font-size="8.6" text-anchor="middle" fill="#1a1a1a" stroke="#1a1a1a" stroke-width="0.16">30 d.p.i.</text>
<text x="594.70" y="417.00" font-size="7.05" text-anchor="middle" transform="rotate(-90 594.70 417.00)" fill="#1a1a1a" stroke="#1a1a1a" stroke-width="0.16">Percentage KLRG1– CD127+</text>
<line x1="625.00" y1="362.50" x2="661.10" y2="362.50" stroke="#3a3a3a" stroke-width="0.7"/>
<text x="643.05" y="364.20" font-size="11" text-anchor="middle" font-weight="bold" fill="#222" stroke="#1a1a1a" stroke-width="0.16">*</text>
<line x1="625.00" y1="372.50" x2="640.20" y2="372.50" stroke="#3a3a3a" stroke-width="0.7"/>
<text x="632.60" y="374.20" font-size="11" text-anchor="middle" font-weight="bold" fill="#222" stroke="#1a1a1a" stroke-width="0.16">*</text>
<line x1="644.80" y1="372.50" x2="661.10" y2="372.50" stroke="#3a3a3a" stroke-width="0.7"/>
<text x="652.95" y="374.20" font-size="11" text-anchor="middle" font-weight="bold" fill="#222" stroke="#1a1a1a" stroke-width="0.16">*</text>
<text transform="translate(0.30 524.60) scale(1.12 1)" font-size="12.2" text-anchor="start" font-weight="bold" fill="#000" stroke="#000" stroke-width="0.4">i</text>
<path d="M43.20 634.90V567.27H54.80V634.90" fill="#6b6b6b" stroke="#262626" stroke-width="0.85"/>
<path d="M62.00 634.90V557.80H73.60V634.90" fill="#dcdcdc" stroke="#262626" stroke-width="0.85"/>
<path d="M80.30 634.90V566.00H91.90V634.90" fill="#9b9b9b" stroke="#262626" stroke-width="0.85"/>
<line x1="49.00" y1="566.00" x2="49.00" y2="568.55" stroke="#222" stroke-width="0.7"/>
<line x1="46.40" y1="566.00" x2="51.60" y2="566.00" stroke="#222" stroke-width="0.7"/>
<line x1="46.40" y1="568.55" x2="51.60" y2="568.55" stroke="#222" stroke-width="0.7"/>
<line x1="67.80" y1="555.25" x2="67.80" y2="560.35" stroke="#222" stroke-width="0.7"/>
<line x1="65.20" y1="555.25" x2="70.40" y2="555.25" stroke="#222" stroke-width="0.7"/>
<line x1="65.20" y1="560.35" x2="70.40" y2="560.35" stroke="#222" stroke-width="0.7"/>
<line x1="86.10" y1="563.76" x2="86.10" y2="568.23" stroke="#222" stroke-width="0.7"/>
<line x1="83.50" y1="563.76" x2="88.70" y2="563.76" stroke="#222" stroke-width="0.7"/>
<line x1="83.50" y1="568.23" x2="88.70" y2="568.23" stroke="#222" stroke-width="0.7"/>
<circle cx="49.00" cy="562.90" r="1.55" fill="#000" stroke="none" stroke-width="0.5"/>
<circle cx="46.00" cy="566.19" r="1.55" fill="#000" stroke="none" stroke-width="0.5"/>
<circle cx="52.20" cy="566.19" r="1.55" fill="#000" stroke="none" stroke-width="0.5"/>
<circle cx="45.40" cy="569.76" r="1.55" fill="#000" stroke="none" stroke-width="0.5"/>
<circle cx="49.00" cy="569.82" r="1.55" fill="#000" stroke="none" stroke-width="0.5"/>
<circle cx="52.30" cy="570.14" r="1.55" fill="#000" stroke="none" stroke-width="0.5"/>
<rect x="63.35" y="553.06" width="2.9" height="2.9" fill="#000" stroke="none" stroke-width="0.5"/>
<rect x="69.35" y="553.06" width="2.9" height="2.9" fill="#000" stroke="none" stroke-width="0.5"/>
<rect x="66.35" y="560.18" width="2.9" height="2.9" fill="#000" stroke="none" stroke-width="0.5"/>
<path d="M86.10 555.23L87.80 558.29L84.40 558.29Z" fill="#000" stroke="none" stroke-width="0.5"/>
<path d="M86.10 561.07L87.80 564.13L84.40 564.13Z" fill="#000" stroke="none" stroke-width="0.5"/>
<path d="M82.70 566.14L84.40 569.20L81.00 569.20Z" fill="#000" stroke="none" stroke-width="0.5"/>
<path d="M89.10 565.44L90.80 568.50L87.40 568.50Z" fill="#000" stroke="none" stroke-width="0.5"/>
<path d="M82.10 568.69L83.80 571.75L80.40 571.75Z" fill="#000" stroke="none" stroke-width="0.5"/>
<line x1="36.50" y1="538.85" x2="36.50" y2="635.25" stroke="#3c3c3c" stroke-width="0.7"/>
<line x1="36.15" y1="634.90" x2="98.50" y2="634.90" stroke="#3c3c3c" stroke-width="0.7"/>
<line x1="32.90" y1="634.90" x2="36.50" y2="634.90" stroke="#3c3c3c" stroke-width="0.7"/>
<text x="31.30" y="637.35" font-size="6.6" text-anchor="end" fill="#1a1a1a" stroke="#1a1a1a" stroke-width="0.16">0</text>
<line x1="32.90" y1="603.00" x2="36.50" y2="603.00" stroke="#3c3c3c" stroke-width="0.7"/>
<text x="31.30" y="605.45" font-size="6.6" text-anchor="end" fill="#1a1a1a" stroke="#1a1a1a" stroke-width="0.16">100</text>
<line x1="32.90" y1="571.10" x2="36.50" y2="571.10" stroke="#3c3c3c" stroke-width="0.7"/>
<text x="31.30" y="573.55" font-size="6.6" text-anchor="end" fill="#1a1a1a" stroke="#1a1a1a" stroke-width="0.16">200</text>
<line x1="32.90" y1="539.20" x2="36.50" y2="539.20" stroke="#3c3c3c" stroke-width="0.7"/>
<text x="31.30" y="541.65" font-size="6.6" text-anchor="end" fill="#1a1a1a" stroke="#1a1a1a" stroke-width="0.16">300</text>
<line x1="49.00" y1="634.90" x2="49.00" y2="638.50" stroke="#3c3c3c" stroke-width="0.7"/>
<text x="52.30" y="643.80" font-size="5.7" text-anchor="end" transform="rotate(-45 52.30 643.80)" fill="#1a1a1a" stroke="#1a1a1a" stroke-width="0.16">RISP</text>
<text x="56.25" y="649.75" font-size="5.85" text-anchor="end" transform="rotate(-45 56.25 649.75)" fill="#1a1a1a" stroke="#1a1a1a" stroke-width="0.16">WT</text>
<line x1="67.80" y1="634.90" x2="67.80" y2="638.50" stroke="#3c3c3c" stroke-width="0.7"/>
<text x="71.10" y="643.80" font-size="5.7" text-anchor="end" transform="rotate(-45 71.10 643.80)" fill="#1a1a1a" stroke="#1a1a1a" stroke-width="0.16">RISP</text>
<text x="75.61" y="649.19" font-size="5.85" text-anchor="end" transform="rotate(-45 75.61 649.19)" fill="#1a1a1a" stroke="#1a1a1a" stroke-width="0.16">KO</text>
<line x1="86.10" y1="634.90" x2="86.10" y2="638.50" stroke="#3c3c3c" stroke-width="0.7"/>
<text x="89.40" y="643.80" font-size="5.7" text-anchor="end" transform="rotate(-45 89.40 643.80)" fill="#1a1a1a" stroke="#1a1a1a" stroke-width="0.16">RISP</text>
<text x="95.04" y="648.05" font-size="5.85" text-anchor="end" transform="rotate(-45 95.04 648.05)" fill="#1a1a1a" stroke="#1a1a1a" stroke-width="0.16">KO + AOX</text>
<text x="68.00" y="526.20" font-size="8.6" text-anchor="middle" fill="#1a1a1a" stroke="#1a1a1a" stroke-width="0.16">30 d.p.i. PD-1</text>
<text x="16.20" y="587.00" font-size="6.85" text-anchor="middle" transform="rotate(-90 16.20 587.00)" fill="#1a1a1a" stroke="#1a1a1a" stroke-width="0.16">gMFI PD-1</text>
<line x1="48.90" y1="542.50" x2="68.20" y2="542.50" stroke="#3a3a3a" stroke-width="0.7"/>
<text x="58.55" y="544.20" font-size="11" text-anchor="middle" font-weight="bold" fill="#222" stroke="#1a1a1a" stroke-width="0.16">*</text>
<path d="M143.70 634.90V567.27H155.30V634.90" fill="#6b6b6b" stroke="#262626" stroke-width="0.85"/>
<path d="M162.40 634.90V557.38H174.00V634.90" fill="#dcdcdc" stroke="#262626" stroke-width="0.85"/>
<path d="M181.10 634.90V565.68H192.70V634.90" fill="#9b9b9b" stroke="#262626" stroke-width="0.85"/>
<line x1="149.50" y1="566.00" x2="149.50" y2="568.55" stroke="#222" stroke-width="0.7"/>
<line x1="146.90" y1="566.00" x2="152.10" y2="566.00" stroke="#222" stroke-width="0.7"/>
<line x1="146.90" y1="568.55" x2="152.10" y2="568.55" stroke="#222" stroke-width="0.7"/>
<line x1="168.20" y1="554.83" x2="168.20" y2="559.94" stroke="#222" stroke-width="0.7"/>
<line x1="165.60" y1="554.83" x2="170.80" y2="554.83" stroke="#222" stroke-width="0.7"/>
<line x1="165.60" y1="559.94" x2="170.80" y2="559.94" stroke="#222" stroke-width="0.7"/>
<line x1="186.90" y1="563.44" x2="186.90" y2="567.91" stroke="#222" stroke-width="0.7"/>
<line x1="184.30" y1="563.44" x2="189.50" y2="563.44" stroke="#222" stroke-width="0.7"/>
<line x1="184.30" y1="567.91" x2="189.50" y2="567.91" stroke="#222" stroke-width="0.7"/>
<circle cx="149.50" cy="562.90" r="1.55" fill="#000" stroke="none" stroke-width="0.5"/>
<circle cx="146.50" cy="566.19" r="1.55" fill="#000" stroke="none" stroke-width="0.5"/>
<circle cx="152.70" cy="566.19" r="1.55" fill="#000" stroke="none" stroke-width="0.5"/>
<circle cx="145.90" cy="569.76" r="1.55" fill="#000" stroke="none" stroke-width="0.5"/>
<circle cx="149.50" cy="569.82" r="1.55" fill="#000" stroke="none" stroke-width="0.5"/>
<circle cx="152.80" cy="570.14" r="1.55" fill="#000" stroke="none" stroke-width="0.5"/>
<rect x="163.75" y="553.06" width="2.9" height="2.9" fill="#000" stroke="none" stroke-width="0.5"/>
<rect x="169.75" y="553.06" width="2.9" height="2.9" fill="#000" stroke="none" stroke-width="0.5"/>
<rect x="166.75" y="560.18" width="2.9" height="2.9" fill="#000" stroke="none" stroke-width="0.5"/>
<path d="M186.90 555.23L188.60 558.29L185.20 558.29Z" fill="#000" stroke="none" stroke-width="0.5"/>
<path d="M186.90 561.07L188.60 564.13L185.20 564.13Z" fill="#000" stroke="none" stroke-width="0.5"/>
<path d="M183.50 566.14L185.20 569.20L181.80 569.20Z" fill="#000" stroke="none" stroke-width="0.5"/>
<path d="M189.90 565.44L191.60 568.50L188.20 568.50Z" fill="#000" stroke="none" stroke-width="0.5"/>
<path d="M182.90 568.69L184.60 571.75L181.20 571.75Z" fill="#000" stroke="none" stroke-width="0.5"/>
<line x1="137.50" y1="538.85" x2="137.50" y2="635.25" stroke="#3c3c3c" stroke-width="0.7"/>
<line x1="137.15" y1="634.90" x2="198.70" y2="634.90" stroke="#3c3c3c" stroke-width="0.7"/>
<line x1="133.90" y1="634.90" x2="137.50" y2="634.90" stroke="#3c3c3c" stroke-width="0.7"/>
<text x="132.30" y="637.35" font-size="6.6" text-anchor="end" fill="#1a1a1a" stroke="#1a1a1a" stroke-width="0.16">0</text>
<line x1="133.90" y1="603.00" x2="137.50" y2="603.00" stroke="#3c3c3c" stroke-width="0.7"/>
<text x="132.30" y="605.45" font-size="6.6" text-anchor="end" fill="#1a1a1a" stroke="#1a1a1a" stroke-width="0.16">100</text>
<line x1="133.90" y1="571.10" x2="137.50" y2="571.10" stroke="#3c3c3c" stroke-width="0.7"/>
<text x="132.30" y="573.55" font-size="6.6" text-anchor="end" fill="#1a1a1a" stroke="#1a1a1a" stroke-width="0.16">200</text>
<line x1="133.90" y1="539.20" x2="137.50" y2="539.20" stroke="#3c3c3c" stroke-width="0.7"/>
<text x="132.30" y="541.65" font-size="6.6" text-anchor="end" fill="#1a1a1a" stroke="#1a1a1a" stroke-width="0.16">300</text>
<line x1="149.50" y1="634.90" x2="149.50" y2="638.50" stroke="#3c3c3c" stroke-width="0.7"/>
<text x="152.80" y="643.80" font-size="5.7" text-anchor="end" transform="rotate(-45 152.80 643.80)" fill="#1a1a1a" stroke="#1a1a1a" stroke-width="0.16">RISP</text>
<text x="156.75" y="649.75" font-size="5.85" text-anchor="end" transform="rotate(-45 156.75 649.75)" fill="#1a1a1a" stroke="#1a1a1a" stroke-width="0.16">WT</text>
<line x1="168.20" y1="634.90" x2="168.20" y2="638.50" stroke="#3c3c3c" stroke-width="0.7"/>
<text x="171.50" y="643.80" font-size="5.7" text-anchor="end" transform="rotate(-45 171.50 643.80)" fill="#1a1a1a" stroke="#1a1a1a" stroke-width="0.16">RISP</text>
<text x="176.01" y="649.19" font-size="5.85" text-anchor="end" transform="rotate(-45 176.01 649.19)" fill="#1a1a1a" stroke="#1a1a1a" stroke-width="0.16">KO</text>
<line x1="186.90" y1="634.90" x2="186.90" y2="638.50" stroke="#3c3c3c" stroke-width="0.7"/>
<text x="190.20" y="643.80" font-size="5.7" text-anchor="end" transform="rotate(-45 190.20 643.80)" fill="#1a1a1a" stroke="#1a1a1a" stroke-width="0.16">RISP</text>
<text x="195.84" y="648.05" font-size="5.85" text-anchor="end" transform="rotate(-45 195.84 648.05)" fill="#1a1a1a" stroke="#1a1a1a" stroke-width="0.16">KO + AOX</text>
<text x="168.20" y="526.20" font-size="8.6" text-anchor="middle" fill="#1a1a1a" stroke="#1a1a1a" stroke-width="0.16">30 d.p.i. LAG3</text>
<text x="116.00" y="587.00" font-size="6.85" text-anchor="middle" transform="rotate(-90 116.00 587.00)" fill="#1a1a1a" stroke="#1a1a1a" stroke-width="0.16">gMFI LAG3</text>
<line x1="149.60" y1="542.50" x2="169.20" y2="542.50" stroke="#3a3a3a" stroke-width="0.7"/>
<text x="159.40" y="544.20" font-size="11" text-anchor="middle" font-weight="bold" fill="#222" stroke="#1a1a1a" stroke-width="0.16">*</text>
<path d="M248.00 635.40V571.27H259.60V635.40" fill="#6b6b6b" stroke="#262626" stroke-width="0.85"/>
<path d="M266.70 635.40V592.11H278.30V635.40" fill="#dcdcdc" stroke="#262626" stroke-width="0.85"/>
<path d="M285.40 635.40V583.13H297.00V635.40" fill="#9b9b9b" stroke="#262626" stroke-width="0.85"/>
<line x1="253.80" y1="565.49" x2="253.80" y2="577.04" stroke="#222" stroke-width="0.7"/>
<line x1="251.20" y1="565.49" x2="256.40" y2="565.49" stroke="#222" stroke-width="0.7"/>
<line x1="251.20" y1="577.04" x2="256.40" y2="577.04" stroke="#222" stroke-width="0.7"/>
<line x1="272.50" y1="586.15" x2="272.50" y2="598.07" stroke="#222" stroke-width="0.7"/>
<line x1="269.90" y1="586.15" x2="275.10" y2="586.15" stroke="#222" stroke-width="0.7"/>
<line x1="269.90" y1="598.07" x2="275.10" y2="598.07" stroke="#222" stroke-width="0.7"/>
<line x1="291.20" y1="579.28" x2="291.20" y2="586.98" stroke="#222" stroke-width="0.7"/>
<line x1="288.60" y1="579.28" x2="293.80" y2="579.28" stroke="#222" stroke-width="0.7"/>
<line x1="288.60" y1="586.98" x2="293.80" y2="586.98" stroke="#222" stroke-width="0.7"/>
<circle cx="253.80" cy="557.29" r="1.55" fill="#000" stroke="none" stroke-width="0.5"/>
<circle cx="253.80" cy="561.13" r="1.55" fill="#000" stroke="none" stroke-width="0.5"/>
<circle cx="251.20" cy="573.06" r="1.55" fill="#000" stroke="none" stroke-width="0.5"/>
<circle cx="256.80" cy="573.06" r="1.55" fill="#000" stroke="none" stroke-width="0.5"/>
<circle cx="253.80" cy="581.98" r="1.55" fill="#000" stroke="none" stroke-width="0.5"/>
<rect x="268.45" y="584.37" width="2.9" height="2.9" fill="#000" stroke="none" stroke-width="0.5"/>
<rect x="274.25" y="585.66" width="2.9" height="2.9" fill="#000" stroke="none" stroke-width="0.5"/>
<rect x="271.05" y="599.64" width="2.9" height="2.9" fill="#000" stroke="none" stroke-width="0.5"/>
<path d="M291.20 573.28L292.90 576.34L289.50 576.34Z" fill="#000" stroke="none" stroke-width="0.5"/>
<path d="M294.60 578.09L296.30 581.15L292.90 581.15Z" fill="#000" stroke="none" stroke-width="0.5"/>
<path d="M288.20 582.19L289.90 585.25L286.50 585.25Z" fill="#000" stroke="none" stroke-width="0.5"/>
<path d="M294.60 582.71L296.30 585.77L292.90 585.77Z" fill="#000" stroke="none" stroke-width="0.5"/>
<path d="M291.20 589.83L292.90 592.89L289.50 592.89Z" fill="#000" stroke="none" stroke-width="0.5"/>
<line x1="241.50" y1="538.85" x2="241.50" y2="635.75" stroke="#3c3c3c" stroke-width="0.7"/>
<line x1="241.15" y1="635.40" x2="303.80" y2="635.40" stroke="#3c3c3c" stroke-width="0.7"/>
<line x1="237.90" y1="635.40" x2="241.50" y2="635.40" stroke="#3c3c3c" stroke-width="0.7"/>
<text x="236.30" y="637.85" font-size="6.6" text-anchor="end" fill="#1a1a1a" stroke="#1a1a1a" stroke-width="0.16">0</text>
<line x1="237.90" y1="603.33" x2="241.50" y2="603.33" stroke="#3c3c3c" stroke-width="0.7"/>
<text x="236.30" y="605.78" font-size="6.6" text-anchor="end" fill="#1a1a1a" stroke="#1a1a1a" stroke-width="0.16">500</text>
<line x1="237.90" y1="571.27" x2="241.50" y2="571.27" stroke="#3c3c3c" stroke-width="0.7"/>
<text x="236.30" y="573.72" font-size="6.6" text-anchor="end" fill="#1a1a1a" stroke="#1a1a1a" stroke-width="0.16">1,000</text>
<line x1="237.90" y1="539.20" x2="241.50" y2="539.20" stroke="#3c3c3c" stroke-width="0.7"/>
<text x="236.30" y="541.65" font-size="6.6" text-anchor="end" fill="#1a1a1a" stroke="#1a1a1a" stroke-width="0.16">1,500</text>
<line x1="253.80" y1="635.40" x2="253.80" y2="639.00" stroke="#3c3c3c" stroke-width="0.7"/>
<text x="257.10" y="644.30" font-size="5.7" text-anchor="end" transform="rotate(-45 257.10 644.30)" fill="#1a1a1a" stroke="#1a1a1a" stroke-width="0.16">RISP</text>
<text x="261.05" y="650.25" font-size="5.85" text-anchor="end" transform="rotate(-45 261.05 650.25)" fill="#1a1a1a" stroke="#1a1a1a" stroke-width="0.16">WT</text>
<line x1="272.50" y1="635.40" x2="272.50" y2="639.00" stroke="#3c3c3c" stroke-width="0.7"/>
<text x="275.80" y="644.30" font-size="5.7" text-anchor="end" transform="rotate(-45 275.80 644.30)" fill="#1a1a1a" stroke="#1a1a1a" stroke-width="0.16">RISP</text>
<text x="280.31" y="649.69" font-size="5.85" text-anchor="end" transform="rotate(-45 280.31 649.69)" fill="#1a1a1a" stroke="#1a1a1a" stroke-width="0.16">KO</text>
<line x1="291.20" y1="635.40" x2="291.20" y2="639.00" stroke="#3c3c3c" stroke-width="0.7"/>
<text x="294.50" y="644.30" font-size="5.7" text-anchor="end" transform="rotate(-45 294.50 644.30)" fill="#1a1a1a" stroke="#1a1a1a" stroke-width="0.16">RISP</text>
<text x="300.14" y="648.55" font-size="5.85" text-anchor="end" transform="rotate(-45 300.14 648.55)" fill="#1a1a1a" stroke="#1a1a1a" stroke-width="0.16">KO + AOX</text>
<text x="272.50" y="526.20" font-size="8.6" text-anchor="middle" fill="#1a1a1a" stroke="#1a1a1a" stroke-width="0.16">30 d.p.i. TCF1</text>
<text x="216.70" y="587.00" font-size="6.85" text-anchor="middle" transform="rotate(-90 216.70 587.00)" fill="#1a1a1a" stroke="#1a1a1a" stroke-width="0.16">gMFI TCF1</text>
<line x1="253.90" y1="545.50" x2="273.00" y2="545.50" stroke="#3a3a3a" stroke-width="0.7"/>
<text x="263.45" y="547.20" font-size="11" text-anchor="middle" font-weight="bold" fill="#222" stroke="#1a1a1a" stroke-width="0.16">*</text>
<text transform="translate(312.40 524.60) scale(1.12 1)" font-size="12.2" text-anchor="start" font-weight="bold" fill="#000" stroke="#000" stroke-width="0.4">j</text>
<path d="M346.70 634.60V579.32H358.30V634.60" fill="#6b6b6b" stroke="#262626" stroke-width="0.85"/>
<path d="M365.10 634.60V562.76H376.70V634.60" fill="#dcdcdc" stroke="#262626" stroke-width="0.85"/>
<path d="M383.40 634.60V563.46H395.00V634.60" fill="#9b9b9b" stroke="#262626" stroke-width="0.85"/>
<line x1="352.50" y1="578.15" x2="352.50" y2="580.49" stroke="#222" stroke-width="0.7"/>
<line x1="349.90" y1="578.15" x2="355.10" y2="578.15" stroke="#222" stroke-width="0.7"/>
<line x1="349.90" y1="580.49" x2="355.10" y2="580.49" stroke="#222" stroke-width="0.7"/>
<line x1="370.90" y1="557.86" x2="370.90" y2="567.66" stroke="#222" stroke-width="0.7"/>
<line x1="368.30" y1="557.86" x2="373.50" y2="557.86" stroke="#222" stroke-width="0.7"/>
<line x1="368.30" y1="567.66" x2="373.50" y2="567.66" stroke="#222" stroke-width="0.7"/>
<line x1="389.20" y1="560.66" x2="389.20" y2="566.26" stroke="#222" stroke-width="0.7"/>
<line x1="386.60" y1="560.66" x2="391.80" y2="560.66" stroke="#222" stroke-width="0.7"/>
<line x1="386.60" y1="566.26" x2="391.80" y2="566.26" stroke="#222" stroke-width="0.7"/>
<circle cx="352.50" cy="576.38" r="1.55" fill="#000" stroke="none" stroke-width="0.5"/>
<circle cx="349.70" cy="579.44" r="1.55" fill="#000" stroke="none" stroke-width="0.5"/>
<circle cx="355.50" cy="579.44" r="1.55" fill="#000" stroke="none" stroke-width="0.5"/>
<rect x="369.45" y="553.15" width="2.9" height="2.9" fill="#000" stroke="none" stroke-width="0.5"/>
<rect x="369.45" y="562.24" width="2.9" height="2.9" fill="#000" stroke="none" stroke-width="0.5"/>
<rect x="369.45" y="569.01" width="2.9" height="2.9" fill="#000" stroke="none" stroke-width="0.5"/>
<path d="M389.20 556.02L390.90 559.08L387.50 559.08Z" fill="#000" stroke="none" stroke-width="0.5"/>
<path d="M386.20 563.61L387.90 566.67L384.50 566.67Z" fill="#000" stroke="none" stroke-width="0.5"/>
<path d="M392.00 562.86L393.70 565.92L390.30 565.92Z" fill="#000" stroke="none" stroke-width="0.5"/>
<line x1="339.50" y1="540.95" x2="339.50" y2="634.95" stroke="#3c3c3c" stroke-width="0.7"/>
<line x1="339.15" y1="634.60" x2="400.50" y2="634.60" stroke="#3c3c3c" stroke-width="0.7"/>
<line x1="335.90" y1="634.60" x2="339.50" y2="634.60" stroke="#3c3c3c" stroke-width="0.7"/>
<text x="334.30" y="637.05" font-size="6.6" text-anchor="end" fill="#1a1a1a" stroke="#1a1a1a" stroke-width="0.16">0</text>
<line x1="335.90" y1="611.27" x2="339.50" y2="611.27" stroke="#3c3c3c" stroke-width="0.7"/>
<text x="334.30" y="613.73" font-size="6.6" text-anchor="end" fill="#1a1a1a" stroke="#1a1a1a" stroke-width="0.16">100</text>
<line x1="335.90" y1="587.95" x2="339.50" y2="587.95" stroke="#3c3c3c" stroke-width="0.7"/>
<text x="334.30" y="590.40" font-size="6.6" text-anchor="end" fill="#1a1a1a" stroke="#1a1a1a" stroke-width="0.16">200</text>
<line x1="335.90" y1="564.62" x2="339.50" y2="564.62" stroke="#3c3c3c" stroke-width="0.7"/>
<text x="334.30" y="567.08" font-size="6.6" text-anchor="end" fill="#1a1a1a" stroke="#1a1a1a" stroke-width="0.16">300</text>
<line x1="335.90" y1="541.30" x2="339.50" y2="541.30" stroke="#3c3c3c" stroke-width="0.7"/>
<text x="334.30" y="543.75" font-size="6.6" text-anchor="end" fill="#1a1a1a" stroke="#1a1a1a" stroke-width="0.16">400</text>
<line x1="352.50" y1="634.60" x2="352.50" y2="638.20" stroke="#3c3c3c" stroke-width="0.7"/>
<text x="355.80" y="643.50" font-size="5.7" text-anchor="end" transform="rotate(-45 355.80 643.50)" fill="#1a1a1a" stroke="#1a1a1a" stroke-width="0.16">RISP</text>
<text x="359.75" y="649.45" font-size="5.85" text-anchor="end" transform="rotate(-45 359.75 649.45)" fill="#1a1a1a" stroke="#1a1a1a" stroke-width="0.16">WT</text>
<line x1="370.90" y1="634.60" x2="370.90" y2="638.20" stroke="#3c3c3c" stroke-width="0.7"/>
<text x="374.20" y="643.50" font-size="5.7" text-anchor="end" transform="rotate(-45 374.20 643.50)" fill="#1a1a1a" stroke="#1a1a1a" stroke-width="0.16">RISP</text>
<text x="378.71" y="648.89" font-size="5.85" text-anchor="end" transform="rotate(-45 378.71 648.89)" fill="#1a1a1a" stroke="#1a1a1a" stroke-width="0.16">KO</text>
<line x1="389.20" y1="634.60" x2="389.20" y2="638.20" stroke="#3c3c3c" stroke-width="0.7"/>
<text x="392.50" y="643.50" font-size="5.7" text-anchor="end" transform="rotate(-45 392.50 643.50)" fill="#1a1a1a" stroke="#1a1a1a" stroke-width="0.16">RISP</text>
<text x="398.14" y="647.75" font-size="5.85" text-anchor="end" transform="rotate(-45 398.14 647.75)" fill="#1a1a1a" stroke="#1a1a1a" stroke-width="0.16">KO + AOX</text>
<text x="370.70" y="526.20" font-size="8.6" text-anchor="middle" fill="#1a1a1a" stroke="#1a1a1a" stroke-width="0.16">7 d.p.i. PD-1</text>
<text x="320.00" y="587.70" font-size="6.85" text-anchor="middle" transform="rotate(-90 320.00 587.70)" fill="#1a1a1a" stroke="#1a1a1a" stroke-width="0.16">gMFI PD-1</text>
<line x1="352.90" y1="536.50" x2="389.30" y2="536.50" stroke="#3a3a3a" stroke-width="0.7"/>
<text x="371.10" y="538.20" font-size="11" text-anchor="middle" font-weight="bold" fill="#222" stroke="#1a1a1a" stroke-width="0.16">*</text>
<line x1="352.90" y1="548.50" x2="370.70" y2="548.50" stroke="#3a3a3a" stroke-width="0.7"/>
<text x="361.80" y="550.20" font-size="11" text-anchor="middle" font-weight="bold" fill="#222" stroke="#1a1a1a" stroke-width="0.16">*</text>
<path d="M439.60 634.60V596.74H451.20V634.60" fill="#6b6b6b" stroke="#262626" stroke-width="0.85"/>
<path d="M457.90 634.60V570.57H469.50V634.60" fill="#dcdcdc" stroke="#262626" stroke-width="0.85"/>
<path d="M476.20 634.60V578.18H487.80V634.60" fill="#9b9b9b" stroke="#262626" stroke-width="0.85"/>
<line x1="445.40" y1="591.63" x2="445.40" y2="601.84" stroke="#222" stroke-width="0.7"/>
<line x1="442.80" y1="591.63" x2="448.00" y2="591.63" stroke="#222" stroke-width="0.7"/>
<line x1="442.80" y1="601.84" x2="448.00" y2="601.84" stroke="#222" stroke-width="0.7"/>
<line x1="463.70" y1="565.37" x2="463.70" y2="575.76" stroke="#222" stroke-width="0.7"/>
<line x1="461.10" y1="565.37" x2="466.30" y2="565.37" stroke="#222" stroke-width="0.7"/>
<line x1="461.10" y1="575.76" x2="466.30" y2="575.76" stroke="#222" stroke-width="0.7"/>
<line x1="482.00" y1="573.54" x2="482.00" y2="582.82" stroke="#222" stroke-width="0.7"/>
<line x1="479.40" y1="573.54" x2="484.60" y2="573.54" stroke="#222" stroke-width="0.7"/>
<line x1="479.40" y1="582.82" x2="484.60" y2="582.82" stroke="#222" stroke-width="0.7"/>
<circle cx="442.00" cy="590.98" r="1.55" fill="#000" stroke="none" stroke-width="0.5"/>
<circle cx="448.40" cy="592.65" r="1.55" fill="#000" stroke="none" stroke-width="0.5"/>
<circle cx="445.40" cy="602.86" r="1.55" fill="#000" stroke="none" stroke-width="0.5"/>
<rect x="462.25" y="559.65" width="2.9" height="2.9" fill="#000" stroke="none" stroke-width="0.5"/>
<rect x="459.65" y="572.09" width="2.9" height="2.9" fill="#000" stroke="none" stroke-width="0.5"/>
<rect x="465.25" y="571.53" width="2.9" height="2.9" fill="#000" stroke="none" stroke-width="0.5"/>
<path d="M482.00 567.43L483.70 570.49L480.30 570.49Z" fill="#000" stroke="none" stroke-width="0.5"/>
<path d="M480.20 577.64L481.90 580.70L478.50 580.70Z" fill="#000" stroke="none" stroke-width="0.5"/>
<path d="M483.50 579.68L485.20 582.74L481.80 582.74Z" fill="#000" stroke="none" stroke-width="0.5"/>
<line x1="433.50" y1="541.45" x2="433.50" y2="634.95" stroke="#3c3c3c" stroke-width="0.7"/>
<line x1="433.15" y1="634.60" x2="493.60" y2="634.60" stroke="#3c3c3c" stroke-width="0.7"/>
<line x1="429.90" y1="634.60" x2="433.50" y2="634.60" stroke="#3c3c3c" stroke-width="0.7"/>
<text x="428.30" y="637.05" font-size="6.6" text-anchor="end" fill="#1a1a1a" stroke="#1a1a1a" stroke-width="0.16">0</text>
<line x1="429.90" y1="616.04" x2="433.50" y2="616.04" stroke="#3c3c3c" stroke-width="0.7"/>
<text x="428.30" y="618.49" font-size="6.6" text-anchor="end" fill="#1a1a1a" stroke="#1a1a1a" stroke-width="0.16">10</text>
<line x1="429.90" y1="597.48" x2="433.50" y2="597.48" stroke="#3c3c3c" stroke-width="0.7"/>
<text x="428.30" y="599.93" font-size="6.6" text-anchor="end" fill="#1a1a1a" stroke="#1a1a1a" stroke-width="0.16">20</text>
<line x1="429.90" y1="578.92" x2="433.50" y2="578.92" stroke="#3c3c3c" stroke-width="0.7"/>
<text x="428.30" y="581.37" font-size="6.6" text-anchor="end" fill="#1a1a1a" stroke="#1a1a1a" stroke-width="0.16">30</text>
<line x1="429.90" y1="560.36" x2="433.50" y2="560.36" stroke="#3c3c3c" stroke-width="0.7"/>
<text x="428.30" y="562.81" font-size="6.6" text-anchor="end" fill="#1a1a1a" stroke="#1a1a1a" stroke-width="0.16">40</text>
<line x1="429.90" y1="541.80" x2="433.50" y2="541.80" stroke="#3c3c3c" stroke-width="0.7"/>
<text x="428.30" y="544.25" font-size="6.6" text-anchor="end" fill="#1a1a1a" stroke="#1a1a1a" stroke-width="0.16">50</text>
<line x1="445.40" y1="634.60" x2="445.40" y2="638.20" stroke="#3c3c3c" stroke-width="0.7"/>
<text x="448.70" y="643.50" font-size="5.7" text-anchor="end" transform="rotate(-45 448.70 643.50)" fill="#1a1a1a" stroke="#1a1a1a" stroke-width="0.16">RISP</text>
<text x="452.65" y="649.45" font-size="5.85" text-anchor="end" transform="rotate(-45 452.65 649.45)" fill="#1a1a1a" stroke="#1a1a1a" stroke-width="0.16">WT</text>
<line x1="463.70" y1="634.60" x2="463.70" y2="638.20" stroke="#3c3c3c" stroke-width="0.7"/>
<text x="467.00" y="643.50" font-size="5.7" text-anchor="end" transform="rotate(-45 467.00 643.50)" fill="#1a1a1a" stroke="#1a1a1a" stroke-width="0.16">RISP</text>
<text x="471.51" y="648.89" font-size="5.85" text-anchor="end" transform="rotate(-45 471.51 648.89)" fill="#1a1a1a" stroke="#1a1a1a" stroke-width="0.16">KO</text>
<line x1="482.00" y1="634.60" x2="482.00" y2="638.20" stroke="#3c3c3c" stroke-width="0.7"/>
<text x="485.30" y="643.50" font-size="5.7" text-anchor="end" transform="rotate(-45 485.30 643.50)" fill="#1a1a1a" stroke="#1a1a1a" stroke-width="0.16">RISP</text>
<text x="490.94" y="647.75" font-size="5.85" text-anchor="end" transform="rotate(-45 490.94 647.75)" fill="#1a1a1a" stroke="#1a1a1a" stroke-width="0.16">KO + AOX</text>
<text x="463.60" y="526.20" font-size="8.6" text-anchor="middle" fill="#1a1a1a" stroke="#1a1a1a" stroke-width="0.16">7 d.p.i. LAG3</text>
<text x="418.20" y="587.30" font-size="6.85" text-anchor="middle" transform="rotate(-90 418.20 587.30)" fill="#1a1a1a" stroke="#1a1a1a" stroke-width="0.16">gMFI LAG3</text>
<line x1="445.30" y1="550.50" x2="464.10" y2="550.50" stroke="#3a3a3a" stroke-width="0.7"/>
<text x="454.70" y="552.20" font-size="11" text-anchor="middle" font-weight="bold" fill="#222" stroke="#1a1a1a" stroke-width="0.16">*</text>
<path d="M535.80 634.60V592.06H547.40V634.60" fill="#6b6b6b" stroke="#262626" stroke-width="0.85"/>
<path d="M554.20 634.60V560.89H565.80V634.60" fill="#dcdcdc" stroke="#262626" stroke-width="0.85"/>
<path d="M572.20 634.60V578.99H583.80V634.60" fill="#9b9b9b" stroke="#262626" stroke-width="0.85"/>
<line x1="541.60" y1="588.32" x2="541.60" y2="595.79" stroke="#222" stroke-width="0.7"/>
<line x1="539.00" y1="588.32" x2="544.20" y2="588.32" stroke="#222" stroke-width="0.7"/>
<line x1="539.00" y1="595.79" x2="544.20" y2="595.79" stroke="#222" stroke-width="0.7"/>
<line x1="560.00" y1="552.50" x2="560.00" y2="569.29" stroke="#222" stroke-width="0.7"/>
<line x1="557.40" y1="552.50" x2="562.60" y2="552.50" stroke="#222" stroke-width="0.7"/>
<line x1="557.40" y1="569.29" x2="562.60" y2="569.29" stroke="#222" stroke-width="0.7"/>
<line x1="578.00" y1="576.57" x2="578.00" y2="581.42" stroke="#222" stroke-width="0.7"/>
<line x1="575.40" y1="576.57" x2="580.60" y2="576.57" stroke="#222" stroke-width="0.7"/>
<line x1="575.40" y1="581.42" x2="580.60" y2="581.42" stroke="#222" stroke-width="0.7"/>
<circle cx="538.40" cy="587.09" r="1.55" fill="#000" stroke="none" stroke-width="0.5"/>
<circle cx="544.80" cy="588.32" r="1.55" fill="#000" stroke="none" stroke-width="0.5"/>
<circle cx="541.60" cy="598.49" r="1.55" fill="#000" stroke="none" stroke-width="0.5"/>
<rect x="556.05" y="548.71" width="2.9" height="2.9" fill="#000" stroke="none" stroke-width="0.5"/>
<rect x="561.15" y="550.75" width="2.9" height="2.9" fill="#000" stroke="none" stroke-width="0.5"/>
<rect x="558.55" y="576.70" width="2.9" height="2.9" fill="#000" stroke="none" stroke-width="0.5"/>
<path d="M575.30 573.05L577.00 576.11L573.60 576.11Z" fill="#000" stroke="none" stroke-width="0.5"/>
<path d="M580.40 573.05L582.10 576.11L578.70 576.11Z" fill="#000" stroke="none" stroke-width="0.5"/>
<path d="M578.00 582.76L579.70 585.82L576.30 585.82Z" fill="#000" stroke="none" stroke-width="0.5"/>
<line x1="529.50" y1="540.95" x2="529.50" y2="634.95" stroke="#3c3c3c" stroke-width="0.7"/>
<line x1="529.15" y1="634.60" x2="590.10" y2="634.60" stroke="#3c3c3c" stroke-width="0.7"/>
<line x1="525.90" y1="634.60" x2="529.50" y2="634.60" stroke="#3c3c3c" stroke-width="0.7"/>
<text x="524.30" y="637.05" font-size="6.6" text-anchor="end" fill="#1a1a1a" stroke="#1a1a1a" stroke-width="0.16">0</text>
<line x1="525.90" y1="615.94" x2="529.50" y2="615.94" stroke="#3c3c3c" stroke-width="0.7"/>
<text x="524.30" y="618.39" font-size="6.6" text-anchor="end" fill="#1a1a1a" stroke="#1a1a1a" stroke-width="0.16">100</text>
<line x1="525.90" y1="597.28" x2="529.50" y2="597.28" stroke="#3c3c3c" stroke-width="0.7"/>
<text x="524.30" y="599.73" font-size="6.6" text-anchor="end" fill="#1a1a1a" stroke="#1a1a1a" stroke-width="0.16">200</text>
<line x1="525.90" y1="578.62" x2="529.50" y2="578.62" stroke="#3c3c3c" stroke-width="0.7"/>
<text x="524.30" y="581.07" font-size="6.6" text-anchor="end" fill="#1a1a1a" stroke="#1a1a1a" stroke-width="0.16">300</text>
<line x1="525.90" y1="559.96" x2="529.50" y2="559.96" stroke="#3c3c3c" stroke-width="0.7"/>
<text x="524.30" y="562.41" font-size="6.6" text-anchor="end" fill="#1a1a1a" stroke="#1a1a1a" stroke-width="0.16">400</text>
<line x1="525.90" y1="541.30" x2="529.50" y2="541.30" stroke="#3c3c3c" stroke-width="0.7"/>
<text x="524.30" y="543.75" font-size="6.6" text-anchor="end" fill="#1a1a1a" stroke="#1a1a1a" stroke-width="0.16">500</text>
<line x1="541.60" y1="634.60" x2="541.60" y2="638.20" stroke="#3c3c3c" stroke-width="0.7"/>
<text x="544.90" y="643.50" font-size="5.7" text-anchor="end" transform="rotate(-45 544.90 643.50)" fill="#1a1a1a" stroke="#1a1a1a" stroke-width="0.16">RISP</text>
<text x="548.85" y="649.45" font-size="5.85" text-anchor="end" transform="rotate(-45 548.85 649.45)" fill="#1a1a1a" stroke="#1a1a1a" stroke-width="0.16">WT</text>
<line x1="560.00" y1="634.60" x2="560.00" y2="638.20" stroke="#3c3c3c" stroke-width="0.7"/>
<text x="563.30" y="643.50" font-size="5.7" text-anchor="end" transform="rotate(-45 563.30 643.50)" fill="#1a1a1a" stroke="#1a1a1a" stroke-width="0.16">RISP</text>
<text x="567.81" y="648.89" font-size="5.85" text-anchor="end" transform="rotate(-45 567.81 648.89)" fill="#1a1a1a" stroke="#1a1a1a" stroke-width="0.16">KO</text>
<line x1="578.00" y1="634.60" x2="578.00" y2="638.20" stroke="#3c3c3c" stroke-width="0.7"/>
<text x="581.30" y="643.50" font-size="5.7" text-anchor="end" transform="rotate(-45 581.30 643.50)" fill="#1a1a1a" stroke="#1a1a1a" stroke-width="0.16">RISP</text>
<text x="586.94" y="647.75" font-size="5.85" text-anchor="end" transform="rotate(-45 586.94 647.75)" fill="#1a1a1a" stroke="#1a1a1a" stroke-width="0.16">KO + AOX</text>
<text x="560.10" y="526.20" font-size="8.6" text-anchor="middle" fill="#1a1a1a" stroke="#1a1a1a" stroke-width="0.16">7 d.p.i. TIM3</text>
<text x="509.00" y="587.30" font-size="6.85" text-anchor="middle" transform="rotate(-90 509.00 587.30)" fill="#1a1a1a" stroke="#1a1a1a" stroke-width="0.16">gMFI TIM3</text>
<line x1="541.80" y1="538.50" x2="560.10" y2="538.50" stroke="#3a3a3a" stroke-width="0.7"/>
<text x="550.95" y="540.20" font-size="11" text-anchor="middle" font-weight="bold" fill="#222" stroke="#1a1a1a" stroke-width="0.16">*</text>
<path d="M630.50 634.60V585.77H642.10V634.60" fill="#6b6b6b" stroke="#262626" stroke-width="0.85"/>
<path d="M648.80 634.60V568.67H660.40V634.60" fill="#dcdcdc" stroke="#262626" stroke-width="0.85"/>
<path d="M667.10 634.60V570.53H678.70V634.60" fill="#9b9b9b" stroke="#262626" stroke-width="0.85"/>
<line x1="636.30" y1="584.22" x2="636.30" y2="587.33" stroke="#222" stroke-width="0.7"/>
<line x1="633.70" y1="584.22" x2="638.90" y2="584.22" stroke="#222" stroke-width="0.7"/>
<line x1="633.70" y1="587.33" x2="638.90" y2="587.33" stroke="#222" stroke-width="0.7"/>
<line x1="654.60" y1="559.34" x2="654.60" y2="578.00" stroke="#222" stroke-width="0.7"/>
<line x1="652.00" y1="559.34" x2="657.20" y2="559.34" stroke="#222" stroke-width="0.7"/>
<line x1="652.00" y1="578.00" x2="657.20" y2="578.00" stroke="#222" stroke-width="0.7"/>
<line x1="672.90" y1="561.20" x2="672.90" y2="579.86" stroke="#222" stroke-width="0.7"/>
<line x1="670.30" y1="561.20" x2="675.50" y2="561.20" stroke="#222" stroke-width="0.7"/>
<line x1="670.30" y1="579.86" x2="675.50" y2="579.86" stroke="#222" stroke-width="0.7"/>
<circle cx="636.30" cy="582.48" r="1.55" fill="#000" stroke="none" stroke-width="0.5"/>
<circle cx="633.10" cy="587.08" r="1.55" fill="#000" stroke="none" stroke-width="0.5"/>
<circle cx="639.50" cy="585.77" r="1.55" fill="#000" stroke="none" stroke-width="0.5"/>
<rect x="653.15" y="549.24" width="2.9" height="2.9" fill="#000" stroke="none" stroke-width="0.5"/>
<rect x="653.15" y="573.62" width="2.9" height="2.9" fill="#000" stroke="none" stroke-width="0.5"/>
<rect x="653.15" y="576.73" width="2.9" height="2.9" fill="#000" stroke="none" stroke-width="0.5"/>
<path d="M672.90 552.65L674.60 555.71L671.20 555.71Z" fill="#000" stroke="none" stroke-width="0.5"/>
<path d="M672.90 567.45L674.60 570.51L671.20 570.51Z" fill="#000" stroke="none" stroke-width="0.5"/>
<path d="M672.90 584.43L674.60 587.49L671.20 587.49Z" fill="#000" stroke="none" stroke-width="0.5"/>
<line x1="623.50" y1="540.95" x2="623.50" y2="634.95" stroke="#3c3c3c" stroke-width="0.7"/>
<line x1="623.15" y1="634.60" x2="685.00" y2="634.60" stroke="#3c3c3c" stroke-width="0.7"/>
<line x1="619.90" y1="634.60" x2="623.50" y2="634.60" stroke="#3c3c3c" stroke-width="0.7"/>
<text x="618.30" y="637.05" font-size="6.6" text-anchor="end" fill="#1a1a1a" stroke="#1a1a1a" stroke-width="0.16">0</text>
<line x1="619.90" y1="603.50" x2="623.50" y2="603.50" stroke="#3c3c3c" stroke-width="0.7"/>
<text x="618.30" y="605.95" font-size="6.6" text-anchor="end" fill="#1a1a1a" stroke="#1a1a1a" stroke-width="0.16">50</text>
<line x1="619.90" y1="572.40" x2="623.50" y2="572.40" stroke="#3c3c3c" stroke-width="0.7"/>
<text x="618.30" y="574.85" font-size="6.6" text-anchor="end" fill="#1a1a1a" stroke="#1a1a1a" stroke-width="0.16">100</text>
<line x1="619.90" y1="541.30" x2="623.50" y2="541.30" stroke="#3c3c3c" stroke-width="0.7"/>
<text x="618.30" y="543.75" font-size="6.6" text-anchor="end" fill="#1a1a1a" stroke="#1a1a1a" stroke-width="0.16">150</text>
<line x1="636.30" y1="634.60" x2="636.30" y2="638.20" stroke="#3c3c3c" stroke-width="0.7"/>
<text x="639.60" y="643.50" font-size="5.7" text-anchor="end" transform="rotate(-45 639.60 643.50)" fill="#1a1a1a" stroke="#1a1a1a" stroke-width="0.16">RISP</text>
<text x="643.55" y="649.45" font-size="5.85" text-anchor="end" transform="rotate(-45 643.55 649.45)" fill="#1a1a1a" stroke="#1a1a1a" stroke-width="0.16">WT</text>
<line x1="654.60" y1="634.60" x2="654.60" y2="638.20" stroke="#3c3c3c" stroke-width="0.7"/>
<text x="657.90" y="643.50" font-size="5.7" text-anchor="end" transform="rotate(-45 657.90 643.50)" fill="#1a1a1a" stroke="#1a1a1a" stroke-width="0.16">RISP</text>
<text x="662.41" y="648.89" font-size="5.85" text-anchor="end" transform="rotate(-45 662.41 648.89)" fill="#1a1a1a" stroke="#1a1a1a" stroke-width="0.16">KO</text>
<line x1="672.90" y1="634.60" x2="672.90" y2="638.20" stroke="#3c3c3c" stroke-width="0.7"/>
<text x="676.20" y="643.50" font-size="5.7" text-anchor="end" transform="rotate(-45 676.20 643.50)" fill="#1a1a1a" stroke="#1a1a1a" stroke-width="0.16">RISP</text>
<text x="681.84" y="647.75" font-size="5.85" text-anchor="end" transform="rotate(-45 681.84 647.75)" fill="#1a1a1a" stroke="#1a1a1a" stroke-width="0.16">KO + AOX</text>
<text x="654.20" y="526.20" font-size="8.6" text-anchor="middle" fill="#1a1a1a" stroke="#1a1a1a" stroke-width="0.16">7 d.p.i. TOX</text>
<text x="604.20" y="587.70" font-size="6.85" text-anchor="middle" transform="rotate(-90 604.20 587.70)" fill="#1a1a1a" stroke="#1a1a1a" stroke-width="0.16">gMFI TOX</text>
<text transform="translate(0.30 388.40) scale(1.12 1)" font-size="12.2" text-anchor="start" font-weight="bold" fill="#000" stroke="#000" stroke-width="0.4">h</text>
<path d="M72.25 468.10V437.33H82.15V468.10" fill="#6b6b6b" stroke="#262626" stroke-width="0.85"/>
<path d="M88.00 468.10V446.11H97.90V468.10" fill="#dcdcdc" stroke="#262626" stroke-width="0.85"/>
<path d="M103.90 468.10V438.36H113.80V468.10" fill="#9b9b9b" stroke="#262626" stroke-width="0.85"/>
<line x1="77.20" y1="434.75" x2="77.20" y2="439.91" stroke="#222" stroke-width="0.7"/>
<line x1="74.80" y1="434.75" x2="79.60" y2="434.75" stroke="#222" stroke-width="0.7"/>
<line x1="74.80" y1="439.91" x2="79.60" y2="439.91" stroke="#222" stroke-width="0.7"/>
<line x1="92.95" y1="443.53" x2="92.95" y2="448.69" stroke="#222" stroke-width="0.7"/>
<line x1="90.55" y1="443.53" x2="95.35" y2="443.53" stroke="#222" stroke-width="0.7"/>
<line x1="90.55" y1="448.69" x2="95.35" y2="448.69" stroke="#222" stroke-width="0.7"/>
<line x1="108.85" y1="435.06" x2="108.85" y2="441.67" stroke="#222" stroke-width="0.7"/>
<line x1="106.45" y1="435.06" x2="111.25" y2="435.06" stroke="#222" stroke-width="0.7"/>
<line x1="106.45" y1="441.67" x2="111.25" y2="441.67" stroke="#222" stroke-width="0.7"/>
<circle cx="74.90" cy="430.72" r="2.5" fill="#000" stroke="none" stroke-width="0.5"/>
<circle cx="78.80" cy="430.31" r="2.5" fill="#000" stroke="none" stroke-width="0.5"/>
<circle cx="74.90" cy="438.36" r="2.5" fill="#000" stroke="none" stroke-width="0.5"/>
<circle cx="79.40" cy="438.16" r="2.5" fill="#000" stroke="none" stroke-width="0.5"/>
<circle cx="77.20" cy="434.54" r="2.5" fill="#000" stroke="none" stroke-width="0.5"/>
<circle cx="76.20" cy="433.00" r="2.5" fill="#000" stroke="none" stroke-width="0.5"/>
<rect x="88.75" y="438.86" width="4.8" height="4.8" fill="#000" stroke="none" stroke-width="0.5"/>
<rect x="93.95" y="442.68" width="4.8" height="4.8" fill="#000" stroke="none" stroke-width="0.5"/>
<rect x="88.75" y="448.04" width="4.8" height="4.8" fill="#000" stroke="none" stroke-width="0.5"/>
<path d="M106.25 427.08L109.05 432.12L103.45 432.12Z" fill="#000" stroke="none" stroke-width="0.5"/>
<path d="M111.45 429.25L114.25 434.29L108.65 434.29Z" fill="#000" stroke="none" stroke-width="0.5"/>
<path d="M108.85 436.48L111.65 441.52L106.05 441.52Z" fill="#000" stroke="none" stroke-width="0.5"/>
<path d="M108.85 446.39L111.65 451.43L106.05 451.43Z" fill="#000" stroke="none" stroke-width="0.5"/>
<path d="M109.25 433.07L112.05 438.11L106.45 438.11Z" fill="#000" stroke="none" stroke-width="0.5"/>
<path d="M130.25 468.10V410.90H140.15V468.10" fill="#6b6b6b" stroke="#262626" stroke-width="0.85"/>
<path d="M146.00 468.10V406.98H155.90V468.10" fill="#dcdcdc" stroke="#262626" stroke-width="0.85"/>
<path d="M161.90 468.10V409.45H171.80V468.10" fill="#9b9b9b" stroke="#262626" stroke-width="0.85"/>
<line x1="135.20" y1="409.66" x2="135.20" y2="412.14" stroke="#222" stroke-width="0.7"/>
<line x1="132.80" y1="409.66" x2="137.60" y2="409.66" stroke="#222" stroke-width="0.7"/>
<line x1="132.80" y1="412.14" x2="137.60" y2="412.14" stroke="#222" stroke-width="0.7"/>
<line x1="150.95" y1="405.74" x2="150.95" y2="408.22" stroke="#222" stroke-width="0.7"/>
<line x1="148.55" y1="405.74" x2="153.35" y2="405.74" stroke="#222" stroke-width="0.7"/>
<line x1="148.55" y1="408.22" x2="153.35" y2="408.22" stroke="#222" stroke-width="0.7"/>
<line x1="166.85" y1="406.15" x2="166.85" y2="412.76" stroke="#222" stroke-width="0.7"/>
<line x1="164.45" y1="406.15" x2="169.25" y2="406.15" stroke="#222" stroke-width="0.7"/>
<line x1="164.45" y1="412.76" x2="169.25" y2="412.76" stroke="#222" stroke-width="0.7"/>
<circle cx="133.30" cy="407.60" r="2.5" fill="#000" stroke="none" stroke-width="0.5"/>
<circle cx="136.20" cy="409.25" r="2.5" fill="#000" stroke="none" stroke-width="0.5"/>
<circle cx="133.00" cy="410.80" r="2.5" fill="#000" stroke="none" stroke-width="0.5"/>
<circle cx="137.40" cy="412.04" r="2.5" fill="#000" stroke="none" stroke-width="0.5"/>
<circle cx="135.20" cy="409.76" r="2.5" fill="#000" stroke="none" stroke-width="0.5"/>
<rect x="149.15" y="400.86" width="4.8" height="4.8" fill="#000" stroke="none" stroke-width="0.5"/>
<rect x="145.95" y="405.20" width="4.8" height="4.8" fill="#000" stroke="none" stroke-width="0.5"/>
<rect x="151.35" y="402.72" width="4.8" height="4.8" fill="#000" stroke="none" stroke-width="0.5"/>
<path d="M166.85 391.87L169.65 396.91L164.05 396.91Z" fill="#000" stroke="none" stroke-width="0.5"/>
<path d="M166.85 402.51L169.65 407.55L164.05 407.55Z" fill="#000" stroke="none" stroke-width="0.5"/>
<path d="M164.05 407.98L166.85 413.02L161.25 413.02Z" fill="#000" stroke="none" stroke-width="0.5"/>
<path d="M169.65 406.95L172.45 411.99L166.85 411.99Z" fill="#000" stroke="none" stroke-width="0.5"/>
<path d="M164.65 416.75L167.45 421.80L161.85 421.80Z" fill="#000" stroke="none" stroke-width="0.5"/>
<path d="M169.05 412.32L171.85 417.36L166.25 417.36Z" fill="#000" stroke="none" stroke-width="0.5"/>
<path d="M188.05 468.10V465.83H197.95V468.10" fill="#6b6b6b" stroke="#262626" stroke-width="0.85"/>
<path d="M203.70 468.10V464.28H213.60V468.10" fill="#dcdcdc" stroke="#262626" stroke-width="0.85"/>
<path d="M219.80 468.10V466.04H229.70V468.10" fill="#9b9b9b" stroke="#262626" stroke-width="0.85"/>
<line x1="193.00" y1="465.00" x2="193.00" y2="466.65" stroke="#222" stroke-width="0.7"/>
<line x1="190.60" y1="465.00" x2="195.40" y2="465.00" stroke="#222" stroke-width="0.7"/>
<line x1="190.60" y1="466.65" x2="195.40" y2="466.65" stroke="#222" stroke-width="0.7"/>
<line x1="208.65" y1="462.73" x2="208.65" y2="465.83" stroke="#222" stroke-width="0.7"/>
<line x1="206.25" y1="462.73" x2="211.05" y2="462.73" stroke="#222" stroke-width="0.7"/>
<line x1="206.25" y1="465.83" x2="211.05" y2="465.83" stroke="#222" stroke-width="0.7"/>
<line x1="224.75" y1="465.31" x2="224.75" y2="466.76" stroke="#222" stroke-width="0.7"/>
<line x1="222.35" y1="465.31" x2="227.15" y2="465.31" stroke="#222" stroke-width="0.7"/>
<line x1="222.35" y1="466.76" x2="227.15" y2="466.76" stroke="#222" stroke-width="0.7"/>
<circle cx="191.20" cy="464.18" r="2.5" fill="#000" stroke="none" stroke-width="0.5"/>
<circle cx="194.20" cy="463.97" r="2.5" fill="#000" stroke="none" stroke-width="0.5"/>
<circle cx="193.00" cy="463.14" r="2.5" fill="#000" stroke="none" stroke-width="0.5"/>
<circle cx="190.40" cy="465.62" r="2.5" fill="#000" stroke="none" stroke-width="0.5"/>
<circle cx="195.40" cy="465.83" r="2.5" fill="#000" stroke="none" stroke-width="0.5"/>
<circle cx="193.00" cy="465.00" r="2.5" fill="#000" stroke="none" stroke-width="0.5"/>
<rect x="206.25" y="454.03" width="4.8" height="4.8" fill="#000" stroke="none" stroke-width="0.5"/>
<rect x="204.05" y="459.30" width="4.8" height="4.8" fill="#000" stroke="none" stroke-width="0.5"/>
<rect x="208.45" y="458.89" width="4.8" height="4.8" fill="#000" stroke="none" stroke-width="0.5"/>
<rect x="206.25" y="457.85" width="4.8" height="4.8" fill="#000" stroke="none" stroke-width="0.5"/>
<path d="M223.15 461.98L225.95 467.02L220.35 467.02Z" fill="#000" stroke="none" stroke-width="0.5"/>
<path d="M226.35 461.77L229.15 466.81L223.55 466.81Z" fill="#000" stroke="none" stroke-width="0.5"/>
<path d="M224.75 460.95L227.55 465.99L221.95 465.99Z" fill="#000" stroke="none" stroke-width="0.5"/>
<path d="M221.75 463.01L224.55 468.05L218.95 468.05Z" fill="#000" stroke="none" stroke-width="0.5"/>
<path d="M227.75 463.01L230.55 468.05L224.95 468.05Z" fill="#000" stroke="none" stroke-width="0.5"/>
<path d="M245.95 468.10V464.80H255.85V468.10" fill="#6b6b6b" stroke="#262626" stroke-width="0.85"/>
<path d="M261.70 468.10V462.52H271.60V468.10" fill="#dcdcdc" stroke="#262626" stroke-width="0.85"/>
<path d="M277.50 468.10V463.66H287.40V468.10" fill="#9b9b9b" stroke="#262626" stroke-width="0.85"/>
<line x1="250.90" y1="463.56" x2="250.90" y2="466.04" stroke="#222" stroke-width="0.7"/>
<line x1="248.50" y1="463.56" x2="253.30" y2="463.56" stroke="#222" stroke-width="0.7"/>
<line x1="248.50" y1="466.04" x2="253.30" y2="466.04" stroke="#222" stroke-width="0.7"/>
<line x1="266.65" y1="460.98" x2="266.65" y2="464.07" stroke="#222" stroke-width="0.7"/>
<line x1="264.25" y1="460.98" x2="269.05" y2="460.98" stroke="#222" stroke-width="0.7"/>
<line x1="264.25" y1="464.07" x2="269.05" y2="464.07" stroke="#222" stroke-width="0.7"/>
<line x1="282.45" y1="462.42" x2="282.45" y2="464.90" stroke="#222" stroke-width="0.7"/>
<line x1="280.05" y1="462.42" x2="284.85" y2="462.42" stroke="#222" stroke-width="0.7"/>
<line x1="280.05" y1="464.90" x2="284.85" y2="464.90" stroke="#222" stroke-width="0.7"/>
<circle cx="249.70" cy="459.22" r="2.5" fill="#000" stroke="none" stroke-width="0.5"/>
<circle cx="252.50" cy="460.46" r="2.5" fill="#000" stroke="none" stroke-width="0.5"/>
<circle cx="248.50" cy="463.76" r="2.5" fill="#000" stroke="none" stroke-width="0.5"/>
<circle cx="253.30" cy="464.18" r="2.5" fill="#000" stroke="none" stroke-width="0.5"/>
<circle cx="250.90" cy="462.32" r="2.5" fill="#000" stroke="none" stroke-width="0.5"/>
<rect x="262.45" y="455.99" width="4.8" height="4.8" fill="#000" stroke="none" stroke-width="0.5"/>
<rect x="266.05" y="455.58" width="4.8" height="4.8" fill="#000" stroke="none" stroke-width="0.5"/>
<rect x="264.25" y="455.17" width="4.8" height="4.8" fill="#000" stroke="none" stroke-width="0.5"/>
<rect x="262.05" y="458.27" width="4.8" height="4.8" fill="#000" stroke="none" stroke-width="0.5"/>
<rect x="266.45" y="458.27" width="4.8" height="4.8" fill="#000" stroke="none" stroke-width="0.5"/>
<path d="M282.45 457.85L285.25 462.89L279.65 462.89Z" fill="#000" stroke="none" stroke-width="0.5"/>
<path d="M280.25 460.12L283.05 465.16L277.45 465.16Z" fill="#000" stroke="none" stroke-width="0.5"/>
<path d="M284.85 460.53L287.65 465.57L282.05 465.57Z" fill="#000" stroke="none" stroke-width="0.5"/>
<path d="M283.25 459.29L286.05 464.33L280.45 464.33Z" fill="#000" stroke="none" stroke-width="0.5"/>
<path d="M285.45 461.98L288.25 467.02L282.65 467.02Z" fill="#000" stroke="none" stroke-width="0.5"/>
<line x1="66.10" y1="385.15" x2="66.10" y2="468.45" stroke="#3c3c3c" stroke-width="0.7"/>
<line x1="65.75" y1="468.10" x2="292.60" y2="468.10" stroke="#3c3c3c" stroke-width="0.7"/>
<line x1="62.50" y1="468.10" x2="66.10" y2="468.10" stroke="#3c3c3c" stroke-width="0.7"/>
<text x="60.90" y="470.30" font-size="6.6" text-anchor="end" fill="#1a1a1a" stroke="#1a1a1a" stroke-width="0.16">0</text>
<line x1="62.50" y1="447.45" x2="66.10" y2="447.45" stroke="#3c3c3c" stroke-width="0.7"/>
<text x="60.90" y="449.65" font-size="6.6" text-anchor="end" fill="#1a1a1a" stroke="#1a1a1a" stroke-width="0.16">20</text>
<line x1="62.50" y1="426.80" x2="66.10" y2="426.80" stroke="#3c3c3c" stroke-width="0.7"/>
<text x="60.90" y="429.00" font-size="6.6" text-anchor="end" fill="#1a1a1a" stroke="#1a1a1a" stroke-width="0.16">40</text>
<line x1="62.50" y1="406.15" x2="66.10" y2="406.15" stroke="#3c3c3c" stroke-width="0.7"/>
<text x="60.90" y="408.35" font-size="6.6" text-anchor="end" fill="#1a1a1a" stroke="#1a1a1a" stroke-width="0.16">60</text>
<line x1="62.50" y1="385.50" x2="66.10" y2="385.50" stroke="#3c3c3c" stroke-width="0.7"/>
<text x="60.90" y="387.70" font-size="6.6" text-anchor="end" fill="#1a1a1a" stroke="#1a1a1a" stroke-width="0.16">80</text>
<text x="44.40" y="427.50" font-size="7.3" text-anchor="middle" transform="rotate(-90 44.40 427.50)" fill="#1a1a1a" stroke="#1a1a1a" stroke-width="0.16">P14, (% cytokine +)</text>
<text x="72.00" y="479.70" font-size="6.6" text-anchor="end" fill="#1a1a1a" stroke="#1a1a1a" stroke-width="0.16">IFNγ</text>
<text x="72.00" y="490.00" font-size="6.6" text-anchor="end" fill="#1a1a1a" stroke="#1a1a1a" stroke-width="0.16">TNF</text>
<text x="72.00" y="499.30" font-size="6.6" text-anchor="end" fill="#1a1a1a" stroke="#1a1a1a" stroke-width="0.16">IL-2</text>
<line x1="92.85" y1="468.10" x2="92.85" y2="472.30" stroke="#3c3c3c" stroke-width="0.7"/>
<text x="93.25" y="479.40" font-size="6.8" text-anchor="middle" fill="#222" stroke="#1a1a1a" stroke-width="0.16">+</text>
<text x="93.25" y="489.70" font-size="6.8" text-anchor="middle" fill="#222" stroke="#1a1a1a" stroke-width="0.16">+</text>
<text x="93.25" y="499.00" font-size="6.8" text-anchor="middle" fill="#222" stroke="#1a1a1a" stroke-width="0.16">+</text>
<line x1="150.85" y1="468.10" x2="150.85" y2="472.30" stroke="#3c3c3c" stroke-width="0.7"/>
<text x="151.25" y="479.40" font-size="6.8" text-anchor="middle" fill="#222" stroke="#1a1a1a" stroke-width="0.16">+</text>
<text x="151.25" y="489.70" font-size="6.8" text-anchor="middle" fill="#222" stroke="#1a1a1a" stroke-width="0.16">+</text>
<text x="151.25" y="499.00" font-size="6.8" text-anchor="middle" fill="#444" stroke="#1a1a1a" stroke-width="0.16">−</text>
<line x1="208.55" y1="468.10" x2="208.55" y2="472.30" stroke="#3c3c3c" stroke-width="0.7"/>
<text x="208.95" y="479.40" font-size="6.8" text-anchor="middle" fill="#444" stroke="#1a1a1a" stroke-width="0.16">−</text>
<text x="208.95" y="489.70" font-size="6.8" text-anchor="middle" fill="#222" stroke="#1a1a1a" stroke-width="0.16">+</text>
<text x="208.95" y="499.00" font-size="6.8" text-anchor="middle" fill="#444" stroke="#1a1a1a" stroke-width="0.16">−</text>
<line x1="266.55" y1="468.10" x2="266.55" y2="472.30" stroke="#3c3c3c" stroke-width="0.7"/>
<text x="266.95" y="479.40" font-size="6.8" text-anchor="middle" fill="#444" stroke="#1a1a1a" stroke-width="0.16">−</text>
<text x="266.95" y="489.70" font-size="6.8" text-anchor="middle" fill="#444" stroke="#1a1a1a" stroke-width="0.16">−</text>
<text x="266.95" y="499.00" font-size="6.8" text-anchor="middle" fill="#444" stroke="#1a1a1a" stroke-width="0.16">−</text>
<line x1="77.10" y1="417.50" x2="93.50" y2="417.50" stroke="#3a3a3a" stroke-width="0.7"/>
<text x="85.30" y="418.40" font-size="9.5" text-anchor="middle" font-weight="bold" fill="#222" stroke="#1a1a1a" stroke-width="0.16">*</text>
<line x1="93.50" y1="400.50" x2="108.80" y2="400.50" stroke="#3a3a3a" stroke-width="0.7"/>
<text x="101.15" y="401.40" font-size="9.5" text-anchor="middle" font-weight="bold" fill="#222" stroke="#1a1a1a" stroke-width="0.16">*</text>
<circle cx="238.30" cy="398.40" r="2.6" fill="#3a3a3a" stroke="none" stroke-width="0.5"/>
<rect x="236.00" y="407.30" width="4.6" height="4.6" fill="#d9d9d9" stroke="#777" stroke-width="0.7"/>
<path d="M238.30 417.79L240.90 422.47L235.70 422.47Z" fill="#4a4a4a" stroke="none" stroke-width="0.5"/>
<text x="244.40" y="400.30" font-size="5.2" text-anchor="start" fill="#1a1a1a" stroke="#1a1a1a" stroke-width="0.16">RISP WT</text>
<text x="244.40" y="411.50" font-size="5.2" text-anchor="start" fill="#1a1a1a" stroke="#1a1a1a" stroke-width="0.16">RISP KO</text>
<text x="244.40" y="422.20" font-size="5.2" text-anchor="start" fill="#1a1a1a" stroke="#1a1a1a" stroke-width="0.16">RISP KO + AOX</text>
<text transform="translate(0.30 177.00) scale(1.12 1)" font-size="12.2" text-anchor="start" font-weight="bold" fill="#000" stroke="#000" stroke-width="0.4">f</text>
<text transform="translate(19.10 177.70) scale(0.9 1)" font-size="8.7" text-anchor="start" fill="#2a2a2a" stroke="none">30 d.p.i. RISP WT P14</text>
<text transform="translate(165.00 177.70) scale(0.9 1)" font-size="8.7" text-anchor="middle" fill="#2a2a2a" stroke="none">RISP KO P14</text>
<text transform="translate(254.50 177.70) scale(0.95 1)" font-size="8.7" text-anchor="middle" fill="#2a2a2a" stroke="none">RISP KO + AOX P14</text>
<clipPath id="cp37_181"><rect x="37.2" y="181.5" width="74.89999999999999" height="74.60000000000002"/></clipPath>
<path d="M57.5 201.5L59.5 201.5L61.2 201.9L63.0 202.6L66.2 204.3L67.5 204.7L68.7 204.7L71.2 204.2L72.7 204.0L74.2 204.2L76.0 204.6L78.0 205.6L79.7 207.0L81.3 208.8L82.5 210.8L83.1 212.2L83.5 213.8L83.6 215.2L83.6 216.5L83.3 217.8L82.9 219.0L81.1 222.2L80.6 223.8L80.3 225.5L80.1 229.2L80.1 230.2L80.4 231.0L80.8 231.5L85.5 234.3L86.8 235.5L87.9 236.8L88.8 238.2L89.5 240.0L89.9 241.5L90.0 243.2L89.8 244.8L89.1 246.5L88.3 247.8L87.2 248.9L85.7 250.0L84.2 250.6L82.7 250.9L81.0 251.0L79.5 250.8L78.0 250.4L76.5 249.8L75.0 248.9L73.0 247.2L70.5 244.2L69.7 243.4L68.7 242.8L66.5 241.8L65.5 241.3L64.3 240.2L63.7 239.2L63.3 238.2L63.3 237.2L63.6 236.2L64.2 235.6L65.0 235.1L66.0 234.8L67.0 234.7L69.2 234.7L70.0 234.6L70.4 234.2L70.7 233.9L70.9 233.2L70.8 232.8L69.3 228.8L69.0 227.2L68.6 224.0L68.4 223.2L68.0 222.8L67.0 222.2L63.7 221.9L62.0 221.4L60.5 220.9L58.7 219.9L56.7 218.4L54.9 216.5L53.4 214.5L52.4 212.5L51.8 210.8L51.5 208.8L51.7 207.0L52.2 205.2L53.2 203.8L54.5 202.6L56.0 201.8L57.5 201.5ZM57.6 202.5L59.7 202.5L61.7 203.1L63.7 204.1L67.0 206.2L68.2 206.7L69.5 206.7L71.7 206.2L73.0 206.1L74.2 206.2L75.7 206.6L77.2 207.4L78.7 208.5L79.9 210.0L80.8 211.5L81.5 213.8L81.6 215.0L81.6 216.0L81.3 217.2L80.9 218.2L79.0 221.2L78.5 222.5L78.4 223.8L78.4 227.2L77.9 230.2L77.9 231.0L78.2 231.5L78.7 232.0L83.5 234.1L84.9 235.1L86.2 236.2L87.4 237.8L88.2 239.2L88.8 241.0L89.0 242.8L88.8 244.2L88.3 245.8L87.6 247.0L86.4 248.2L85.2 249.1L83.7 249.7L82.0 250.0L80.2 250.0L78.7 249.7L77.5 249.3L76.2 248.7L75.0 247.8L74.0 247.0L72.9 245.8L70.7 242.5L70.0 241.6L69.2 241.0L66.7 239.9L66.2 239.5L65.7 238.8L65.6 238.2L65.7 237.6L66.0 237.2L66.5 236.9L67.5 236.7L69.2 236.9L70.0 236.9L70.5 236.7L71.2 236.2L72.1 235.2L73.0 234.0L73.3 233.2L73.3 232.5L73.0 231.8L71.6 229.8L71.0 228.2L70.7 226.2L70.7 222.5L70.5 221.6L70.0 221.0L69.5 220.6L68.7 220.5L65.2 220.7L63.5 220.6L62.0 220.3L60.5 219.7L58.5 218.6L56.5 216.9L54.7 215.0L53.6 213.2L52.9 211.5L52.5 209.7L52.5 208.0L52.9 206.2L53.7 204.8L54.7 203.7L56.0 202.9L57.6 202.5ZM57.2 203.2L58.2 203.1L59.5 203.1L60.7 203.4L62.0 203.9L64.0 205.0L67.5 207.6L68.7 208.2L70.0 208.3L72.0 207.8L73.2 207.6L74.2 207.7L75.2 208.0L76.2 208.4L77.2 209.0L78.0 209.8L78.9 210.8L79.6 212.0L80.0 213.2L80.2 214.5L80.1 215.8L79.7 217.0L79.2 218.0L76.8 220.8L76.2 221.8L76.1 222.8L76.7 225.5L76.8 227.2L76.3 228.8L76.0 229.3L75.5 229.7L74.7 229.9L73.7 229.5L73.0 228.6L72.5 227.8L72.3 226.8L72.3 225.5L73.1 222.5L73.1 221.8L73.0 221.2L72.6 220.5L71.7 219.5L70.7 218.9L69.7 218.7L68.7 218.9L66.2 219.6L65.0 219.8L63.5 219.8L61.7 219.4L60.0 218.7L58.0 217.4L56.2 215.8L54.9 214.2L53.9 212.5L53.3 211.0L53.0 209.2L53.2 207.5L53.7 206.0L54.6 204.8L55.7 203.8L57.2 203.2ZM76.5 233.0L78.0 233.0L80.0 233.4L82.0 234.1L83.5 234.8L85.0 235.9L86.1 237.0L87.0 238.2L87.8 239.8L88.2 241.2L88.3 243.0L88.0 244.5L87.4 246.0L86.5 247.2L85.5 248.1L84.0 248.9L82.5 249.3L80.7 249.4L79.0 249.1L77.0 248.4L75.5 247.4L74.1 246.2L72.9 244.8L71.8 242.8L70.9 240.8L70.7 240.0L70.7 239.2L70.9 238.5L71.4 237.8L73.2 235.5L74.4 234.1L75.5 233.4L76.5 233.0ZM57.4 203.8L58.5 203.6L59.7 203.7L61.0 204.0L62.2 204.5L64.2 205.8L67.9 209.0L69.2 209.7L70.2 209.8L72.7 209.1L74.0 209.1L75.5 209.4L77.0 210.4L78.0 211.6L78.6 213.0L78.8 214.5L78.6 216.0L77.9 217.2L76.7 218.3L75.5 218.8L74.2 218.7L71.5 217.3L70.2 217.1L69.2 217.4L67.0 218.5L65.7 218.9L64.5 219.1L63.0 219.0L61.4 218.7L60.2 218.2L58.7 217.3L57.2 216.2L55.6 214.5L54.5 212.8L53.8 211.0L53.5 209.0L53.6 208.0L53.8 207.0L54.6 205.5L55.2 204.9L56.0 204.3L57.4 203.8ZM76.4 234.0L77.7 233.8L79.2 233.9L81.2 234.3L82.7 235.0L84.0 235.7L85.2 236.8L86.3 238.0L87.0 239.2L87.5 240.8L87.8 242.2L87.7 243.8L87.3 245.0L86.6 246.2L85.7 247.2L84.5 248.1L83.2 248.6L81.7 248.9L80.2 248.8L78.5 248.5L77.0 247.8L75.5 246.8L74.3 245.8L73.4 244.5L72.5 243.0L72.0 241.8L71.7 240.5L71.7 239.5L72.0 238.5L72.9 237.0L74.1 235.5L75.2 234.6L76.4 234.0ZM57.2 204.2L58.5 204.0L59.7 204.1L61.0 204.4L62.5 205.1L64.7 206.8L68.7 210.9L70.0 211.8L70.7 211.8L72.5 210.8L73.5 210.6L74.7 210.7L75.9 211.2L76.8 212.2L77.3 213.5L77.3 214.8L76.9 215.8L76.2 216.5L75.2 216.9L74.0 216.7L72.7 216.1L71.2 215.2L70.7 215.0L70.2 215.1L69.5 215.6L67.8 217.0L66.6 217.8L65.2 218.3L63.7 218.5L62.5 218.4L61.0 217.9L59.5 217.2L58.0 216.2L56.3 214.8L55.0 213.0L54.2 211.2L53.9 209.5L54.0 207.8L54.6 206.2L55.7 205.0L57.2 204.2ZM76.9 234.5L78.2 234.3L79.7 234.4L81.2 234.8L82.7 235.4L83.9 236.2L85.1 237.2L86.1 238.5L86.8 239.8L87.2 241.0L87.3 242.5L87.2 243.8L86.8 245.0L86.2 246.0L85.2 247.0L84.0 247.8L82.7 248.2L81.5 248.4L80.0 248.4L78.5 248.0L77.0 247.4L75.7 246.5L74.6 245.5L73.7 244.2L72.9 242.8L72.5 241.5L72.3 240.2L72.5 239.2L72.8 238.2L73.5 237.0L74.7 235.8L75.7 235.0L76.9 234.5ZM57.8 204.5L59.2 204.4L60.5 204.6L61.7 205.1L62.9 205.9L64.4 207.0L65.6 208.2L67.0 210.0L68.1 211.8L68.5 212.8L68.6 213.5L68.5 214.2L68.3 215.0L67.6 216.0L66.8 216.8L66.0 217.3L65.0 217.7L63.7 217.9L62.5 217.8L61.2 217.5L59.7 216.9L58.2 216.0L57.0 214.9L55.9 213.8L55.1 212.5L54.6 211.2L54.3 210.0L54.2 208.8L54.5 207.5L55.0 206.5L55.7 205.6L56.7 204.9L57.8 204.5ZM77.0 235.0L78.2 234.8L79.7 234.8L81.2 235.2L82.5 235.7L83.7 236.5L84.9 237.5L85.7 238.5L86.3 239.7L86.8 241.2L86.9 242.5L86.8 243.8L86.3 245.0L85.6 246.0L84.7 246.9L83.7 247.5L82.5 247.9L81.2 248.1L79.7 248.0L78.5 247.6L77.2 247.1L76.0 246.2L74.9 245.2L74.0 244.0L73.4 242.8L73.0 241.5L72.9 240.5L73.0 239.2L73.3 238.2L74.1 237.0L75.0 236.1L76.0 235.4L77.0 235.0ZM57.3 205.0L58.5 204.8L59.7 204.8L61.0 205.2L62.0 205.6L63.2 206.5L64.4 207.5L65.5 208.8L66.5 210.2L67.2 211.5L67.5 212.5L67.6 213.5L67.5 214.2L67.1 215.2L66.5 216.0L65.7 216.7L64.7 217.1L63.7 217.3L62.5 217.3L61.2 217.1L60.0 216.6L58.7 215.9L57.5 214.9L56.5 213.9L55.6 212.8L55.0 211.5L54.7 210.2L54.6 209.0L54.7 208.0L55.1 207.0L55.7 206.1L56.5 205.4L57.3 205.0ZM77.7 235.2L79.0 235.2L80.5 235.4L81.7 235.7L83.0 236.4L84.0 237.1L84.8 238.0L85.6 239.0L86.2 240.2L86.5 241.5L86.5 242.8L86.3 244.0L85.9 245.0L85.2 245.9L84.5 246.6L83.5 247.2L82.2 247.6L80.9 247.7L79.7 247.6L78.5 247.3L77.2 246.7L76.2 246.0L75.1 245.0L74.3 243.8L73.7 242.5L73.3 241.2L73.3 240.2L73.5 239.0L74.0 238.0L74.7 237.0L75.7 236.1L76.7 235.5L77.7 235.2ZM57.7 205.2L58.7 205.1L59.7 205.1L61.0 205.5L62.0 206.0L63.1 206.8L64.1 207.8L65.2 209.0L66.0 210.2L66.5 211.5L66.8 212.5L66.9 213.5L66.7 214.2L66.4 215.0L65.7 215.8L65.0 216.3L64.0 216.7L63.0 216.8L61.7 216.7L60.5 216.4L59.5 215.9L58.2 215.1L57.2 214.3L56.3 213.2L55.7 212.2L55.1 211.0L54.9 210.0L54.9 209.0L55.0 208.0L55.4 207.0L56.0 206.2L56.7 205.7L57.7 205.2ZM77.3 235.8L78.5 235.5L79.7 235.6L81.0 235.8L82.2 236.3L83.2 236.9L84.2 237.8L85.0 238.8L85.7 240.0L86.0 241.0L86.2 242.2L86.1 243.5L85.7 244.5L85.1 245.5L84.3 246.2L83.2 246.9L82.2 247.2L81.0 247.4L79.7 247.3L78.5 246.9L77.5 246.5L76.4 245.8L75.5 244.9L74.6 243.8L74.1 242.8L73.8 241.5L73.7 240.5L73.8 239.5L74.1 238.5L74.7 237.6L75.5 236.8L76.5 236.1L77.3 235.8ZM58.0 205.5L59.0 205.4L60.0 205.5L61.0 205.8L62.0 206.3L63.0 207.0L63.9 208.0L64.7 209.0L65.5 210.2L65.9 211.2L66.2 212.2L66.2 213.2L66.1 214.0L65.7 214.8L65.0 215.5L64.2 216.0L63.3 216.2L62.5 216.3L61.5 216.2L60.2 215.9L59.2 215.4L58.2 214.8L57.2 213.9L56.4 213.0L55.8 212.0L55.4 211.0L55.2 210.0L55.2 209.0L55.3 208.0L55.7 207.2L56.2 206.5L57.0 205.9L58.0 205.5ZM77.7 236.0L78.7 235.9L80.0 235.9L81.2 236.2L82.4 236.8L83.5 237.5L84.2 238.2L85.0 239.2L85.5 240.2L85.8 241.2L85.8 242.5L85.7 243.5L85.3 244.5L84.7 245.4L84.0 246.1L83.0 246.6L82.0 247.0L81.0 247.1L79.7 247.0L78.5 246.6L77.4 246.1L76.5 245.4L75.5 244.5L74.9 243.5L74.4 242.5L74.1 241.5L74.0 240.5L74.2 239.5L74.6 238.5L75.2 237.6L76.0 236.8L76.7 236.4L77.7 236.0ZM58.3 205.8L59.2 205.7L60.2 205.8L61.2 206.2L62.1 206.8L63.0 207.5L63.9 208.5L65.1 210.5L65.5 211.5L65.6 212.5L65.6 213.2L65.3 214.0L64.9 214.8L64.3 215.2L63.5 215.6L62.7 215.8L61.7 215.8L60.7 215.6L59.7 215.3L58.7 214.7L57.7 214.0L57.0 213.2L55.9 211.5L55.6 210.5L55.4 209.5L55.5 208.5L55.7 207.8L56.2 207.0L56.7 206.5L57.5 206.0L58.3 205.8ZM78.2 236.2L79.2 236.2L80.5 236.3L81.5 236.6L82.6 237.2L83.5 237.9L84.3 238.8L84.9 239.8L85.3 240.8L85.5 241.8L85.5 242.8L85.3 243.8L84.8 244.8L84.2 245.4L83.5 246.0L82.5 246.5L81.5 246.7L80.5 246.7L79.2 246.5L78.2 246.2L77.2 245.6L75.7 244.2L75.1 243.2L74.6 242.2L74.4 241.2L74.4 240.2L74.6 239.2L75.0 238.5L75.5 237.8L76.3 237.0L77.2 236.5L78.2 236.2ZM58.6 206.0L59.5 206.0L60.5 206.2L61.5 206.7L62.2 207.2L63.7 208.8L64.7 210.5L65.1 212.2L65.0 213.0L64.7 213.8L64.2 214.5L63.7 214.9L63.0 215.2L62.2 215.3L60.5 215.2L58.7 214.4L57.1 213.0L56.6 212.2L56.1 211.2L55.7 209.5L55.8 208.5L56.1 207.8L56.6 207.0L57.2 206.5L58.0 206.1L58.6 206.0ZM79.0 236.5L80.0 236.6L81.0 236.8L82.0 237.2L82.8 237.8L83.7 238.5L84.3 239.2L84.7 240.0L85.1 241.0L85.2 242.0L85.1 243.0L84.9 243.8L84.5 244.6L83.7 245.4L83.0 245.9L82.2 246.2L81.2 246.4L80.2 246.4L79.2 246.2L78.2 245.9L77.2 245.3L76.5 244.6L75.7 243.8L75.2 242.8L74.8 241.8L74.7 240.8L74.8 239.8L75.2 238.8L75.7 238.1L76.5 237.3L77.2 236.9L78.0 236.6L79.0 236.5ZM57.8 206.5L58.7 206.3L59.5 206.3L61.0 206.7L62.5 207.8L63.7 209.2L64.4 211.0L64.5 212.5L64.3 213.2L64.0 213.8L63.5 214.3L62.7 214.7L61.2 214.9L59.5 214.5L58.0 213.5L56.7 212.0L56.3 211.2L56.0 210.2L56.0 208.8L56.3 208.0L56.7 207.3L57.2 206.9L57.8 206.5ZM77.9 237.0L78.7 236.8L79.7 236.8L80.7 237.0L81.7 237.4L82.7 238.0L83.5 238.7L84.5 240.2L84.7 241.0L84.9 242.0L84.8 243.0L84.5 243.8L84.1 244.5L83.5 245.2L82.7 245.7L82.0 246.0L80.2 246.1L79.2 245.9L78.2 245.5L76.7 244.5L76.1 243.8L75.5 242.8L75.2 241.9L75.1 241.0L75.1 240.0L75.4 239.2L75.8 238.5L76.5 237.8L77.2 237.3L77.9 237.0ZM58.0 206.8L58.7 206.6L59.5 206.6L60.9 207.0L62.3 208.0L63.3 209.2L63.9 210.8L64.0 212.2L63.8 213.0L63.4 213.5L63.0 213.9L62.4 214.2L61.7 214.4L61.0 214.5L59.5 214.1L58.0 213.1L56.9 211.8L56.3 210.2L56.3 208.8L56.6 208.0L57.0 207.5L57.5 207.1L58.0 206.8ZM78.3 237.2L80.0 237.2L81.7 237.8L83.2 238.9L83.9 239.8L84.2 240.5L84.5 241.2L84.5 242.2L84.4 243.0L84.2 243.8L83.7 244.5L83.2 245.0L82.4 245.4L81.5 245.8L80.7 245.8L79.7 245.7L78.9 245.5L78.0 245.1L76.7 244.0L76.1 243.2L75.7 242.4L75.5 241.5L75.4 240.8L75.5 240.0L75.8 239.2L76.2 238.6L76.7 238.0L77.5 237.5L78.3 237.2ZM58.3 207.0L59.0 206.9L59.7 206.9L61.0 207.3L62.2 208.3L63.2 209.8L63.6 211.0L63.5 212.3L62.9 213.2L62.2 213.8L61.7 214.0L60.5 214.0L59.0 213.5L57.7 212.5L57.0 211.4L56.6 210.0L56.6 208.8L57.2 207.7L57.7 207.3L58.3 207.0ZM78.8 237.5L80.5 237.6L82.0 238.2L83.2 239.3L84.0 240.8L84.2 242.2L84.1 243.0L83.8 243.8L82.9 244.8L82.2 245.2L81.5 245.4L80.7 245.5L79.7 245.4L78.2 244.8L76.9 243.8L76.0 242.3L75.8 240.8L75.9 240.0L76.2 239.2L76.7 238.5L77.2 238.1L78.0 237.7L78.8 237.5ZM58.6 207.2L59.7 207.2L61.0 207.7L62.0 208.5L62.8 209.8L63.1 211.0L63.0 212.0L62.3 213.0L61.5 213.5L60.5 213.6L59.2 213.2L58.0 212.3L57.2 211.2L56.8 210.0L57.0 208.8L57.6 207.8L58.6 207.2ZM78.2 238.0L79.7 237.8L81.2 238.2L82.5 239.0L83.5 240.4L83.8 241.8L83.8 242.5L83.6 243.2L82.9 244.2L82.2 244.8L81.6 245.0L80.2 245.1L78.7 244.7L77.3 243.8L76.5 242.5L76.1 241.0L76.4 239.8L77.0 238.8L77.7 238.2L78.2 238.0ZM58.3 207.8L59.2 207.5L60.4 207.8L61.5 208.4L62.1 209.2L62.6 210.5L62.6 211.5L62.2 212.3L61.4 213.0L60.5 213.2L59.5 213.0L58.5 212.4L57.7 211.5L57.2 210.3L57.2 209.2L57.6 208.2L58.3 207.8ZM78.8 238.2L80.2 238.3L81.5 238.7L82.5 239.5L83.2 240.8L83.5 242.0L83.2 243.2L82.8 243.8L82.3 244.2L81.2 244.7L80.0 244.8L78.5 244.2L77.5 243.4L76.8 242.2L76.5 241.0L76.8 239.8L77.6 238.8L78.8 238.2ZM58.7 208.0L59.5 207.9L60.5 208.1L61.3 208.8L62.0 209.7L62.2 210.8L62.1 211.5L61.5 212.2L61.0 212.6L60.2 212.8L59.2 212.5L58.5 211.9L57.8 211.0L57.5 210.0L57.6 209.2L58.0 208.5L58.7 208.0ZM78.6 238.8L79.7 238.6L81.0 238.9L82.0 239.6L82.7 240.5L83.0 241.8L82.9 242.8L82.4 243.5L81.5 244.2L80.5 244.4L79.2 244.1L78.1 243.5L77.3 242.5L77.0 241.2L77.1 240.2L77.7 239.3L78.6 238.8ZM58.7 208.5L59.4 208.3L60.2 208.5L61.0 209.0L61.4 209.5L61.7 210.2L61.6 211.0L61.2 211.8L60.7 212.1L60.2 212.3L59.5 212.1L58.7 211.6L58.2 211.0L57.9 210.2L58.0 209.5L58.2 208.9L58.7 208.5ZM78.8 239.2L79.7 239.1L80.7 239.3L81.7 240.0L82.2 240.7L82.5 241.5L82.4 242.5L81.9 243.2L81.2 243.7L80.2 243.9L79.2 243.6L78.3 243.0L77.8 242.2L77.5 241.3L77.6 240.5L78.0 239.8L78.8 239.2ZM59.0 209.0L59.5 208.9L60.1 209.0L60.5 209.2L60.9 209.8L61.1 210.2L61.0 210.8L60.8 211.2L60.5 211.5L60.0 211.6L59.5 211.5L58.9 211.2L58.6 210.8L58.5 210.2L58.5 209.8L58.7 209.3L59.0 209.0ZM78.9 240.0L79.5 239.8L80.2 239.9L81.0 240.2L81.5 240.7L81.7 241.3L81.7 242.0L81.5 242.5L81.2 242.9L80.7 243.1L80.0 243.2L79.2 242.9L78.7 242.5L78.3 241.8L78.2 241.0L78.5 240.4L78.9 240.0Z" fill="none" stroke="#2a2a2a" stroke-width="0.42" clip-path="url(#cp37_181)"/>
<rect x="37.20" y="181.50" width="74.90" height="74.60" fill="none" stroke="#9a9a9a" stroke-width="0.6"/>
<line x1="69.50" y1="181.50" x2="69.50" y2="256.10" stroke="#2a2a2a" stroke-width="0.8"/>
<line x1="37.20" y1="223.50" x2="112.10" y2="223.50" stroke="#2a2a2a" stroke-width="0.8"/>
<text transform="translate(38.50 189.50) scale(0.92 1)" font-size="8.2" text-anchor="start" fill="#2a2a2a" stroke="none">36.2</text>
<text transform="translate(108.70 189.50) scale(0.8462487153134635 1)" font-size="8.2" text-anchor="end" fill="#2a2a2a" stroke="none">12.3</text>
<text transform="translate(38.30 251.70) scale(0.92 1)" font-size="8.2" text-anchor="start" fill="#2a2a2a" stroke="none">6.42</text>
<text transform="translate(108.70 251.70) scale(0.92 1)" font-size="8.2" text-anchor="end" fill="#2a2a2a" stroke="none">45.0</text>
<text x="34.20" y="191.80" font-size="6.3" text-anchor="end" fill="#2a2a2a" stroke="none">10<tspan dy="-2.4" font-size="3.7">5</tspan></text>
<text x="34.20" y="208.60" font-size="6.3" text-anchor="end" fill="#2a2a2a" stroke="none">10<tspan dy="-2.4" font-size="3.7">4</tspan></text>
<text x="34.20" y="228.90" font-size="6.3" text-anchor="end" fill="#2a2a2a" stroke="none">10<tspan dy="-2.4" font-size="3.7">3</tspan></text>
<text x="32.90" y="240.70" font-size="6.3" text-anchor="end" fill="#2a2a2a" stroke="none">0</text>
<text x="34.20" y="253.60" font-size="6.3" text-anchor="end" fill="#2a2a2a" stroke="none">-10<tspan dy="-2.4" font-size="3.7">3</tspan></text>
<text x="56.10" y="263.10" font-size="6.3" text-anchor="middle" fill="#2a2a2a" stroke="none">0</text>
<text x="80.00" y="263.10" font-size="6.3" text-anchor="middle" fill="#2a2a2a" stroke="none">10<tspan dy="-2.4" font-size="3.7">3</tspan></text>
<text x="103.90" y="263.10" font-size="6.3" text-anchor="middle" fill="#2a2a2a" stroke="none">10<tspan dy="-2.4" font-size="3.7">4</tspan></text>
<line x1="36.00" y1="182.50" x2="37.20" y2="182.50" stroke="#999" stroke-width="0.4"/>
<line x1="36.00" y1="184.10" x2="37.20" y2="184.10" stroke="#999" stroke-width="0.4"/>
<line x1="36.00" y1="185.70" x2="37.20" y2="185.70" stroke="#999" stroke-width="0.4"/>
<line x1="36.00" y1="188.90" x2="37.20" y2="188.90" stroke="#999" stroke-width="0.4"/>
<line x1="36.00" y1="192.10" x2="37.20" y2="192.10" stroke="#999" stroke-width="0.4"/>
<line x1="36.00" y1="193.70" x2="37.20" y2="193.70" stroke="#999" stroke-width="0.4"/>
<line x1="36.00" y1="196.90" x2="37.20" y2="196.90" stroke="#999" stroke-width="0.4"/>
<line x1="36.00" y1="198.50" x2="37.20" y2="198.50" stroke="#999" stroke-width="0.4"/>
<line x1="36.00" y1="200.10" x2="37.20" y2="200.10" stroke="#999" stroke-width="0.4"/>
<line x1="36.00" y1="203.30" x2="37.20" y2="203.30" stroke="#999" stroke-width="0.4"/>
<line x1="36.00" y1="206.50" x2="37.20" y2="206.50" stroke="#999" stroke-width="0.4"/>
<line x1="36.00" y1="208.10" x2="37.20" y2="208.10" stroke="#999" stroke-width="0.4"/>
<line x1="36.00" y1="211.30" x2="37.20" y2="211.30" stroke="#999" stroke-width="0.4"/>
<line x1="36.00" y1="212.90" x2="37.20" y2="212.90" stroke="#999" stroke-width="0.4"/>
<line x1="36.00" y1="214.50" x2="37.20" y2="214.50" stroke="#999" stroke-width="0.4"/>
<line x1="36.00" y1="217.70" x2="37.20" y2="217.70" stroke="#999" stroke-width="0.4"/>
<line x1="36.00" y1="220.90" x2="37.20" y2="220.90" stroke="#999" stroke-width="0.4"/>
<line x1="36.00" y1="222.50" x2="37.20" y2="222.50" stroke="#999" stroke-width="0.4"/>
<line x1="36.00" y1="225.70" x2="37.20" y2="225.70" stroke="#999" stroke-width="0.4"/>
<line x1="36.00" y1="227.30" x2="37.20" y2="227.30" stroke="#999" stroke-width="0.4"/>
<line x1="36.00" y1="228.90" x2="37.20" y2="228.90" stroke="#999" stroke-width="0.4"/>
<line x1="36.00" y1="232.10" x2="37.20" y2="232.10" stroke="#999" stroke-width="0.4"/>
<line x1="36.00" y1="235.30" x2="37.20" y2="235.30" stroke="#999" stroke-width="0.4"/>
<line x1="36.00" y1="236.90" x2="37.20" y2="236.90" stroke="#999" stroke-width="0.4"/>
<line x1="36.00" y1="240.10" x2="37.20" y2="240.10" stroke="#999" stroke-width="0.4"/>
<line x1="36.00" y1="241.70" x2="37.20" y2="241.70" stroke="#999" stroke-width="0.4"/>
<line x1="36.00" y1="243.30" x2="37.20" y2="243.30" stroke="#999" stroke-width="0.4"/>
<line x1="36.00" y1="246.50" x2="37.20" y2="246.50" stroke="#999" stroke-width="0.4"/>
<line x1="36.00" y1="249.70" x2="37.20" y2="249.70" stroke="#999" stroke-width="0.4"/>
<line x1="36.00" y1="251.30" x2="37.20" y2="251.30" stroke="#999" stroke-width="0.4"/>
<line x1="36.00" y1="254.50" x2="37.20" y2="254.50" stroke="#999" stroke-width="0.4"/>
<line x1="38.20" y1="256.10" x2="38.20" y2="257.30" stroke="#999" stroke-width="0.4"/>
<line x1="39.80" y1="256.10" x2="39.80" y2="257.30" stroke="#999" stroke-width="0.4"/>
<line x1="41.40" y1="256.10" x2="41.40" y2="257.30" stroke="#999" stroke-width="0.4"/>
<line x1="44.60" y1="256.10" x2="44.60" y2="257.30" stroke="#999" stroke-width="0.4"/>
<line x1="47.80" y1="256.10" x2="47.80" y2="257.30" stroke="#999" stroke-width="0.4"/>
<line x1="49.40" y1="256.10" x2="49.40" y2="257.30" stroke="#999" stroke-width="0.4"/>
<line x1="52.60" y1="256.10" x2="52.60" y2="257.30" stroke="#999" stroke-width="0.4"/>
<line x1="54.20" y1="256.10" x2="54.20" y2="257.30" stroke="#999" stroke-width="0.4"/>
<line x1="55.80" y1="256.10" x2="55.80" y2="257.30" stroke="#999" stroke-width="0.4"/>
<line x1="59.00" y1="256.10" x2="59.00" y2="257.30" stroke="#999" stroke-width="0.4"/>
<line x1="62.20" y1="256.10" x2="62.20" y2="257.30" stroke="#999" stroke-width="0.4"/>
<line x1="63.80" y1="256.10" x2="63.80" y2="257.30" stroke="#999" stroke-width="0.4"/>
<line x1="67.00" y1="256.10" x2="67.00" y2="257.30" stroke="#999" stroke-width="0.4"/>
<line x1="68.60" y1="256.10" x2="68.60" y2="257.30" stroke="#999" stroke-width="0.4"/>
<line x1="70.20" y1="256.10" x2="70.20" y2="257.30" stroke="#999" stroke-width="0.4"/>
<line x1="73.40" y1="256.10" x2="73.40" y2="257.30" stroke="#999" stroke-width="0.4"/>
<line x1="76.60" y1="256.10" x2="76.60" y2="257.30" stroke="#999" stroke-width="0.4"/>
<line x1="78.20" y1="256.10" x2="78.20" y2="257.30" stroke="#999" stroke-width="0.4"/>
<line x1="81.40" y1="256.10" x2="81.40" y2="257.30" stroke="#999" stroke-width="0.4"/>
<line x1="83.00" y1="256.10" x2="83.00" y2="257.30" stroke="#999" stroke-width="0.4"/>
<line x1="84.60" y1="256.10" x2="84.60" y2="257.30" stroke="#999" stroke-width="0.4"/>
<line x1="87.80" y1="256.10" x2="87.80" y2="257.30" stroke="#999" stroke-width="0.4"/>
<line x1="91.00" y1="256.10" x2="91.00" y2="257.30" stroke="#999" stroke-width="0.4"/>
<line x1="92.60" y1="256.10" x2="92.60" y2="257.30" stroke="#999" stroke-width="0.4"/>
<line x1="95.80" y1="256.10" x2="95.80" y2="257.30" stroke="#999" stroke-width="0.4"/>
<line x1="97.40" y1="256.10" x2="97.40" y2="257.30" stroke="#999" stroke-width="0.4"/>
<line x1="99.00" y1="256.10" x2="99.00" y2="257.30" stroke="#999" stroke-width="0.4"/>
<line x1="102.20" y1="256.10" x2="102.20" y2="257.30" stroke="#999" stroke-width="0.4"/>
<line x1="105.40" y1="256.10" x2="105.40" y2="257.30" stroke="#999" stroke-width="0.4"/>
<line x1="107.00" y1="256.10" x2="107.00" y2="257.30" stroke="#999" stroke-width="0.4"/>
<line x1="110.20" y1="256.10" x2="110.20" y2="257.30" stroke="#999" stroke-width="0.4"/>
<clipPath id="cp128_181"><rect x="128.1" y="181.5" width="75.30000000000001" height="74.1"/></clipPath>
<path d="M149.6 198.2L151.1 198.1L152.6 198.2L154.3 198.6L158.4 200.0L159.6 200.1L163.1 200.2L164.3 200.5L165.6 200.9L167.6 202.0L169.6 203.8L171.3 206.0L172.7 208.5L173.5 211.0L174.2 214.2L175.4 230.0L175.9 231.8L177.5 236.5L177.9 238.2L178.0 240.0L177.8 241.5L177.4 243.0L176.7 244.5L175.8 245.6L174.8 246.6L173.6 247.3L172.3 247.7L171.1 247.9L170.1 247.7L169.1 247.4L167.3 246.4L166.6 245.8L165.8 244.8L164.7 242.8L164.2 241.0L163.9 239.0L164.0 237.2L164.3 233.0L164.2 230.5L163.8 228.9L163.3 227.2L162.8 226.0L162.2 225.0L160.9 223.7L159.1 222.8L157.6 222.4L154.6 222.1L152.8 221.7L151.1 221.1L149.6 220.3L147.9 219.0L146.5 217.5L145.3 215.8L144.3 213.8L143.4 211.2L142.9 208.5L143.0 206.0L143.5 203.8L144.4 201.7L145.8 200.1L147.6 198.9L149.6 198.2ZM150.2 199.2L151.6 199.2L153.3 199.5L155.1 200.1L158.1 201.6L159.3 202.1L160.3 202.3L163.6 202.6L165.6 203.3L167.3 204.4L168.8 205.8L170.1 207.5L171.1 209.5L171.9 211.8L172.4 214.2L173.6 224.5L174.1 230.8L174.6 232.5L176.2 236.8L176.5 238.2L176.5 239.8L176.3 241.2L176.0 242.5L175.3 243.8L174.5 244.8L173.3 245.5L172.3 245.9L171.3 246.1L170.1 246.0L168.6 245.3L167.3 244.3L166.4 243.0L165.7 241.2L165.4 240.0L165.3 238.5L165.7 233.2L165.6 230.8L165.1 228.0L164.6 226.0L164.0 224.5L163.3 223.4L162.6 222.5L161.8 221.9L160.8 221.3L159.8 220.9L158.3 220.7L155.1 220.6L153.6 220.5L151.8 220.0L150.3 219.3L148.8 218.2L147.3 216.8L146.3 215.2L145.2 213.2L144.4 211.0L143.9 208.5L143.9 206.2L144.4 204.0L145.3 202.2L146.7 200.8L148.3 199.8L150.2 199.2ZM150.0 200.0L151.8 199.9L153.6 200.3L155.6 201.2L158.6 203.1L159.6 203.6L160.8 204.0L163.8 204.4L165.3 204.9L166.8 205.9L168.0 207.0L169.1 208.5L169.9 210.0L170.6 212.0L171.1 214.3L171.6 219.0L172.6 224.8L173.1 231.2L173.6 232.9L175.1 236.8L175.4 238.2L175.5 239.5L175.4 240.8L175.0 242.0L174.4 243.0L173.6 243.9L172.6 244.5L171.6 244.8L170.6 244.8L169.6 244.5L168.6 243.9L167.7 243.0L167.0 241.8L166.6 240.5L166.4 239.2L166.3 238.0L166.8 233.5L166.8 231.2L165.5 225.0L165.0 223.5L164.3 222.2L163.6 221.4L162.6 220.6L161.5 220.0L160.3 219.6L158.8 219.4L155.6 219.6L154.1 219.6L152.3 219.2L150.8 218.6L149.3 217.6L148.0 216.2L146.7 214.5L145.8 212.8L145.0 210.5L144.5 208.2L144.6 206.2L145.0 204.5L145.7 203.0L146.8 201.6L148.3 200.5L150.0 200.0ZM150.3 200.5L152.1 200.5L153.8 200.9L155.8 202.0L158.8 204.3L159.8 204.9L161.1 205.3L163.8 205.8L165.3 206.4L166.4 207.1L167.3 208.1L168.2 209.2L168.9 210.5L169.4 212.0L169.8 213.5L170.5 219.2L171.6 224.7L172.1 231.5L172.5 233.0L174.2 236.8L174.5 238.0L174.6 239.2L174.5 240.5L174.1 241.6L173.5 242.5L172.6 243.3L171.6 243.7L170.6 243.7L169.6 243.3L168.8 242.8L167.9 241.5L167.3 239.8L167.2 237.8L167.9 233.5L167.9 231.5L166.3 223.8L165.8 222.3L165.2 221.2L164.3 220.3L163.3 219.5L162.1 218.8L160.8 218.4L159.1 218.2L155.8 218.7L154.3 218.8L152.8 218.5L151.3 218.0L149.8 217.1L148.4 215.8L147.3 214.2L146.2 212.2L145.4 210.2L145.1 208.2L145.1 206.5L145.4 204.8L146.1 203.2L147.3 201.8L148.8 200.9L150.3 200.5ZM150.1 201.0L151.1 200.9L152.1 200.9L153.1 201.2L154.3 201.7L156.1 202.8L159.8 206.0L161.1 206.6L163.6 207.1L164.8 207.6L166.1 208.5L167.2 209.8L168.1 211.5L168.6 213.2L168.8 215.2L169.0 220.0L169.2 221.0L170.3 224.2L170.6 226.2L170.6 227.8L170.5 229.0L170.1 230.4L169.8 230.7L169.6 230.5L169.1 229.7L168.3 227.5L168.0 225.8L167.6 222.2L167.3 221.2L166.4 220.0L165.1 219.0L162.3 217.6L160.6 217.1L159.1 217.2L155.1 218.0L153.8 218.0L152.6 217.8L151.1 217.1L149.8 216.3L148.7 215.2L147.7 214.0L146.6 212.0L145.8 210.0L145.5 208.0L145.6 206.0L146.1 204.2L147.1 202.7L148.3 201.7L149.1 201.3L150.1 201.0ZM169.8 232.2L170.1 232.1L170.3 232.3L172.1 234.6L173.1 236.3L173.7 238.0L173.7 239.5L173.5 240.8L172.8 241.8L171.8 242.4L171.3 242.6L170.6 242.5L169.6 242.1L168.7 241.0L168.1 239.5L168.0 238.0L168.3 236.2L169.1 233.9L169.8 232.2ZM149.8 201.5L150.8 201.3L152.1 201.4L153.3 201.7L154.3 202.1L156.3 203.5L159.1 206.4L160.3 207.5L161.6 208.1L164.3 208.9L165.1 209.3L165.8 210.0L166.8 211.5L167.3 213.0L167.4 214.8L167.1 216.3L166.6 216.9L165.8 217.1L164.8 217.0L162.8 216.3L161.6 216.0L160.3 215.9L155.8 217.2L154.6 217.3L153.6 217.3L152.3 217.0L151.1 216.4L149.8 215.6L148.8 214.6L147.5 212.8L146.5 210.8L146.0 208.8L145.9 206.7L146.2 205.0L147.1 203.3L148.3 202.2L149.8 201.5ZM170.0 235.8L170.6 235.5L171.3 235.8L172.1 236.7L172.6 237.8L172.8 238.8L172.7 239.8L172.3 240.5L171.6 241.2L170.8 241.3L170.1 241.0L169.6 240.5L169.1 239.5L169.0 238.5L169.1 237.4L169.4 236.5L170.0 235.8ZM150.4 201.8L151.3 201.7L152.6 201.8L153.6 202.2L154.8 202.8L156.7 204.5L159.3 207.8L160.6 209.1L161.8 209.9L163.8 210.6L164.9 211.5L165.3 212.4L165.5 213.2L165.3 214.0L164.9 214.5L164.1 214.6L161.6 214.3L160.8 214.4L159.8 214.8L157.6 215.8L156.1 216.4L154.6 216.6L153.3 216.6L151.8 216.2L150.6 215.5L149.3 214.4L148.2 213.0L147.1 211.2L146.5 209.5L146.2 207.8L146.3 206.0L146.8 204.5L147.7 203.2L148.8 202.3L150.4 201.8ZM149.8 202.2L151.1 202.0L152.3 202.1L153.6 202.5L154.9 203.3L156.0 204.2L157.0 205.5L159.5 209.5L160.2 211.2L160.2 212.0L160.0 212.5L159.5 213.2L158.8 214.0L157.8 214.8L156.6 215.4L155.3 215.8L154.1 216.0L152.8 215.8L151.6 215.4L150.3 214.6L149.3 213.7L148.3 212.5L147.5 211.2L147.0 210.0L146.6 208.5L146.5 207.0L146.7 205.8L147.2 204.5L147.8 203.5L148.8 202.8L149.8 202.2ZM150.1 202.5L151.1 202.3L152.3 202.4L153.6 202.9L154.6 203.5L155.6 204.3L156.6 205.5L157.5 207.0L158.2 208.5L158.7 209.8L158.9 210.8L158.8 211.8L158.6 212.5L158.1 213.2L157.3 214.0L156.3 214.7L155.3 215.1L154.3 215.3L153.1 215.2L151.8 214.8L150.8 214.3L149.8 213.6L148.8 212.5L148.1 211.5L147.4 210.2L147.0 209.0L146.8 207.8L146.9 206.5L147.1 205.5L147.6 204.4L148.4 203.5L149.1 202.9L150.1 202.5ZM150.5 202.8L151.6 202.7L152.6 202.8L153.6 203.2L154.6 203.9L155.5 204.8L156.3 205.8L157.0 207.0L157.5 208.2L157.9 209.5L158.0 210.5L157.9 211.5L157.7 212.2L157.2 213.0L156.4 213.8L155.6 214.2L154.6 214.5L153.6 214.6L152.3 214.4L151.3 214.0L150.3 213.4L149.3 212.5L148.6 211.6L147.9 210.5L147.5 209.5L147.2 208.2L147.1 207.2L147.2 206.2L147.5 205.2L147.9 204.5L148.6 203.7L149.3 203.2L150.5 202.8ZM150.8 203.0L151.8 203.0L152.8 203.2L153.8 203.7L154.6 204.2L155.3 205.0L156.1 206.0L157.0 208.0L157.3 210.0L157.2 211.0L157.0 211.8L156.5 212.5L155.8 213.1L155.1 213.5L154.1 213.8L153.1 213.8L152.1 213.6L151.1 213.2L150.1 212.6L149.3 211.9L148.6 211.0L148.0 210.0L147.7 209.0L147.5 208.0L147.4 207.0L147.6 206.0L148.0 205.0L148.5 204.2L149.1 203.7L149.8 203.3L150.8 203.0ZM150.1 203.5L150.8 203.3L151.8 203.3L152.7 203.5L153.6 203.9L154.4 204.5L155.1 205.2L156.2 207.0L156.7 209.0L156.7 210.0L156.6 210.8L156.3 211.5L155.7 212.2L155.1 212.7L154.3 213.0L153.3 213.1L152.6 213.1L151.6 212.9L150.8 212.5L149.3 211.3L148.7 210.5L148.2 209.5L147.8 208.5L147.7 207.5L147.8 206.5L148.0 205.8L148.3 205.0L148.8 204.3L149.3 203.9L150.1 203.5ZM150.4 203.8L151.1 203.6L152.1 203.6L153.6 204.2L154.8 205.4L155.8 207.0L156.2 208.8L156.2 209.8L156.0 210.5L155.6 211.2L155.1 211.7L153.8 212.4L153.1 212.5L152.1 212.4L150.6 211.8L149.3 210.8L148.4 209.2L148.0 207.5L148.1 206.5L148.3 205.8L149.1 204.5L149.8 204.0L150.4 203.8ZM150.7 204.0L152.1 204.0L152.8 204.2L153.6 204.6L154.7 205.8L155.5 207.2L155.7 208.8L155.7 209.5L155.4 210.2L155.1 210.8L154.6 211.3L153.3 211.8L151.8 211.8L151.1 211.6L150.3 211.2L149.3 210.2L148.5 208.8L148.3 207.2L148.6 205.8L149.3 204.7L150.0 204.2L150.7 204.0ZM151.3 204.2L152.3 204.4L153.6 205.0L154.6 206.2L155.2 207.5L155.3 208.8L154.9 210.0L154.1 210.8L152.8 211.3L151.6 211.2L150.3 210.7L149.3 209.6L148.7 208.2L148.7 206.8L149.2 205.5L150.1 204.6L151.3 204.2ZM150.6 204.8L151.8 204.6L152.8 204.9L153.8 205.7L154.5 206.8L154.8 208.0L154.6 209.2L154.1 210.1L153.1 210.6L151.8 210.7L150.8 210.4L149.9 209.8L149.3 208.8L149.0 207.5L149.2 206.2L149.8 205.2L150.6 204.8ZM151.6 205.0L152.6 205.2L153.3 205.8L153.9 206.5L154.3 207.5L154.3 208.5L154.0 209.2L153.3 209.9L152.3 210.2L151.3 210.1L150.3 209.6L149.7 208.8L149.4 207.8L149.4 206.8L149.8 205.8L150.6 205.2L151.6 205.0ZM151.3 205.5L151.9 205.5L152.6 205.8L153.2 206.2L153.7 207.0L153.9 207.8L153.7 208.5L153.3 209.1L152.6 209.5L151.6 209.6L150.8 209.3L150.2 208.8L149.9 208.0L149.8 207.0L150.1 206.3L150.6 205.8L151.3 205.5ZM151.0 206.2L151.6 206.1L152.1 206.1L152.9 206.8L153.2 207.2L153.2 207.8L153.1 208.2L152.6 208.8L152.1 208.9L151.6 208.9L151.1 208.8L150.6 208.3L150.4 207.8L150.4 207.2L150.6 206.6L151.0 206.2Z" fill="none" stroke="#2a2a2a" stroke-width="0.42" clip-path="url(#cp128_181)"/>
<rect x="128.10" y="181.50" width="75.30" height="74.10" fill="none" stroke="#9a9a9a" stroke-width="0.6"/>
<line x1="159.50" y1="181.50" x2="159.50" y2="255.60" stroke="#2a2a2a" stroke-width="0.8"/>
<line x1="128.10" y1="222.50" x2="203.40" y2="222.50" stroke="#2a2a2a" stroke-width="0.8"/>
<text transform="translate(129.40 189.50) scale(0.92 1)" font-size="8.2" text-anchor="start" fill="#2a2a2a" stroke="none">62.6</text>
<text transform="translate(200.00 189.50) scale(0.8462487153134635 1)" font-size="8.2" text-anchor="end" fill="#2a2a2a" stroke="none">16.4</text>
<text transform="translate(129.20 251.20) scale(0.92 1)" font-size="8.2" text-anchor="start" fill="#2a2a2a" stroke="none">2.79</text>
<text transform="translate(200.00 251.20) scale(0.8462487153134635 1)" font-size="8.2" text-anchor="end" fill="#2a2a2a" stroke="none">18.2</text>
<text x="125.10" y="191.80" font-size="6.3" text-anchor="end" fill="#2a2a2a" stroke="none">10<tspan dy="-2.4" font-size="3.7">5</tspan></text>
<text x="125.10" y="208.60" font-size="6.3" text-anchor="end" fill="#2a2a2a" stroke="none">10<tspan dy="-2.4" font-size="3.7">4</tspan></text>
<text x="125.10" y="228.90" font-size="6.3" text-anchor="end" fill="#2a2a2a" stroke="none">10<tspan dy="-2.4" font-size="3.7">3</tspan></text>
<text x="123.80" y="240.70" font-size="6.3" text-anchor="end" fill="#2a2a2a" stroke="none">0</text>
<text x="125.10" y="253.60" font-size="6.3" text-anchor="end" fill="#2a2a2a" stroke="none">-10<tspan dy="-2.4" font-size="3.7">3</tspan></text>
<text x="145.40" y="262.60" font-size="6.3" text-anchor="middle" fill="#2a2a2a" stroke="none">0</text>
<text x="169.00" y="262.60" font-size="6.3" text-anchor="middle" fill="#2a2a2a" stroke="none">10<tspan dy="-2.4" font-size="3.7">3</tspan></text>
<text x="192.90" y="262.60" font-size="6.3" text-anchor="middle" fill="#2a2a2a" stroke="none">10<tspan dy="-2.4" font-size="3.7">4</tspan></text>
<line x1="126.90" y1="182.50" x2="128.10" y2="182.50" stroke="#999" stroke-width="0.4"/>
<line x1="126.90" y1="184.10" x2="128.10" y2="184.10" stroke="#999" stroke-width="0.4"/>
<line x1="126.90" y1="185.70" x2="128.10" y2="185.70" stroke="#999" stroke-width="0.4"/>
<line x1="126.90" y1="188.90" x2="128.10" y2="188.90" stroke="#999" stroke-width="0.4"/>
<line x1="126.90" y1="192.10" x2="128.10" y2="192.10" stroke="#999" stroke-width="0.4"/>
<line x1="126.90" y1="193.70" x2="128.10" y2="193.70" stroke="#999" stroke-width="0.4"/>
<line x1="126.90" y1="196.90" x2="128.10" y2="196.90" stroke="#999" stroke-width="0.4"/>
<line x1="126.90" y1="198.50" x2="128.10" y2="198.50" stroke="#999" stroke-width="0.4"/>
<line x1="126.90" y1="200.10" x2="128.10" y2="200.10" stroke="#999" stroke-width="0.4"/>
<line x1="126.90" y1="203.30" x2="128.10" y2="203.30" stroke="#999" stroke-width="0.4"/>
<line x1="126.90" y1="206.50" x2="128.10" y2="206.50" stroke="#999" stroke-width="0.4"/>
<line x1="126.90" y1="208.10" x2="128.10" y2="208.10" stroke="#999" stroke-width="0.4"/>
<line x1="126.90" y1="211.30" x2="128.10" y2="211.30" stroke="#999" stroke-width="0.4"/>
<line x1="126.90" y1="212.90" x2="128.10" y2="212.90" stroke="#999" stroke-width="0.4"/>
<line x1="126.90" y1="214.50" x2="128.10" y2="214.50" stroke="#999" stroke-width="0.4"/>
<line x1="126.90" y1="217.70" x2="128.10" y2="217.70" stroke="#999" stroke-width="0.4"/>
<line x1="126.90" y1="220.90" x2="128.10" y2="220.90" stroke="#999" stroke-width="0.4"/>
<line x1="126.90" y1="222.50" x2="128.10" y2="222.50" stroke="#999" stroke-width="0.4"/>
<line x1="126.90" y1="225.70" x2="128.10" y2="225.70" stroke="#999" stroke-width="0.4"/>
<line x1="126.90" y1="227.30" x2="128.10" y2="227.30" stroke="#999" stroke-width="0.4"/>
<line x1="126.90" y1="228.90" x2="128.10" y2="228.90" stroke="#999" stroke-width="0.4"/>
<line x1="126.90" y1="232.10" x2="128.10" y2="232.10" stroke="#999" stroke-width="0.4"/>
<line x1="126.90" y1="235.30" x2="128.10" y2="235.30" stroke="#999" stroke-width="0.4"/>
<line x1="126.90" y1="236.90" x2="128.10" y2="236.90" stroke="#999" stroke-width="0.4"/>
<line x1="126.90" y1="240.10" x2="128.10" y2="240.10" stroke="#999" stroke-width="0.4"/>
<line x1="126.90" y1="241.70" x2="128.10" y2="241.70" stroke="#999" stroke-width="0.4"/>
<line x1="126.90" y1="243.30" x2="128.10" y2="243.30" stroke="#999" stroke-width="0.4"/>
<line x1="126.90" y1="246.50" x2="128.10" y2="246.50" stroke="#999" stroke-width="0.4"/>
<line x1="126.90" y1="249.70" x2="128.10" y2="249.70" stroke="#999" stroke-width="0.4"/>
<line x1="126.90" y1="251.30" x2="128.10" y2="251.30" stroke="#999" stroke-width="0.4"/>
<line x1="126.90" y1="254.50" x2="128.10" y2="254.50" stroke="#999" stroke-width="0.4"/>
<line x1="129.10" y1="255.60" x2="129.10" y2="256.80" stroke="#999" stroke-width="0.4"/>
<line x1="130.70" y1="255.60" x2="130.70" y2="256.80" stroke="#999" stroke-width="0.4"/>
<line x1="132.30" y1="255.60" x2="132.30" y2="256.80" stroke="#999" stroke-width="0.4"/>
<line x1="135.50" y1="255.60" x2="135.50" y2="256.80" stroke="#999" stroke-width="0.4"/>
<line x1="138.70" y1="255.60" x2="138.70" y2="256.80" stroke="#999" stroke-width="0.4"/>
<line x1="140.30" y1="255.60" x2="140.30" y2="256.80" stroke="#999" stroke-width="0.4"/>
<line x1="143.50" y1="255.60" x2="143.50" y2="256.80" stroke="#999" stroke-width="0.4"/>
<line x1="145.10" y1="255.60" x2="145.10" y2="256.80" stroke="#999" stroke-width="0.4"/>
<line x1="146.70" y1="255.60" x2="146.70" y2="256.80" stroke="#999" stroke-width="0.4"/>
<line x1="149.90" y1="255.60" x2="149.90" y2="256.80" stroke="#999" stroke-width="0.4"/>
<line x1="153.10" y1="255.60" x2="153.10" y2="256.80" stroke="#999" stroke-width="0.4"/>
<line x1="154.70" y1="255.60" x2="154.70" y2="256.80" stroke="#999" stroke-width="0.4"/>
<line x1="157.90" y1="255.60" x2="157.90" y2="256.80" stroke="#999" stroke-width="0.4"/>
<line x1="159.50" y1="255.60" x2="159.50" y2="256.80" stroke="#999" stroke-width="0.4"/>
<line x1="161.10" y1="255.60" x2="161.10" y2="256.80" stroke="#999" stroke-width="0.4"/>
<line x1="164.30" y1="255.60" x2="164.30" y2="256.80" stroke="#999" stroke-width="0.4"/>
<line x1="167.50" y1="255.60" x2="167.50" y2="256.80" stroke="#999" stroke-width="0.4"/>
<line x1="169.10" y1="255.60" x2="169.10" y2="256.80" stroke="#999" stroke-width="0.4"/>
<line x1="172.30" y1="255.60" x2="172.30" y2="256.80" stroke="#999" stroke-width="0.4"/>
<line x1="173.90" y1="255.60" x2="173.90" y2="256.80" stroke="#999" stroke-width="0.4"/>
<line x1="175.50" y1="255.60" x2="175.50" y2="256.80" stroke="#999" stroke-width="0.4"/>
<line x1="178.70" y1="255.60" x2="178.70" y2="256.80" stroke="#999" stroke-width="0.4"/>
<line x1="181.90" y1="255.60" x2="181.90" y2="256.80" stroke="#999" stroke-width="0.4"/>
<line x1="183.50" y1="255.60" x2="183.50" y2="256.80" stroke="#999" stroke-width="0.4"/>
<line x1="186.70" y1="255.60" x2="186.70" y2="256.80" stroke="#999" stroke-width="0.4"/>
<line x1="188.30" y1="255.60" x2="188.30" y2="256.80" stroke="#999" stroke-width="0.4"/>
<line x1="189.90" y1="255.60" x2="189.90" y2="256.80" stroke="#999" stroke-width="0.4"/>
<line x1="193.10" y1="255.60" x2="193.10" y2="256.80" stroke="#999" stroke-width="0.4"/>
<line x1="196.30" y1="255.60" x2="196.30" y2="256.80" stroke="#999" stroke-width="0.4"/>
<line x1="197.90" y1="255.60" x2="197.90" y2="256.80" stroke="#999" stroke-width="0.4"/>
<line x1="201.10" y1="255.60" x2="201.10" y2="256.80" stroke="#999" stroke-width="0.4"/>
<line x1="202.70" y1="255.60" x2="202.70" y2="256.80" stroke="#999" stroke-width="0.4"/>
<clipPath id="cp220_181"><rect x="220.1" y="181.5" width="74.29999999999998" height="74.1"/></clipPath>
<path d="M241.2 196.5L242.6 196.4L243.8 196.5L245.4 196.8L246.6 197.3L248.9 198.6L254.3 202.4L256.4 204.0L258.2 206.0L259.8 208.2L261.0 210.8L261.8 213.5L262.2 216.5L262.1 219.2L261.4 222.0L260.8 223.5L259.9 225.0L258.9 226.6L257.6 228.1L256.9 228.8L256.1 229.1L254.3 229.3L251.1 229.0L248.3 228.4L245.8 227.3L243.6 225.8L241.1 223.5L237.8 219.4L235.7 216.2L234.5 213.8L233.7 211.0L233.3 208.0L233.5 205.2L234.2 202.8L234.8 201.5L235.5 200.2L237.1 198.5L238.1 197.7L239.1 197.1L241.2 196.5ZM257.0 230.8L258.1 230.5L259.4 230.7L260.9 231.2L262.4 231.9L263.6 232.9L264.6 233.8L265.5 235.0L266.3 236.5L266.7 238.0L267.0 239.5L266.9 241.0L266.6 242.5L266.1 243.8L265.4 245.0L264.4 245.9L263.4 246.6L262.1 247.0L260.9 247.1L259.6 246.9L258.4 246.5L257.1 245.7L256.1 244.7L255.2 243.5L254.4 242.0L254.0 240.5L253.8 239.0L253.8 237.5L254.0 236.0L254.6 234.2L255.4 232.6L256.1 231.5L257.0 230.8ZM241.1 197.8L242.9 197.6L244.6 197.9L246.4 198.6L248.1 199.8L249.5 201.0L255.8 207.0L257.3 209.0L258.5 211.2L259.3 213.8L259.6 216.2L259.5 218.5L258.9 220.7L257.8 222.7L256.4 224.2L254.6 225.3L252.8 225.9L250.8 225.9L248.8 225.6L246.8 224.8L245.1 223.7L242.9 221.9L238.3 217.6L236.7 215.5L235.5 213.2L234.7 210.8L234.3 208.2L234.5 205.8L235.0 203.5L236.0 201.5L237.4 199.8L239.1 198.5L240.1 198.0L241.1 197.8ZM259.0 234.0L259.9 233.9L260.6 234.0L261.6 234.3L262.4 234.8L263.1 235.4L263.8 236.3L264.4 237.2L264.7 238.2L264.9 240.2L264.8 241.2L264.4 242.2L264.0 243.0L263.4 243.7L262.6 244.2L261.9 244.5L261.1 244.7L260.1 244.6L259.1 244.3L258.4 243.9L257.6 243.2L257.0 242.5L256.4 241.5L256.1 240.5L255.9 239.5L255.9 238.2L256.0 237.2L256.4 236.4L256.9 235.5L257.5 234.8L258.3 234.2L259.0 234.0ZM241.5 198.5L243.1 198.5L244.8 198.9L246.4 199.6L248.1 200.9L249.7 202.5L255.0 209.0L256.0 210.5L256.9 212.2L257.4 214.2L257.6 216.2L257.4 218.2L256.8 220.0L255.9 221.4L254.6 222.6L253.1 223.3L251.3 223.7L249.3 223.5L247.3 222.8L245.6 221.8L240.6 218.3L239.1 217.1L237.7 215.5L236.7 214.0L235.8 212.2L235.2 210.0L235.0 207.8L235.2 205.5L235.8 203.5L236.7 201.8L238.1 200.1L239.6 199.1L241.5 198.5ZM259.7 236.2L260.9 236.3L261.9 236.9L262.6 237.9L263.0 239.0L263.0 240.2L262.6 241.4L261.9 242.1L260.9 242.5L259.9 242.4L258.9 241.8L258.1 240.8L257.8 239.8L257.8 238.5L258.1 237.5L258.9 236.6L259.7 236.2ZM241.0 199.2L242.6 199.1L244.3 199.4L246.1 200.2L247.6 201.3L248.7 202.5L250.0 204.2L254.2 210.8L254.9 212.2L255.5 214.0L255.7 215.8L255.6 217.3L255.1 218.8L254.2 220.0L253.1 220.9L251.8 221.4L250.3 221.5L249.1 221.4L247.6 220.8L242.8 218.6L240.8 217.5L239.3 216.4L238.3 215.2L237.2 213.8L236.4 212.2L235.8 210.2L235.5 208.2L235.6 206.2L236.0 204.2L236.9 202.5L238.0 201.0L239.3 199.9L241.0 199.2ZM241.2 199.8L242.8 199.6L244.6 200.0L246.3 200.9L247.8 202.2L249.0 203.8L250.2 205.8L252.9 212.2L253.4 213.8L253.6 215.2L253.4 216.5L252.8 217.7L252.1 218.5L251.1 219.0L249.8 219.2L248.4 219.1L243.8 218.1L242.1 217.4L240.6 216.6L239.4 215.6L238.3 214.5L237.3 213.0L236.6 211.5L236.1 209.8L235.9 207.8L236.1 205.7L236.6 204.0L237.4 202.5L238.5 201.2L239.8 200.3L241.2 199.8ZM241.2 200.2L242.6 200.1L244.1 200.3L245.4 200.9L246.6 201.8L247.8 203.0L248.9 204.5L249.8 206.3L250.5 208.2L251.0 210.2L251.3 212.2L251.2 213.8L250.8 215.1L250.3 216.0L249.3 216.8L248.1 217.3L246.3 217.5L244.6 217.4L243.1 217.1L241.6 216.5L240.3 215.8L239.1 214.7L238.1 213.5L237.4 212.3L236.8 210.8L236.4 209.2L236.3 207.5L236.5 205.8L237.0 204.2L237.8 202.8L238.6 201.7L239.8 200.8L241.2 200.2ZM241.0 200.8L242.3 200.5L243.6 200.7L244.9 201.1L246.1 201.9L247.3 203.0L248.2 204.2L249.0 205.8L249.6 207.2L250.0 209.0L250.2 210.8L250.1 212.2L249.8 213.5L249.1 214.8L248.3 215.6L247.3 216.2L246.1 216.6L244.8 216.7L243.3 216.6L241.8 216.1L240.6 215.4L239.6 214.6L238.6 213.5L237.8 212.2L237.2 210.8L236.8 209.2L236.7 207.5L236.8 206.0L237.3 204.5L237.9 203.2L238.8 202.1L239.8 201.3L241.0 200.8ZM241.8 201.0L243.1 201.0L244.3 201.3L245.6 202.0L246.5 202.8L247.6 204.0L248.3 205.2L249.0 206.8L249.4 208.2L249.6 209.8L249.5 211.2L249.2 212.5L248.7 213.8L247.9 214.8L247.1 215.4L246.1 215.8L244.8 216.1L243.6 216.1L242.1 215.7L240.8 215.1L239.8 214.3L238.9 213.2L238.2 212.2L237.6 211.0L237.2 209.5L237.0 208.0L237.1 206.8L237.4 205.3L237.9 204.0L238.6 202.9L239.6 201.9L240.6 201.3L241.8 201.0ZM241.4 201.5L242.4 201.3L243.6 201.5L244.8 202.0L245.9 202.6L246.9 203.6L247.7 204.8L248.3 206.0L248.8 207.5L249.0 209.0L249.1 210.2L248.9 211.5L248.5 212.8L247.8 213.8L247.1 214.5L246.1 215.2L244.8 215.5L243.8 215.6L242.6 215.4L241.3 214.9L240.3 214.2L239.3 213.3L238.6 212.2L238.0 211.0L237.6 209.8L237.4 208.5L237.4 207.0L237.6 205.8L238.0 204.5L238.6 203.5L239.3 202.6L240.3 201.9L241.4 201.5ZM242.2 201.8L243.3 201.8L244.3 202.1L245.3 202.7L246.3 203.5L247.1 204.5L247.8 205.8L248.3 207.0L248.5 208.2L248.6 209.5L248.5 210.8L248.2 212.0L247.7 213.0L247.1 213.8L246.4 214.4L245.3 214.9L244.4 215.1L243.3 215.1L242.1 214.8L241.1 214.3L240.1 213.5L239.2 212.5L238.5 211.5L238.0 210.2L237.7 209.0L237.6 207.5L237.8 206.2L238.2 205.0L238.7 204.0L239.5 203.0L240.3 202.3L241.3 201.9L242.2 201.8ZM241.6 202.2L242.6 202.1L243.6 202.3L244.6 202.7L245.4 203.1L246.3 204.0L247.0 205.0L247.5 206.0L248.0 207.2L248.2 208.5L248.2 209.8L248.0 211.0L247.7 212.0L247.2 212.8L246.6 213.5L245.8 214.1L244.8 214.5L243.9 214.6L242.8 214.6L241.9 214.2L240.8 213.7L240.0 213.0L239.2 212.0L238.7 211.0L238.2 209.8L238.0 208.5L238.0 207.2L238.2 206.0L238.5 205.0L239.1 204.0L239.8 203.2L240.6 202.6L241.6 202.2ZM241.3 202.8L242.1 202.5L243.1 202.5L244.1 202.8L244.8 203.2L245.6 203.8L246.4 204.8L247.0 205.7L247.4 206.8L247.7 207.8L247.8 209.0L247.8 210.2L247.5 211.2L247.0 212.2L246.4 213.0L245.6 213.7L244.8 214.0L243.8 214.2L242.9 214.1L241.8 213.8L241.1 213.4L240.3 212.8L239.6 212.0L239.0 211.0L238.6 210.0L238.3 208.9L238.3 207.8L238.4 206.5L238.7 205.5L239.2 204.5L239.8 203.8L240.3 203.2L241.3 202.8ZM241.8 203.0L242.6 202.9L243.4 203.0L244.4 203.3L245.1 203.8L245.8 204.6L246.5 205.5L247.0 206.5L247.3 207.5L247.5 208.8L247.4 209.8L247.2 210.8L246.9 211.7L246.3 212.5L245.6 213.1L244.9 213.5L244.1 213.7L243.3 213.8L242.3 213.6L241.6 213.3L240.8 212.8L240.1 212.1L239.5 211.2L239.0 210.2L238.7 209.2L238.6 207.2L238.8 206.2L239.2 205.2L239.6 204.5L240.3 203.8L241.1 203.2L241.8 203.0ZM241.5 203.5L242.3 203.3L243.1 203.3L243.8 203.5L244.6 203.9L245.3 204.5L245.9 205.2L246.8 207.0L247.1 209.0L246.8 210.8L246.5 211.5L245.9 212.2L245.3 212.7L244.6 213.1L243.9 213.3L242.9 213.3L242.1 213.1L241.3 212.7L240.1 211.5L239.6 210.7L239.2 209.8L239.0 208.8L238.9 207.8L239.2 206.0L239.6 205.2L240.1 204.5L240.8 203.8L241.5 203.5ZM242.5 203.8L243.9 204.0L244.6 204.4L245.3 205.0L246.2 206.5L246.7 208.2L246.6 210.0L246.0 211.5L245.5 212.0L244.9 212.5L243.6 212.9L242.9 212.9L242.1 212.6L240.8 211.8L240.2 211.0L239.8 210.2L239.3 208.5L239.4 206.8L240.0 205.2L240.6 204.6L241.1 204.2L241.9 203.9L242.5 203.8ZM242.3 204.2L242.8 204.2L243.6 204.4L244.7 205.0L245.7 206.2L246.2 207.8L246.3 209.2L245.9 210.8L245.1 211.8L244.1 212.3L243.3 212.4L242.6 212.3L241.3 211.7L240.3 210.5L239.8 209.0L239.7 207.5L240.1 206.0L240.6 205.2L241.1 204.8L242.3 204.2ZM241.7 205.0L242.8 204.8L243.9 205.0L244.8 205.8L245.6 207.0L245.9 208.5L245.8 209.8L245.2 211.0L244.2 211.8L243.1 211.9L241.9 211.5L241.0 210.8L240.3 209.5L240.1 208.0L240.3 206.8L240.8 205.7L241.7 205.0ZM242.2 205.5L243.1 205.4L244.1 205.8L244.8 206.6L245.3 207.8L245.4 209.0L245.2 210.0L244.6 210.8L243.8 211.2L242.8 211.3L242.1 211.0L241.3 210.2L240.8 209.2L240.6 208.0L240.8 207.0L241.3 206.1L242.2 205.5ZM242.2 206.5L242.8 206.3L243.6 206.4L244.3 207.0L244.7 207.8L244.8 208.8L244.7 209.5L244.3 210.0L243.7 210.5L243.1 210.6L242.3 210.3L241.8 209.8L241.5 209.2L241.3 208.5L241.4 207.8L241.7 207.0L242.2 206.5Z" fill="none" stroke="#2a2a2a" stroke-width="0.42" clip-path="url(#cp220_181)"/>
<rect x="220.10" y="181.50" width="74.30" height="74.10" fill="none" stroke="#9a9a9a" stroke-width="0.6"/>
<line x1="251.50" y1="181.50" x2="251.50" y2="255.60" stroke="#2a2a2a" stroke-width="0.8"/>
<line x1="220.10" y1="223.50" x2="294.40" y2="223.50" stroke="#2a2a2a" stroke-width="0.8"/>
<text transform="translate(221.40 189.50) scale(0.92 1)" font-size="8.2" text-anchor="start" fill="#2a2a2a" stroke="none">76.4</text>
<text transform="translate(291.00 189.50) scale(0.92 1)" font-size="8.2" text-anchor="end" fill="#2a2a2a" stroke="none">8.99</text>
<text transform="translate(221.20 251.20) scale(0.92 1)" font-size="8.2" text-anchor="start" fill="#2a2a2a" stroke="none">5.38</text>
<text transform="translate(291.00 251.20) scale(0.8462487153134635 1)" font-size="8.2" text-anchor="end" fill="#2a2a2a" stroke="none">9.21</text>
<text x="217.10" y="191.80" font-size="6.3" text-anchor="end" fill="#2a2a2a" stroke="none">10<tspan dy="-2.4" font-size="3.7">5</tspan></text>
<text x="217.10" y="208.60" font-size="6.3" text-anchor="end" fill="#2a2a2a" stroke="none">10<tspan dy="-2.4" font-size="3.7">4</tspan></text>
<text x="217.10" y="228.90" font-size="6.3" text-anchor="end" fill="#2a2a2a" stroke="none">10<tspan dy="-2.4" font-size="3.7">3</tspan></text>
<text x="215.80" y="240.70" font-size="6.3" text-anchor="end" fill="#2a2a2a" stroke="none">0</text>
<text x="217.10" y="253.60" font-size="6.3" text-anchor="end" fill="#2a2a2a" stroke="none">-10<tspan dy="-2.4" font-size="3.7">3</tspan></text>
<text x="237.10" y="262.60" font-size="6.3" text-anchor="middle" fill="#2a2a2a" stroke="none">0</text>
<text x="260.60" y="262.60" font-size="6.3" text-anchor="middle" fill="#2a2a2a" stroke="none">10<tspan dy="-2.4" font-size="3.7">3</tspan></text>
<text x="284.50" y="262.60" font-size="6.3" text-anchor="middle" fill="#2a2a2a" stroke="none">10<tspan dy="-2.4" font-size="3.7">4</tspan></text>
<line x1="218.90" y1="182.50" x2="220.10" y2="182.50" stroke="#999" stroke-width="0.4"/>
<line x1="218.90" y1="184.10" x2="220.10" y2="184.10" stroke="#999" stroke-width="0.4"/>
<line x1="218.90" y1="185.70" x2="220.10" y2="185.70" stroke="#999" stroke-width="0.4"/>
<line x1="218.90" y1="188.90" x2="220.10" y2="188.90" stroke="#999" stroke-width="0.4"/>
<line x1="218.90" y1="192.10" x2="220.10" y2="192.10" stroke="#999" stroke-width="0.4"/>
<line x1="218.90" y1="193.70" x2="220.10" y2="193.70" stroke="#999" stroke-width="0.4"/>
<line x1="218.90" y1="196.90" x2="220.10" y2="196.90" stroke="#999" stroke-width="0.4"/>
<line x1="218.90" y1="198.50" x2="220.10" y2="198.50" stroke="#999" stroke-width="0.4"/>
<line x1="218.90" y1="200.10" x2="220.10" y2="200.10" stroke="#999" stroke-width="0.4"/>
<line x1="218.90" y1="203.30" x2="220.10" y2="203.30" stroke="#999" stroke-width="0.4"/>
<line x1="218.90" y1="206.50" x2="220.10" y2="206.50" stroke="#999" stroke-width="0.4"/>
<line x1="218.90" y1="208.10" x2="220.10" y2="208.10" stroke="#999" stroke-width="0.4"/>
<line x1="218.90" y1="211.30" x2="220.10" y2="211.30" stroke="#999" stroke-width="0.4"/>
<line x1="218.90" y1="212.90" x2="220.10" y2="212.90" stroke="#999" stroke-width="0.4"/>
<line x1="218.90" y1="214.50" x2="220.10" y2="214.50" stroke="#999" stroke-width="0.4"/>
<line x1="218.90" y1="217.70" x2="220.10" y2="217.70" stroke="#999" stroke-width="0.4"/>
<line x1="218.90" y1="220.90" x2="220.10" y2="220.90" stroke="#999" stroke-width="0.4"/>
<line x1="218.90" y1="222.50" x2="220.10" y2="222.50" stroke="#999" stroke-width="0.4"/>
<line x1="218.90" y1="225.70" x2="220.10" y2="225.70" stroke="#999" stroke-width="0.4"/>
<line x1="218.90" y1="227.30" x2="220.10" y2="227.30" stroke="#999" stroke-width="0.4"/>
<line x1="218.90" y1="228.90" x2="220.10" y2="228.90" stroke="#999" stroke-width="0.4"/>
<line x1="218.90" y1="232.10" x2="220.10" y2="232.10" stroke="#999" stroke-width="0.4"/>
<line x1="218.90" y1="235.30" x2="220.10" y2="235.30" stroke="#999" stroke-width="0.4"/>
<line x1="218.90" y1="236.90" x2="220.10" y2="236.90" stroke="#999" stroke-width="0.4"/>
<line x1="218.90" y1="240.10" x2="220.10" y2="240.10" stroke="#999" stroke-width="0.4"/>
<line x1="218.90" y1="241.70" x2="220.10" y2="241.70" stroke="#999" stroke-width="0.4"/>
<line x1="218.90" y1="243.30" x2="220.10" y2="243.30" stroke="#999" stroke-width="0.4"/>
<line x1="218.90" y1="246.50" x2="220.10" y2="246.50" stroke="#999" stroke-width="0.4"/>
<line x1="218.90" y1="249.70" x2="220.10" y2="249.70" stroke="#999" stroke-width="0.4"/>
<line x1="218.90" y1="251.30" x2="220.10" y2="251.30" stroke="#999" stroke-width="0.4"/>
<line x1="218.90" y1="254.50" x2="220.10" y2="254.50" stroke="#999" stroke-width="0.4"/>
<line x1="221.10" y1="255.60" x2="221.10" y2="256.80" stroke="#999" stroke-width="0.4"/>
<line x1="222.70" y1="255.60" x2="222.70" y2="256.80" stroke="#999" stroke-width="0.4"/>
<line x1="224.30" y1="255.60" x2="224.30" y2="256.80" stroke="#999" stroke-width="0.4"/>
<line x1="227.50" y1="255.60" x2="227.50" y2="256.80" stroke="#999" stroke-width="0.4"/>
<line x1="230.70" y1="255.60" x2="230.70" y2="256.80" stroke="#999" stroke-width="0.4"/>
<line x1="232.30" y1="255.60" x2="232.30" y2="256.80" stroke="#999" stroke-width="0.4"/>
<line x1="235.50" y1="255.60" x2="235.50" y2="256.80" stroke="#999" stroke-width="0.4"/>
<line x1="237.10" y1="255.60" x2="237.10" y2="256.80" stroke="#999" stroke-width="0.4"/>
<line x1="238.70" y1="255.60" x2="238.70" y2="256.80" stroke="#999" stroke-width="0.4"/>
<line x1="241.90" y1="255.60" x2="241.90" y2="256.80" stroke="#999" stroke-width="0.4"/>
<line x1="245.10" y1="255.60" x2="245.10" y2="256.80" stroke="#999" stroke-width="0.4"/>
<line x1="246.70" y1="255.60" x2="246.70" y2="256.80" stroke="#999" stroke-width="0.4"/>
<line x1="249.90" y1="255.60" x2="249.90" y2="256.80" stroke="#999" stroke-width="0.4"/>
<line x1="251.50" y1="255.60" x2="251.50" y2="256.80" stroke="#999" stroke-width="0.4"/>
<line x1="253.10" y1="255.60" x2="253.10" y2="256.80" stroke="#999" stroke-width="0.4"/>
<line x1="256.30" y1="255.60" x2="256.30" y2="256.80" stroke="#999" stroke-width="0.4"/>
<line x1="259.50" y1="255.60" x2="259.50" y2="256.80" stroke="#999" stroke-width="0.4"/>
<line x1="261.10" y1="255.60" x2="261.10" y2="256.80" stroke="#999" stroke-width="0.4"/>
<line x1="264.30" y1="255.60" x2="264.30" y2="256.80" stroke="#999" stroke-width="0.4"/>
<line x1="265.90" y1="255.60" x2="265.90" y2="256.80" stroke="#999" stroke-width="0.4"/>
<line x1="267.50" y1="255.60" x2="267.50" y2="256.80" stroke="#999" stroke-width="0.4"/>
<line x1="270.70" y1="255.60" x2="270.70" y2="256.80" stroke="#999" stroke-width="0.4"/>
<line x1="273.90" y1="255.60" x2="273.90" y2="256.80" stroke="#999" stroke-width="0.4"/>
<line x1="275.50" y1="255.60" x2="275.50" y2="256.80" stroke="#999" stroke-width="0.4"/>
<line x1="278.70" y1="255.60" x2="278.70" y2="256.80" stroke="#999" stroke-width="0.4"/>
<line x1="280.30" y1="255.60" x2="280.30" y2="256.80" stroke="#999" stroke-width="0.4"/>
<line x1="281.90" y1="255.60" x2="281.90" y2="256.80" stroke="#999" stroke-width="0.4"/>
<line x1="285.10" y1="255.60" x2="285.10" y2="256.80" stroke="#999" stroke-width="0.4"/>
<line x1="288.30" y1="255.60" x2="288.30" y2="256.80" stroke="#999" stroke-width="0.4"/>
<line x1="289.90" y1="255.60" x2="289.90" y2="256.80" stroke="#999" stroke-width="0.4"/>
<line x1="293.10" y1="255.60" x2="293.10" y2="256.80" stroke="#999" stroke-width="0.4"/>
<clipPath id="cp36_272"><rect x="36.7" y="272.2" width="74.1" height="73.80000000000001"/></clipPath>
<path d="M83.2 291.4L84.7 291.3L86.2 291.5L87.7 292.3L88.9 293.2L89.8 294.4L90.6 295.9L91.2 297.9L91.5 299.9L91.4 302.2L91.1 304.2L90.5 306.4L89.8 308.4L88.3 311.4L87.3 312.9L85.1 315.7L84.6 316.9L84.6 318.2L86.3 322.4L86.7 324.0L86.9 325.4L86.9 327.2L86.7 328.9L86.2 330.7L85.6 332.2L84.6 333.7L83.5 334.9L82.2 335.7L80.7 336.3L79.2 336.5L77.7 336.4L76.5 336.0L74.0 335.0L73.0 334.8L71.7 335.3L69.2 337.1L68.0 337.9L66.7 338.5L65.5 338.9L63.7 339.2L62.2 339.3L60.4 339.1L58.7 338.6L57.0 337.8L55.2 336.6L53.9 335.2L53.0 333.7L52.4 331.9L52.2 330.2L52.4 328.4L53.1 326.7L53.8 325.4L54.9 324.2L59.1 320.7L60.1 319.4L60.5 318.0L60.6 314.2L60.8 312.4L61.2 311.2L61.7 310.5L62.0 310.5L62.2 310.6L62.7 311.4L63.1 312.7L63.6 315.7L63.8 316.2L64.2 316.6L64.7 316.7L67.5 316.2L72.0 315.9L73.2 315.6L74.2 314.9L74.7 314.2L74.8 313.2L74.2 308.4L74.2 305.4L74.6 302.4L75.5 299.4L77.0 296.4L78.7 294.2L79.7 293.2L81.0 292.3L82.0 291.8L83.2 291.4ZM83.0 292.7L84.5 292.5L85.7 292.7L87.0 293.2L88.2 294.1L89.1 295.2L89.9 296.7L90.4 298.2L90.6 300.2L90.5 302.2L90.1 304.5L89.3 306.9L88.4 309.2L87.5 310.8L86.4 312.2L85.0 313.7L82.4 315.9L82.1 316.4L81.9 316.9L82.1 317.9L84.2 321.7L85.0 324.2L85.2 325.7L85.2 327.2L85.0 328.7L84.5 330.2L83.9 331.5L83.0 332.6L82.0 333.5L81.0 334.0L79.7 334.3L78.2 334.3L76.7 333.9L74.0 332.7L73.2 332.6L72.7 332.6L71.7 333.1L69.2 335.6L67.7 336.8L66.0 337.7L64.0 338.2L61.5 338.3L59.2 337.8L57.2 336.9L55.4 335.4L54.1 333.7L53.3 331.7L53.2 329.7L53.8 327.7L54.6 326.2L55.7 324.9L57.2 323.7L60.6 321.4L62.5 319.5L67.2 318.2L72.0 318.0L73.7 317.7L75.7 317.1L76.9 316.2L77.2 315.7L77.2 314.9L75.8 310.7L75.2 307.7L75.3 304.9L75.8 301.9L76.9 298.7L77.5 297.4L78.5 295.9L79.6 294.7L80.7 293.8L82.0 293.1L83.0 292.7ZM83.1 293.4L84.5 293.3L85.7 293.5L87.0 294.0L88.0 294.9L88.9 296.2L89.6 297.7L89.9 299.2L90.0 300.9L89.8 302.9L89.3 304.9L88.6 306.9L87.7 308.9L86.5 310.7L85.5 312.0L84.2 313.1L82.7 314.0L81.5 314.5L80.2 314.6L79.2 314.2L78.2 313.3L77.2 311.7L76.5 309.9L76.1 307.9L76.0 306.0L76.1 303.9L76.6 301.7L77.3 299.4L78.2 297.7L79.2 296.1L80.5 294.9L81.7 294.0L83.1 293.4ZM76.6 318.7L78.5 318.5L79.2 318.6L80.0 318.9L81.0 319.6L81.7 320.4L82.9 322.2L83.7 324.2L83.9 326.4L83.6 328.7L82.7 330.6L82.0 331.5L81.0 332.2L80.0 332.6L79.0 332.7L78.0 332.6L77.0 332.4L73.7 330.8L73.0 330.7L72.5 330.8L71.5 331.6L69.2 334.4L67.6 335.9L66.7 336.5L65.5 337.1L63.2 337.6L61.0 337.6L58.7 337.0L56.7 335.8L55.3 334.4L54.3 332.7L54.0 331.7L53.9 330.7L53.9 329.7L54.1 328.7L54.5 327.7L55.1 326.7L56.2 325.4L58.0 324.1L62.5 321.6L65.7 320.1L68.0 319.6L73.0 319.5L76.6 318.7ZM83.6 293.9L84.7 293.9L86.0 294.2L87.0 294.7L88.0 295.7L88.8 296.9L89.2 298.2L89.5 299.7L89.5 301.4L89.3 303.2L88.8 304.9L88.0 306.9L86.9 308.9L86.0 310.4L84.9 311.4L83.7 312.4L82.5 313.0L81.2 313.3L80.2 313.2L79.2 312.6L78.2 311.6L77.5 310.3L76.9 308.7L76.6 306.9L76.6 304.9L76.9 302.9L77.3 300.9L78.1 298.9L78.9 297.4L79.8 296.2L81.0 295.1L82.2 294.4L83.6 293.9ZM77.0 320.2L78.5 320.2L79.9 320.8L81.2 321.9L82.2 323.4L82.7 325.2L82.7 326.9L82.2 328.7L81.5 329.9L80.7 330.6L80.0 330.9L79.2 331.2L78.5 331.2L77.7 331.1L76.7 330.7L73.7 329.1L73.0 328.9L72.2 329.0L71.7 329.4L71.2 329.9L69.1 333.4L67.6 335.2L66.5 336.0L65.2 336.6L64.0 337.0L62.7 337.2L60.5 337.0L58.5 336.4L56.7 335.2L55.4 333.7L54.6 331.9L54.4 330.9L54.4 329.9L54.9 328.2L56.0 326.5L57.5 325.1L59.2 324.1L62.2 322.8L65.7 321.5L67.0 321.2L68.2 321.0L72.7 321.1L77.0 320.2ZM83.6 294.4L84.7 294.4L86.0 294.7L87.0 295.3L87.8 296.2L88.4 297.2L88.9 298.4L89.1 299.9L89.1 301.4L88.9 303.2L88.4 304.9L87.6 306.7L86.7 308.3L85.7 309.7L84.7 310.8L83.7 311.5L82.4 312.1L81.2 312.3L80.2 312.1L79.2 311.4L78.5 310.7L77.9 309.4L77.4 307.9L77.2 306.4L77.2 304.7L77.4 302.9L77.8 300.9L78.5 299.2L79.2 297.7L80.2 296.4L81.2 295.5L82.5 294.8L83.6 294.4ZM76.0 321.9L77.5 321.8L78.7 322.0L79.7 322.5L80.6 323.4L81.2 324.7L81.4 326.2L81.2 327.4L80.5 328.7L80.0 329.1L79.2 329.5L78.5 329.6L77.7 329.5L76.2 328.8L73.2 326.7L72.5 326.5L72.0 326.6L71.5 327.0L71.0 327.7L69.3 331.9L68.6 333.2L67.7 334.3L66.5 335.4L65.2 336.1L64.0 336.5L62.5 336.8L60.5 336.6L58.5 335.9L56.7 334.7L55.6 333.2L54.9 331.4L54.9 329.7L55.4 328.2L56.5 326.6L57.7 325.5L59.2 324.7L61.5 323.7L64.0 323.0L66.0 322.6L67.7 322.5L69.2 322.7L71.5 323.2L72.2 323.3L73.0 323.1L76.0 321.9ZM83.3 294.9L84.5 294.8L85.5 295.0L86.5 295.5L87.3 296.2L87.9 297.2L88.4 298.2L88.7 299.4L88.8 300.9L88.7 302.4L88.3 303.9L87.7 305.4L87.0 307.0L86.0 308.5L85.0 309.7L84.0 310.5L83.0 311.1L82.0 311.4L81.0 311.3L79.9 310.9L79.1 310.2L78.5 309.2L78.0 307.9L77.7 306.4L77.7 304.7L77.8 302.9L78.2 301.2L78.7 299.7L79.4 298.2L80.3 296.9L81.2 296.0L82.2 295.4L83.3 294.9ZM64.6 323.7L66.2 323.7L67.5 323.9L68.6 324.4L69.2 325.2L69.6 326.2L69.6 327.4L69.5 329.2L69.0 330.9L68.5 332.2L67.8 333.4L66.9 334.4L65.7 335.4L64.5 336.0L63.2 336.3L61.7 336.4L60.5 336.2L59.2 335.9L58.0 335.2L57.0 334.4L56.1 333.4L55.6 332.4L55.3 331.2L55.3 330.0L55.5 328.9L56.0 327.9L56.7 326.9L57.5 326.2L58.5 325.5L60.0 324.8L61.5 324.3L64.6 323.7ZM76.9 324.2L77.5 324.1L77.9 324.2L78.5 324.5L78.8 324.9L78.9 325.5L78.9 325.9L78.8 326.4L78.5 326.8L78.0 326.9L77.5 326.9L76.7 326.5L76.3 325.9L76.1 325.4L76.1 324.9L76.5 324.5L76.9 324.2ZM83.0 295.4L84.2 295.2L85.2 295.4L86.2 295.8L87.0 296.4L87.6 297.2L88.1 298.2L88.4 299.4L88.5 300.7L88.4 302.2L88.1 303.4L87.7 304.7L86.9 306.1L86.2 307.3L85.2 308.6L84.2 309.5L83.2 310.1L82.2 310.5L81.2 310.5L80.5 310.2L79.7 309.6L79.0 308.7L78.6 307.7L78.3 306.4L78.2 304.9L78.2 303.2L78.5 301.7L78.9 300.2L79.4 298.9L80.1 297.7L81.0 296.7L82.0 295.9L83.0 295.4ZM63.5 324.4L65.0 324.4L66.2 324.6L67.2 325.1L67.9 325.7L68.5 326.6L68.7 327.7L68.8 328.9L68.6 330.4L68.2 331.7L67.6 332.9L66.8 333.9L66.0 334.7L65.0 335.3L63.7 335.8L62.5 336.0L61.0 336.0L59.7 335.7L58.7 335.3L57.7 334.6L56.7 333.7L56.1 332.7L55.7 331.7L55.6 330.4L55.7 329.4L56.1 328.4L56.5 327.7L57.2 326.9L58.2 326.1L59.2 325.6L60.7 325.0L63.5 324.4ZM83.5 295.7L84.5 295.6L85.5 295.8L86.2 296.3L87.0 296.9L87.5 297.7L87.9 298.7L88.1 299.7L88.2 300.9L88.1 302.2L87.8 303.4L86.7 305.8L86.0 306.9L85.0 308.1L84.0 308.9L83.2 309.3L82.2 309.6L81.4 309.6L80.7 309.3L80.0 308.7L79.4 307.9L79.0 306.8L78.7 305.4L78.6 303.9L78.7 302.4L79.0 300.9L79.4 299.7L80.0 298.4L80.7 297.5L81.5 296.7L82.5 296.1L83.5 295.7ZM61.6 325.2L63.0 325.0L64.2 325.0L65.2 325.2L66.2 325.5L67.0 326.0L67.5 326.7L67.9 327.7L68.1 328.7L68.1 329.9L67.8 331.2L67.3 332.4L66.7 333.4L65.7 334.4L64.7 335.1L63.7 335.5L62.5 335.7L61.5 335.7L60.2 335.5L59.0 335.1L58.0 334.5L57.2 333.8L56.6 332.9L56.1 331.9L55.9 330.9L56.0 329.9L56.2 328.9L56.8 327.9L57.4 327.2L58.2 326.6L59.2 326.0L61.6 325.2ZM83.0 296.2L84.0 296.0L84.7 296.0L85.5 296.2L86.2 296.7L86.9 297.4L87.4 298.2L87.7 299.2L87.9 300.4L87.9 301.4L87.7 302.7L87.3 303.9L86.7 305.1L85.2 307.1L84.5 307.8L83.5 308.4L82.7 308.7L81.8 308.7L81.0 308.4L80.5 308.0L80.0 307.4L79.5 306.3L79.2 305.2L79.1 303.9L79.1 302.4L79.3 301.2L80.1 298.9L80.7 298.0L81.4 297.2L82.2 296.6L83.0 296.2ZM61.1 325.7L63.5 325.5L64.5 325.6L65.5 325.9L66.2 326.4L66.8 326.9L67.2 327.7L67.5 328.7L67.6 329.7L67.4 330.9L67.1 331.9L66.6 332.9L66.0 333.7L65.0 334.5L64.0 335.0L63.0 335.3L61.9 335.4L60.7 335.4L59.7 335.1L58.7 334.6L57.8 333.9L57.1 333.2L56.7 332.4L56.3 331.4L56.2 330.4L56.3 329.7L56.7 328.7L57.2 327.9L58.0 327.2L59.0 326.5L60.0 326.0L61.1 325.7ZM83.3 296.4L84.2 296.3L85.0 296.4L85.7 296.7L86.3 297.2L86.9 297.9L87.3 298.7L87.6 299.7L87.6 300.7L87.4 302.7L87.0 303.9L86.5 304.8L85.7 305.9L85.0 306.7L83.5 307.6L82.7 307.8L82.0 307.8L81.2 307.5L80.7 307.0L80.2 306.4L79.8 305.4L79.6 304.4L79.4 303.2L79.7 300.9L80.5 298.9L81.0 298.2L81.7 297.3L82.5 296.8L83.3 296.4ZM61.8 326.0L63.0 325.9L64.0 326.0L65.0 326.3L65.6 326.7L66.2 327.3L66.6 327.9L66.9 328.7L67.1 329.7L67.0 330.7L66.7 331.7L66.3 332.7L65.7 333.4L64.8 334.2L64.0 334.7L63.0 335.0L62.0 335.2L61.0 335.1L60.0 334.9L59.0 334.4L58.2 333.9L57.5 333.2L57.0 332.4L56.7 331.7L56.5 330.7L56.7 329.7L56.9 328.9L57.4 328.2L58.0 327.6L58.7 327.0L59.7 326.5L61.8 326.0ZM83.7 296.7L84.5 296.7L85.2 296.9L86.0 297.3L86.5 297.8L87.0 298.7L87.2 299.4L87.4 301.2L86.9 303.2L86.0 305.0L84.7 306.2L84.0 306.7L83.2 306.9L82.5 306.9L81.7 306.7L81.2 306.4L80.7 305.8L80.2 304.9L80.0 304.2L79.8 302.2L80.2 300.2L81.1 298.4L81.7 297.8L82.4 297.2L83.7 296.7ZM60.9 326.4L63.0 326.3L63.9 326.5L64.7 326.8L65.8 327.7L66.3 328.4L66.5 329.2L66.6 329.9L66.5 330.9L66.2 331.9L65.8 332.7L65.2 333.4L64.5 334.1L63.7 334.5L62.7 334.8L61.7 334.9L60.7 334.8L59.1 334.2L58.3 333.7L57.6 332.9L57.2 332.2L56.9 331.4L56.8 330.4L57.0 329.7L57.3 328.9L57.7 328.3L59.0 327.2L60.0 326.7L60.9 326.4ZM83.1 297.2L84.5 297.0L85.2 297.3L85.7 297.6L86.2 298.0L86.6 298.7L87.1 300.2L87.0 301.9L86.5 303.5L85.5 305.0L84.7 305.6L84.1 305.9L83.5 306.2L82.7 306.2L81.6 305.7L80.7 304.6L80.2 302.9L80.3 301.2L80.9 299.4L81.3 298.7L81.9 297.9L83.1 297.2ZM61.4 326.7L63.2 326.8L64.0 327.0L64.7 327.4L65.2 327.8L65.7 328.4L66.0 329.2L66.1 329.9L66.1 330.9L65.9 331.7L65.5 332.4L65.0 333.2L64.4 333.7L63.5 334.2L62.0 334.6L60.2 334.4L58.7 333.6L57.6 332.4L57.3 331.7L57.1 330.9L57.2 330.2L57.4 329.4L58.2 328.2L59.0 327.6L59.7 327.2L61.4 326.7ZM83.5 297.4L84.7 297.4L85.7 298.0L86.2 298.6L86.5 299.2L86.8 300.7L86.6 302.2L86.0 303.8L85.0 304.9L83.9 305.4L82.7 305.5L82.0 305.1L81.5 304.7L80.8 303.7L80.6 302.2L80.7 300.7L81.3 299.2L82.2 298.1L82.8 297.7L83.5 297.4ZM60.5 327.2L62.2 327.0L63.7 327.4L64.3 327.7L64.9 328.2L65.3 328.7L65.6 329.4L65.7 330.9L65.5 331.7L65.1 332.4L64.5 333.2L64.0 333.6L62.5 334.2L61.0 334.3L59.5 333.8L58.7 333.3L58.2 332.8L57.8 332.2L57.5 331.4L57.5 330.2L58.0 328.9L59.0 327.9L60.5 327.2ZM83.1 297.9L84.2 297.7L85.2 298.1L86.0 298.9L86.5 300.1L86.5 301.4L86.1 302.7L85.5 303.8L84.4 304.7L83.7 304.9L83.2 304.9L82.2 304.5L81.5 303.8L81.0 302.7L80.9 301.4L81.3 299.9L82.1 298.7L83.1 297.9ZM60.9 327.4L62.5 327.4L63.7 327.8L64.7 328.7L65.2 329.7L65.3 330.4L65.2 331.2L64.7 332.4L63.7 333.4L62.4 333.9L61.0 334.0L59.5 333.5L58.5 332.6L57.8 331.4L57.8 330.2L58.3 328.9L59.5 328.0L60.9 327.4ZM83.5 298.2L84.5 298.2L85.4 298.7L86.0 299.6L86.2 300.7L86.1 301.9L85.6 302.9L85.0 303.8L84.0 304.3L83.0 304.2L82.2 303.8L81.6 302.9L81.3 301.9L81.4 300.7L81.9 299.4L82.7 298.6L83.5 298.2ZM60.2 327.9L61.7 327.7L62.9 327.9L64.0 328.6L64.6 329.4L64.8 330.7L64.5 331.9L63.7 333.0L62.5 333.6L61.2 333.7L60.0 333.4L58.9 332.7L58.2 331.7L58.1 330.4L58.4 329.4L59.2 328.5L60.2 327.9ZM83.4 298.7L84.2 298.6L85.0 298.9L85.5 299.4L85.8 300.4L85.8 301.4L85.5 302.4L85.0 303.2L84.2 303.7L83.5 303.8L82.7 303.4L82.0 302.7L81.7 301.9L81.7 300.9L82.1 299.9L82.7 299.1L83.4 298.7ZM60.6 328.2L61.7 328.1L63.0 328.4L63.7 329.0L64.3 329.9L64.4 330.9L64.0 332.1L63.2 332.9L62.2 333.3L61.0 333.4L60.0 333.1L59.1 332.4L58.5 331.4L58.4 330.4L58.8 329.4L59.5 328.7L60.6 328.2ZM83.5 299.2L84.2 299.1L84.7 299.3L85.2 299.9L85.4 300.7L85.4 301.4L85.1 302.2L84.7 302.7L83.9 303.1L83.2 303.0L82.7 302.7L82.3 302.2L82.2 301.7L82.2 300.9L82.4 300.2L83.0 299.5L83.5 299.2ZM60.3 328.7L61.2 328.5L62.2 328.6L63.2 329.1L63.7 329.8L63.9 330.7L63.7 331.7L63.1 332.4L62.2 332.9L61.5 333.1L60.4 332.9L59.6 332.4L59.0 331.7L58.8 330.9L58.9 329.9L59.5 329.2L60.3 328.7ZM83.5 299.9L84.2 299.9L84.7 300.4L84.8 300.9L84.8 301.4L84.5 301.9L84.2 302.3L83.5 302.3L83.2 302.2L82.9 301.7L82.8 301.2L82.9 300.7L83.2 300.2L83.5 299.9ZM60.9 328.9L61.7 328.9L62.4 329.2L63.0 329.6L63.3 330.2L63.4 330.9L63.1 331.7L62.7 332.2L62.0 332.6L61.2 332.7L60.3 332.4L59.7 331.9L59.3 331.2L59.2 330.4L59.6 329.7L60.2 329.2L60.9 328.9ZM60.4 329.7L61.0 329.5L61.5 329.5L62.0 329.6L62.4 329.9L62.6 330.4L62.7 330.9L62.5 331.4L62.2 331.9L61.7 332.1L61.2 332.2L60.7 332.0L60.2 331.7L59.9 331.2L59.8 330.7L60.0 330.2L60.4 329.7Z" fill="none" stroke="#2a2a2a" stroke-width="0.42" clip-path="url(#cp36_272)"/>
<rect x="36.70" y="272.20" width="74.10" height="73.80" fill="none" stroke="#9a9a9a" stroke-width="0.6"/>
<line x1="72.50" y1="272.20" x2="72.50" y2="346.00" stroke="#2a2a2a" stroke-width="0.8"/>
<line x1="36.70" y1="314.50" x2="110.80" y2="314.50" stroke="#2a2a2a" stroke-width="0.8"/>
<text transform="translate(38.00 280.20) scale(0.8462487153134635 1)" font-size="8.2" text-anchor="start" fill="#2a2a2a" stroke="none">3.14</text>
<text transform="translate(107.40 280.20) scale(0.92 1)" font-size="8.2" text-anchor="end" fill="#2a2a2a" stroke="none">46.7</text>
<text transform="translate(37.80 341.60) scale(0.92 1)" font-size="8.2" text-anchor="start" fill="#2a2a2a" stroke="none">36.0</text>
<text transform="translate(107.40 341.60) scale(0.8462487153134635 1)" font-size="8.2" text-anchor="end" fill="#2a2a2a" stroke="none">14.2</text>
<text x="33.70" y="280.60" font-size="6.3" text-anchor="end" fill="#2a2a2a" stroke="none">10<tspan dy="-2.4" font-size="3.7">5</tspan></text>
<text x="33.70" y="298.40" font-size="6.3" text-anchor="end" fill="#2a2a2a" stroke="none">10<tspan dy="-2.4" font-size="3.7">4</tspan></text>
<text x="33.70" y="318.50" font-size="6.3" text-anchor="end" fill="#2a2a2a" stroke="none">10<tspan dy="-2.4" font-size="3.7">3</tspan></text>
<text x="32.40" y="330.00" font-size="6.3" text-anchor="end" fill="#2a2a2a" stroke="none">0</text>
<text x="33.70" y="343.20" font-size="6.3" text-anchor="end" fill="#2a2a2a" stroke="none">-10<tspan dy="-2.4" font-size="3.7">3</tspan></text>
<text x="41.30" y="353.00" font-size="6.3" text-anchor="middle" fill="#2a2a2a" stroke="none">-10<tspan dy="-2.4" font-size="3.7">3</tspan></text>
<text x="53.70" y="353.00" font-size="6.3" text-anchor="middle" fill="#2a2a2a" stroke="none">0</text>
<text x="65.50" y="353.00" font-size="6.3" text-anchor="middle" fill="#2a2a2a" stroke="none">10<tspan dy="-2.4" font-size="3.7">3</tspan></text>
<text x="85.50" y="353.00" font-size="6.3" text-anchor="middle" fill="#2a2a2a" stroke="none">10<tspan dy="-2.4" font-size="3.7">4</tspan></text>
<text x="101.40" y="353.00" font-size="6.3" text-anchor="middle" fill="#2a2a2a" stroke="none">10<tspan dy="-2.4" font-size="3.7">5</tspan></text>
<line x1="35.50" y1="273.20" x2="36.70" y2="273.20" stroke="#999" stroke-width="0.4"/>
<line x1="35.50" y1="274.80" x2="36.70" y2="274.80" stroke="#999" stroke-width="0.4"/>
<line x1="35.50" y1="276.40" x2="36.70" y2="276.40" stroke="#999" stroke-width="0.4"/>
<line x1="35.50" y1="279.60" x2="36.70" y2="279.60" stroke="#999" stroke-width="0.4"/>
<line x1="35.50" y1="282.80" x2="36.70" y2="282.80" stroke="#999" stroke-width="0.4"/>
<line x1="35.50" y1="284.40" x2="36.70" y2="284.40" stroke="#999" stroke-width="0.4"/>
<line x1="35.50" y1="287.60" x2="36.70" y2="287.60" stroke="#999" stroke-width="0.4"/>
<line x1="35.50" y1="289.20" x2="36.70" y2="289.20" stroke="#999" stroke-width="0.4"/>
<line x1="35.50" y1="290.80" x2="36.70" y2="290.80" stroke="#999" stroke-width="0.4"/>
<line x1="35.50" y1="294.00" x2="36.70" y2="294.00" stroke="#999" stroke-width="0.4"/>
<line x1="35.50" y1="297.20" x2="36.70" y2="297.20" stroke="#999" stroke-width="0.4"/>
<line x1="35.50" y1="298.80" x2="36.70" y2="298.80" stroke="#999" stroke-width="0.4"/>
<line x1="35.50" y1="302.00" x2="36.70" y2="302.00" stroke="#999" stroke-width="0.4"/>
<line x1="35.50" y1="303.60" x2="36.70" y2="303.60" stroke="#999" stroke-width="0.4"/>
<line x1="35.50" y1="305.20" x2="36.70" y2="305.20" stroke="#999" stroke-width="0.4"/>
<line x1="35.50" y1="308.40" x2="36.70" y2="308.40" stroke="#999" stroke-width="0.4"/>
<line x1="35.50" y1="311.60" x2="36.70" y2="311.60" stroke="#999" stroke-width="0.4"/>
<line x1="35.50" y1="313.20" x2="36.70" y2="313.20" stroke="#999" stroke-width="0.4"/>
<line x1="35.50" y1="316.40" x2="36.70" y2="316.40" stroke="#999" stroke-width="0.4"/>
<line x1="35.50" y1="318.00" x2="36.70" y2="318.00" stroke="#999" stroke-width="0.4"/>
<line x1="35.50" y1="319.60" x2="36.70" y2="319.60" stroke="#999" stroke-width="0.4"/>
<line x1="35.50" y1="322.80" x2="36.70" y2="322.80" stroke="#999" stroke-width="0.4"/>
<line x1="35.50" y1="326.00" x2="36.70" y2="326.00" stroke="#999" stroke-width="0.4"/>
<line x1="35.50" y1="327.60" x2="36.70" y2="327.60" stroke="#999" stroke-width="0.4"/>
<line x1="35.50" y1="330.80" x2="36.70" y2="330.80" stroke="#999" stroke-width="0.4"/>
<line x1="35.50" y1="332.40" x2="36.70" y2="332.40" stroke="#999" stroke-width="0.4"/>
<line x1="35.50" y1="334.00" x2="36.70" y2="334.00" stroke="#999" stroke-width="0.4"/>
<line x1="35.50" y1="337.20" x2="36.70" y2="337.20" stroke="#999" stroke-width="0.4"/>
<line x1="35.50" y1="340.40" x2="36.70" y2="340.40" stroke="#999" stroke-width="0.4"/>
<line x1="35.50" y1="342.00" x2="36.70" y2="342.00" stroke="#999" stroke-width="0.4"/>
<line x1="35.50" y1="345.20" x2="36.70" y2="345.20" stroke="#999" stroke-width="0.4"/>
<line x1="37.70" y1="346.00" x2="37.70" y2="347.20" stroke="#999" stroke-width="0.4"/>
<line x1="39.30" y1="346.00" x2="39.30" y2="347.20" stroke="#999" stroke-width="0.4"/>
<line x1="40.90" y1="346.00" x2="40.90" y2="347.20" stroke="#999" stroke-width="0.4"/>
<line x1="44.10" y1="346.00" x2="44.10" y2="347.20" stroke="#999" stroke-width="0.4"/>
<line x1="47.30" y1="346.00" x2="47.30" y2="347.20" stroke="#999" stroke-width="0.4"/>
<line x1="48.90" y1="346.00" x2="48.90" y2="347.20" stroke="#999" stroke-width="0.4"/>
<line x1="52.10" y1="346.00" x2="52.10" y2="347.20" stroke="#999" stroke-width="0.4"/>
<line x1="53.70" y1="346.00" x2="53.70" y2="347.20" stroke="#999" stroke-width="0.4"/>
<line x1="55.30" y1="346.00" x2="55.30" y2="347.20" stroke="#999" stroke-width="0.4"/>
<line x1="58.50" y1="346.00" x2="58.50" y2="347.20" stroke="#999" stroke-width="0.4"/>
<line x1="61.70" y1="346.00" x2="61.70" y2="347.20" stroke="#999" stroke-width="0.4"/>
<line x1="63.30" y1="346.00" x2="63.30" y2="347.20" stroke="#999" stroke-width="0.4"/>
<line x1="66.50" y1="346.00" x2="66.50" y2="347.20" stroke="#999" stroke-width="0.4"/>
<line x1="68.10" y1="346.00" x2="68.10" y2="347.20" stroke="#999" stroke-width="0.4"/>
<line x1="69.70" y1="346.00" x2="69.70" y2="347.20" stroke="#999" stroke-width="0.4"/>
<line x1="72.90" y1="346.00" x2="72.90" y2="347.20" stroke="#999" stroke-width="0.4"/>
<line x1="76.10" y1="346.00" x2="76.10" y2="347.20" stroke="#999" stroke-width="0.4"/>
<line x1="77.70" y1="346.00" x2="77.70" y2="347.20" stroke="#999" stroke-width="0.4"/>
<line x1="80.90" y1="346.00" x2="80.90" y2="347.20" stroke="#999" stroke-width="0.4"/>
<line x1="82.50" y1="346.00" x2="82.50" y2="347.20" stroke="#999" stroke-width="0.4"/>
<line x1="84.10" y1="346.00" x2="84.10" y2="347.20" stroke="#999" stroke-width="0.4"/>
<line x1="87.30" y1="346.00" x2="87.30" y2="347.20" stroke="#999" stroke-width="0.4"/>
<line x1="90.50" y1="346.00" x2="90.50" y2="347.20" stroke="#999" stroke-width="0.4"/>
<line x1="92.10" y1="346.00" x2="92.10" y2="347.20" stroke="#999" stroke-width="0.4"/>
<line x1="95.30" y1="346.00" x2="95.30" y2="347.20" stroke="#999" stroke-width="0.4"/>
<line x1="96.90" y1="346.00" x2="96.90" y2="347.20" stroke="#999" stroke-width="0.4"/>
<line x1="98.50" y1="346.00" x2="98.50" y2="347.20" stroke="#999" stroke-width="0.4"/>
<line x1="101.70" y1="346.00" x2="101.70" y2="347.20" stroke="#999" stroke-width="0.4"/>
<line x1="104.90" y1="346.00" x2="104.90" y2="347.20" stroke="#999" stroke-width="0.4"/>
<line x1="106.50" y1="346.00" x2="106.50" y2="347.20" stroke="#999" stroke-width="0.4"/>
<line x1="109.70" y1="346.00" x2="109.70" y2="347.20" stroke="#999" stroke-width="0.4"/>
<clipPath id="cp127_272"><rect x="127.8" y="272.2" width="74.00000000000001" height="73.80000000000001"/></clipPath>
<path d="M175.1 288.4L177.1 288.3L179.1 288.8L180.8 289.8L182.2 291.2L183.2 292.9L184.0 294.9L184.5 297.4L184.6 300.4L184.4 302.9L184.0 305.2L183.5 307.2L182.7 309.2L181.1 311.9L177.6 316.2L176.7 317.9L176.4 319.2L176.0 323.2L175.1 326.2L175.0 327.2L175.2 328.4L176.3 331.2L176.4 332.7L176.2 333.4L175.6 334.1L174.8 334.4L173.8 334.4L172.8 334.1L171.8 333.6L170.8 332.8L170.1 331.9L169.2 330.4L167.8 327.4L165.9 324.2L165.1 322.7L164.4 320.2L163.8 315.2L162.9 310.7L162.7 308.7L162.7 306.7L163.0 303.7L163.7 300.9L164.7 298.4L166.1 295.9L168.4 292.9L170.7 290.7L172.8 289.3L173.8 288.8L175.1 288.4ZM155.1 310.7L155.8 310.5L156.6 310.5L157.3 310.6L158.0 310.9L159.1 311.9L159.9 313.4L160.4 315.7L160.4 320.9L160.6 322.2L161.8 326.7L162.0 328.4L161.9 330.2L161.6 332.2L160.9 334.2L159.9 335.9L158.8 337.2L157.3 338.4L155.8 339.2L154.1 339.7L152.3 339.7L150.8 339.3L149.3 338.6L148.1 337.6L146.9 336.2L146.1 334.7L145.6 333.2L145.3 331.4L145.3 329.4L145.6 327.7L146.2 325.9L147.1 324.2L149.1 321.1L149.8 319.7L151.4 315.2L152.1 313.8L152.7 312.7L153.6 311.7L154.3 311.1L155.1 310.7ZM176.0 289.4L177.8 289.6L179.3 290.1L180.6 291.0L181.7 292.4L182.6 294.2L183.2 296.2L183.3 298.5L183.2 300.7L182.4 304.9L181.9 306.7L181.1 308.4L180.3 309.9L179.3 311.4L178.1 312.8L175.6 315.2L174.6 316.4L174.1 317.9L173.8 321.2L173.5 322.4L172.9 323.7L172.1 324.5L171.6 324.8L170.8 324.9L170.3 324.8L169.6 324.4L168.3 323.1L167.4 321.4L167.0 319.4L166.5 314.9L165.2 310.4L164.8 308.7L164.6 306.7L164.7 304.4L165.2 301.9L166.1 299.4L167.7 296.4L169.5 293.7L171.1 291.9L172.6 290.7L174.3 289.8L176.0 289.4ZM155.1 314.2L155.8 314.0L156.6 314.2L157.1 314.7L157.6 315.7L157.9 317.2L158.0 321.2L158.4 322.7L159.5 325.7L159.9 327.2L160.1 328.9L160.1 330.4L159.8 331.9L159.2 333.4L158.3 334.9L157.3 335.9L156.1 336.8L154.8 337.4L153.6 337.6L152.3 337.5L151.1 337.1L150.1 336.6L149.1 335.7L148.3 334.7L147.7 333.4L147.3 332.2L147.1 330.7L147.2 329.2L147.6 327.4L148.3 325.7L151.7 320.7L153.7 315.7L154.3 314.8L155.1 314.2ZM175.7 290.2L177.1 290.2L178.6 290.6L180.0 291.4L181.1 292.7L181.9 294.2L182.4 295.9L182.6 297.9L182.5 300.2L181.9 302.7L181.1 305.4L180.1 307.7L179.1 309.4L178.0 310.9L176.6 312.3L172.1 315.4L170.8 316.2L170.6 316.3L170.1 316.0L169.1 314.8L167.8 312.7L166.8 310.5L166.2 308.4L165.9 306.2L166.0 303.9L166.5 301.7L167.4 299.4L169.0 296.2L170.3 293.9L171.6 292.5L172.8 291.4L174.3 290.6L175.7 290.2ZM154.2 321.4L154.8 321.3L155.6 321.7L156.3 322.8L157.5 324.9L158.2 326.4L158.6 327.7L158.7 328.9L158.7 330.2L158.5 331.4L158.1 332.4L157.6 333.5L156.8 334.4L156.1 335.1L155.1 335.6L154.1 335.9L153.1 336.0L152.1 335.8L151.1 335.3L150.3 334.8L149.6 334.0L149.0 332.9L148.7 331.9L148.5 330.9L148.5 329.7L148.9 327.7L150.1 325.6L152.1 323.2L153.3 322.1L154.2 321.4ZM176.3 290.7L177.6 290.8L178.8 291.3L180.0 292.2L181.0 293.4L181.6 294.9L182.0 296.4L182.1 298.2L181.9 299.9L181.4 302.2L180.4 304.7L179.4 306.9L178.3 308.8L177.1 310.2L175.8 311.4L174.3 312.3L172.8 312.8L171.6 313.0L170.3 312.6L169.3 311.8L168.4 310.7L167.7 309.2L167.2 307.4L167.0 305.7L167.1 303.7L167.7 301.4L168.9 297.9L169.9 295.7L171.0 293.9L172.3 292.5L173.6 291.5L175.1 290.9L176.3 290.7ZM153.7 324.4L154.3 324.4L155.1 324.6L155.8 325.2L156.3 325.8L156.8 326.7L157.2 327.7L157.5 328.7L157.5 329.7L157.2 331.5L156.8 332.3L156.3 333.0L155.1 334.1L154.3 334.4L153.6 334.5L152.8 334.5L152.1 334.2L151.3 333.8L150.8 333.3L150.0 331.9L149.7 330.2L150.0 328.4L150.8 326.7L151.6 325.8L152.3 325.1L153.1 324.7L153.7 324.4ZM175.8 291.2L177.1 291.2L178.3 291.6L179.3 292.2L180.3 293.2L181.0 294.4L181.4 295.7L181.7 297.2L181.6 298.9L181.2 301.0L180.6 302.7L179.6 304.9L178.2 307.2L177.1 308.7L176.1 309.7L174.8 310.6L173.6 311.1L172.3 311.3L171.3 311.2L170.3 310.6L169.4 309.7L168.7 308.4L168.2 307.2L168.0 305.7L168.1 303.9L168.5 301.7L169.4 298.4L170.1 296.4L170.9 294.9L172.0 293.4L173.1 292.4L174.3 291.6L175.8 291.2ZM153.0 326.7L153.8 326.5L154.8 326.8L155.6 327.5L156.1 328.7L156.2 329.9L155.8 331.2L155.3 332.0L154.4 332.7L153.6 332.9L152.5 332.7L151.7 331.9L151.2 330.9L151.1 329.7L151.4 328.4L152.1 327.4L153.0 326.7ZM175.4 291.7L176.6 291.6L177.6 291.7L178.6 292.2L179.6 292.9L180.3 293.9L180.9 295.2L181.2 296.7L181.3 298.2L181.1 299.7L180.7 301.2L180.2 302.4L179.3 304.1L178.1 306.0L176.8 307.6L175.8 308.5L174.6 309.4L173.3 309.8L172.3 309.8L171.3 309.5L170.6 309.0L169.8 308.0L169.3 306.8L169.0 305.5L169.0 304.0L169.3 301.4L169.9 298.7L170.4 296.9L171.1 295.4L171.9 294.2L173.0 292.9L174.1 292.2L175.4 291.7ZM174.9 292.2L176.1 292.0L177.1 292.0L178.1 292.3L179.1 293.0L179.8 293.8L180.5 294.9L180.8 296.2L181.0 297.4L180.9 298.7L180.7 299.9L180.2 301.4L179.6 302.7L178.6 304.2L177.6 305.5L176.3 306.7L175.3 307.5L174.3 308.0L173.3 308.3L172.3 308.2L171.6 307.8L170.9 307.2L170.4 306.2L170.1 304.9L169.9 303.4L170.0 301.4L170.2 299.4L170.6 297.7L171.1 296.2L171.9 294.7L172.8 293.6L173.8 292.8L174.9 292.2ZM175.3 292.4L176.3 292.3L177.3 292.4L178.3 292.8L179.1 293.4L179.7 294.2L180.2 295.2L180.5 296.2L180.7 297.4L180.6 298.7L180.3 299.9L179.4 302.2L177.8 304.3L176.8 305.2L175.8 305.9L174.8 306.4L173.8 306.7L172.8 306.5L172.1 306.1L171.5 305.4L171.1 304.4L170.7 302.9L170.6 301.4L170.6 299.7L170.9 298.2L171.2 296.9L171.7 295.7L172.5 294.4L173.3 293.6L174.3 292.9L175.3 292.4ZM175.7 292.7L176.6 292.6L177.6 292.8L178.3 293.2L179.1 293.9L179.6 294.7L180.1 295.6L180.3 296.7L180.4 297.7L180.3 298.9L180.0 299.9L179.1 302.1L177.6 303.8L176.6 304.6L175.6 305.1L174.6 305.3L173.8 305.3L173.1 305.0L172.3 304.4L171.8 303.7L171.3 302.4L171.1 301.2L171.0 299.9L171.4 297.4L171.8 296.2L172.3 295.2L173.1 294.3L173.8 293.6L174.8 293.0L175.7 292.7ZM175.0 293.2L175.8 293.0L176.8 293.0L177.6 293.2L178.3 293.6L178.9 294.2L179.4 294.9L179.9 295.9L180.1 296.9L180.1 297.9L179.9 299.2L179.2 301.2L178.6 302.2L177.8 303.0L176.3 304.1L175.3 304.4L174.6 304.5L173.8 304.3L173.1 303.9L172.4 303.2L172.0 302.4L171.6 301.4L171.5 300.4L171.5 298.2L171.8 296.9L172.3 295.9L172.9 295.0L173.5 294.2L174.3 293.6L175.0 293.2ZM175.3 293.4L176.1 293.3L176.8 293.3L177.6 293.5L178.2 293.9L178.8 294.5L179.3 295.2L179.6 295.9L179.8 296.9L179.8 297.9L179.7 298.9L179.1 300.8L178.5 301.7L177.8 302.5L177.1 303.1L176.3 303.5L175.6 303.7L174.8 303.8L174.1 303.6L173.3 303.2L172.8 302.7L172.3 301.9L172.0 300.9L171.8 299.9L171.9 297.9L172.6 295.9L173.1 295.2L173.8 294.3L174.6 293.8L175.3 293.4ZM175.5 293.7L176.3 293.6L177.1 293.7L177.8 294.0L178.3 294.4L179.2 295.7L179.5 297.2L179.4 299.0L178.8 300.7L177.6 302.2L176.3 303.0L175.6 303.2L174.8 303.2L174.1 303.0L173.6 302.7L173.1 302.2L172.6 301.4L172.1 299.7L172.2 297.7L172.9 295.9L173.4 295.2L174.1 294.5L174.8 294.0L175.5 293.7ZM175.9 293.9L176.6 293.9L177.3 294.1L178.4 294.9L179.1 296.2L179.3 297.9L178.9 299.7L178.1 301.2L176.8 302.3L175.6 302.7L175.1 302.7L174.3 302.5L173.3 301.7L172.6 300.4L172.4 298.7L172.7 296.9L173.5 295.4L174.6 294.4L175.3 294.1L175.9 293.9ZM175.3 294.4L175.8 294.3L176.6 294.3L177.6 294.7L178.5 295.7L179.0 297.2L178.9 298.7L178.4 300.2L177.6 301.3L176.3 302.1L175.1 302.2L174.1 301.8L173.3 300.9L172.8 299.4L172.8 297.9L173.3 296.4L174.1 295.2L175.3 294.4ZM175.6 294.7L176.3 294.6L176.8 294.7L177.7 295.2L178.4 296.2L178.7 297.4L178.6 298.9L178.1 300.1L177.1 301.2L176.1 301.7L175.1 301.8L174.1 301.2L173.3 300.2L173.0 298.9L173.2 297.4L173.7 296.2L174.6 295.2L175.6 294.7ZM175.3 295.2L176.3 295.0L177.1 295.2L177.8 295.8L178.3 296.9L178.4 298.2L178.1 299.4L177.4 300.4L176.6 301.1L175.6 301.4L174.6 301.1L173.9 300.4L173.5 299.4L173.4 298.2L173.7 296.9L174.3 295.9L175.3 295.2ZM175.9 295.4L176.6 295.5L177.4 295.9L177.9 296.7L178.1 297.7L178.0 298.7L177.5 299.7L176.8 300.5L176.1 300.8L175.3 300.9L174.5 300.4L174.0 299.7L173.7 298.7L173.8 297.7L174.3 296.5L175.1 295.8L175.9 295.4ZM176.0 295.9L176.6 296.0L177.2 296.4L177.6 297.1L177.7 297.9L177.6 298.7L177.2 299.4L176.8 299.9L176.1 300.3L175.3 300.3L174.7 299.9L174.3 299.4L174.1 298.4L174.3 297.4L174.7 296.7L175.3 296.2L176.0 295.9ZM175.6 296.7L176.1 296.6L176.6 296.8L176.9 297.2L177.1 297.7L177.1 298.4L176.9 298.9L176.6 299.4L176.1 299.7L175.6 299.7L175.1 299.5L174.7 298.7L174.6 298.2L174.8 297.4L175.2 296.9L175.6 296.7Z" fill="none" stroke="#2a2a2a" stroke-width="0.42" clip-path="url(#cp127_272)"/>
<rect x="127.80" y="272.20" width="74.00" height="73.80" fill="none" stroke="#9a9a9a" stroke-width="0.6"/>
<line x1="163.50" y1="272.20" x2="163.50" y2="346.00" stroke="#2a2a2a" stroke-width="0.8"/>
<line x1="127.80" y1="314.50" x2="201.80" y2="314.50" stroke="#2a2a2a" stroke-width="0.8"/>
<text transform="translate(129.10 280.20) scale(0.8462487153134635 1)" font-size="8.2" text-anchor="start" fill="#2a2a2a" stroke="none">3.15</text>
<text transform="translate(198.40 280.20) scale(0.92 1)" font-size="8.2" text-anchor="end" fill="#2a2a2a" stroke="none">77.0</text>
<text transform="translate(128.90 341.60) scale(0.772497430626927 1)" font-size="8.2" text-anchor="start" fill="#2a2a2a" stroke="none">11.9</text>
<text transform="translate(198.40 341.60) scale(0.92 1)" font-size="8.2" text-anchor="end" fill="#2a2a2a" stroke="none">7.95</text>
<text x="124.80" y="280.60" font-size="6.3" text-anchor="end" fill="#2a2a2a" stroke="none">10<tspan dy="-2.4" font-size="3.7">5</tspan></text>
<text x="124.80" y="298.40" font-size="6.3" text-anchor="end" fill="#2a2a2a" stroke="none">10<tspan dy="-2.4" font-size="3.7">4</tspan></text>
<text x="124.80" y="318.50" font-size="6.3" text-anchor="end" fill="#2a2a2a" stroke="none">10<tspan dy="-2.4" font-size="3.7">3</tspan></text>
<text x="123.50" y="330.00" font-size="6.3" text-anchor="end" fill="#2a2a2a" stroke="none">0</text>
<text x="124.80" y="343.20" font-size="6.3" text-anchor="end" fill="#2a2a2a" stroke="none">-10<tspan dy="-2.4" font-size="3.7">3</tspan></text>
<text x="133.90" y="353.00" font-size="6.3" text-anchor="middle" fill="#2a2a2a" stroke="none">-10<tspan dy="-2.4" font-size="3.7">3</tspan></text>
<text x="147.10" y="353.00" font-size="6.3" text-anchor="middle" fill="#2a2a2a" stroke="none">0</text>
<text x="158.90" y="353.00" font-size="6.3" text-anchor="middle" fill="#2a2a2a" stroke="none">10<tspan dy="-2.4" font-size="3.7">3</tspan></text>
<text x="179.20" y="353.00" font-size="6.3" text-anchor="middle" fill="#2a2a2a" stroke="none">10<tspan dy="-2.4" font-size="3.7">4</tspan></text>
<text x="194.80" y="353.00" font-size="6.3" text-anchor="middle" fill="#2a2a2a" stroke="none">10<tspan dy="-2.4" font-size="3.7">5</tspan></text>
<line x1="126.60" y1="273.20" x2="127.80" y2="273.20" stroke="#999" stroke-width="0.4"/>
<line x1="126.60" y1="274.80" x2="127.80" y2="274.80" stroke="#999" stroke-width="0.4"/>
<line x1="126.60" y1="276.40" x2="127.80" y2="276.40" stroke="#999" stroke-width="0.4"/>
<line x1="126.60" y1="279.60" x2="127.80" y2="279.60" stroke="#999" stroke-width="0.4"/>
<line x1="126.60" y1="282.80" x2="127.80" y2="282.80" stroke="#999" stroke-width="0.4"/>
<line x1="126.60" y1="284.40" x2="127.80" y2="284.40" stroke="#999" stroke-width="0.4"/>
<line x1="126.60" y1="287.60" x2="127.80" y2="287.60" stroke="#999" stroke-width="0.4"/>
<line x1="126.60" y1="289.20" x2="127.80" y2="289.20" stroke="#999" stroke-width="0.4"/>
<line x1="126.60" y1="290.80" x2="127.80" y2="290.80" stroke="#999" stroke-width="0.4"/>
<line x1="126.60" y1="294.00" x2="127.80" y2="294.00" stroke="#999" stroke-width="0.4"/>
<line x1="126.60" y1="297.20" x2="127.80" y2="297.20" stroke="#999" stroke-width="0.4"/>
<line x1="126.60" y1="298.80" x2="127.80" y2="298.80" stroke="#999" stroke-width="0.4"/>
<line x1="126.60" y1="302.00" x2="127.80" y2="302.00" stroke="#999" stroke-width="0.4"/>
<line x1="126.60" y1="303.60" x2="127.80" y2="303.60" stroke="#999" stroke-width="0.4"/>
<line x1="126.60" y1="305.20" x2="127.80" y2="305.20" stroke="#999" stroke-width="0.4"/>
<line x1="126.60" y1="308.40" x2="127.80" y2="308.40" stroke="#999" stroke-width="0.4"/>
<line x1="126.60" y1="311.60" x2="127.80" y2="311.60" stroke="#999" stroke-width="0.4"/>
<line x1="126.60" y1="313.20" x2="127.80" y2="313.20" stroke="#999" stroke-width="0.4"/>
<line x1="126.60" y1="316.40" x2="127.80" y2="316.40" stroke="#999" stroke-width="0.4"/>
<line x1="126.60" y1="318.00" x2="127.80" y2="318.00" stroke="#999" stroke-width="0.4"/>
<line x1="126.60" y1="319.60" x2="127.80" y2="319.60" stroke="#999" stroke-width="0.4"/>
<line x1="126.60" y1="322.80" x2="127.80" y2="322.80" stroke="#999" stroke-width="0.4"/>
<line x1="126.60" y1="326.00" x2="127.80" y2="326.00" stroke="#999" stroke-width="0.4"/>
<line x1="126.60" y1="327.60" x2="127.80" y2="327.60" stroke="#999" stroke-width="0.4"/>
<line x1="126.60" y1="330.80" x2="127.80" y2="330.80" stroke="#999" stroke-width="0.4"/>
<line x1="126.60" y1="332.40" x2="127.80" y2="332.40" stroke="#999" stroke-width="0.4"/>
<line x1="126.60" y1="334.00" x2="127.80" y2="334.00" stroke="#999" stroke-width="0.4"/>
<line x1="126.60" y1="337.20" x2="127.80" y2="337.20" stroke="#999" stroke-width="0.4"/>
<line x1="126.60" y1="340.40" x2="127.80" y2="340.40" stroke="#999" stroke-width="0.4"/>
<line x1="126.60" y1="342.00" x2="127.80" y2="342.00" stroke="#999" stroke-width="0.4"/>
<line x1="126.60" y1="345.20" x2="127.80" y2="345.20" stroke="#999" stroke-width="0.4"/>
<line x1="128.80" y1="346.00" x2="128.80" y2="347.20" stroke="#999" stroke-width="0.4"/>
<line x1="130.40" y1="346.00" x2="130.40" y2="347.20" stroke="#999" stroke-width="0.4"/>
<line x1="132.00" y1="346.00" x2="132.00" y2="347.20" stroke="#999" stroke-width="0.4"/>
<line x1="135.20" y1="346.00" x2="135.20" y2="347.20" stroke="#999" stroke-width="0.4"/>
<line x1="138.40" y1="346.00" x2="138.40" y2="347.20" stroke="#999" stroke-width="0.4"/>
<line x1="140.00" y1="346.00" x2="140.00" y2="347.20" stroke="#999" stroke-width="0.4"/>
<line x1="143.20" y1="346.00" x2="143.20" y2="347.20" stroke="#999" stroke-width="0.4"/>
<line x1="144.80" y1="346.00" x2="144.80" y2="347.20" stroke="#999" stroke-width="0.4"/>
<line x1="146.40" y1="346.00" x2="146.40" y2="347.20" stroke="#999" stroke-width="0.4"/>
<line x1="149.60" y1="346.00" x2="149.60" y2="347.20" stroke="#999" stroke-width="0.4"/>
<line x1="152.80" y1="346.00" x2="152.80" y2="347.20" stroke="#999" stroke-width="0.4"/>
<line x1="154.40" y1="346.00" x2="154.40" y2="347.20" stroke="#999" stroke-width="0.4"/>
<line x1="157.60" y1="346.00" x2="157.60" y2="347.20" stroke="#999" stroke-width="0.4"/>
<line x1="159.20" y1="346.00" x2="159.20" y2="347.20" stroke="#999" stroke-width="0.4"/>
<line x1="160.80" y1="346.00" x2="160.80" y2="347.20" stroke="#999" stroke-width="0.4"/>
<line x1="164.00" y1="346.00" x2="164.00" y2="347.20" stroke="#999" stroke-width="0.4"/>
<line x1="167.20" y1="346.00" x2="167.20" y2="347.20" stroke="#999" stroke-width="0.4"/>
<line x1="168.80" y1="346.00" x2="168.80" y2="347.20" stroke="#999" stroke-width="0.4"/>
<line x1="172.00" y1="346.00" x2="172.00" y2="347.20" stroke="#999" stroke-width="0.4"/>
<line x1="173.60" y1="346.00" x2="173.60" y2="347.20" stroke="#999" stroke-width="0.4"/>
<line x1="175.20" y1="346.00" x2="175.20" y2="347.20" stroke="#999" stroke-width="0.4"/>
<line x1="178.40" y1="346.00" x2="178.40" y2="347.20" stroke="#999" stroke-width="0.4"/>
<line x1="181.60" y1="346.00" x2="181.60" y2="347.20" stroke="#999" stroke-width="0.4"/>
<line x1="183.20" y1="346.00" x2="183.20" y2="347.20" stroke="#999" stroke-width="0.4"/>
<line x1="186.40" y1="346.00" x2="186.40" y2="347.20" stroke="#999" stroke-width="0.4"/>
<line x1="188.00" y1="346.00" x2="188.00" y2="347.20" stroke="#999" stroke-width="0.4"/>
<line x1="189.60" y1="346.00" x2="189.60" y2="347.20" stroke="#999" stroke-width="0.4"/>
<line x1="192.80" y1="346.00" x2="192.80" y2="347.20" stroke="#999" stroke-width="0.4"/>
<line x1="196.00" y1="346.00" x2="196.00" y2="347.20" stroke="#999" stroke-width="0.4"/>
<line x1="197.60" y1="346.00" x2="197.60" y2="347.20" stroke="#999" stroke-width="0.4"/>
<line x1="200.80" y1="346.00" x2="200.80" y2="347.20" stroke="#999" stroke-width="0.4"/>
<clipPath id="cp220_272"><rect x="220.1" y="272.2" width="74.29999999999998" height="73.80000000000001"/></clipPath>
<path d="M268.5 289.2L270.4 289.2L272.1 289.8L273.6 290.8L274.9 292.2L276.0 293.9L276.7 296.2L277.1 298.4L277.2 300.9L276.7 304.7L275.7 309.4L274.4 312.7L271.7 317.2L270.9 318.9L270.5 320.7L269.9 325.2L269.3 327.4L268.8 328.7L268.1 329.8L267.4 330.5L266.4 331.1L265.4 331.1L264.4 330.6L263.4 329.4L262.7 327.9L262.1 325.5L261.7 320.9L261.4 319.2L260.9 317.7L259.0 313.9L258.2 311.9L257.7 309.4L257.6 306.7L257.9 303.9L258.7 301.2L260.5 296.7L262.0 293.9L263.5 291.9L265.1 290.6L266.9 289.6L268.5 289.2ZM245.2 324.0L246.3 324.0L247.3 324.3L248.3 324.8L249.3 325.7L250.1 326.7L250.6 327.7L251.0 328.9L251.1 330.2L251.1 331.4L250.9 332.7L250.4 334.0L249.8 334.9L249.1 335.8L248.1 336.6L247.1 337.0L246.1 337.2L245.1 337.2L243.8 336.9L242.8 336.4L242.0 335.7L241.2 334.7L240.7 333.7L240.3 332.4L240.1 331.2L240.1 329.9L240.3 328.7L240.7 327.5L241.3 326.3L242.1 325.4L243.1 324.6L244.1 324.2L245.2 324.0ZM267.7 290.4L269.4 290.2L271.1 290.5L272.6 291.3L273.9 292.4L274.9 293.9L275.7 295.7L276.1 297.7L276.3 299.9L276.2 301.7L275.8 303.9L274.5 308.2L273.7 310.2L272.7 312.2L269.6 316.7L268.8 318.2L268.3 319.9L267.7 323.9L267.1 325.7L266.6 326.2L265.9 326.5L265.1 326.1L264.6 325.2L264.2 323.7L263.9 320.2L263.6 318.7L263.0 317.2L261.0 313.7L260.0 311.7L259.4 309.5L259.2 306.9L259.5 304.4L260.2 301.2L261.2 297.9L262.3 295.4L263.3 293.7L264.6 292.2L266.1 291.1L267.7 290.4ZM244.9 326.2L245.6 326.1L246.3 326.2L247.6 326.8L248.6 327.9L249.0 328.7L249.3 329.7L249.3 331.4L248.8 332.9L247.8 334.2L247.1 334.7L246.3 335.0L245.6 335.1L244.8 335.0L243.6 334.4L242.6 333.2L242.2 332.4L241.9 331.5L241.9 329.7L242.2 328.7L242.6 327.9L243.6 326.8L244.3 326.4L244.9 326.2ZM267.6 291.2L269.1 291.0L270.6 291.1L272.1 291.8L273.2 292.7L274.2 293.9L275.0 295.7L275.5 297.4L275.7 299.4L275.5 301.7L275.1 303.7L274.4 305.9L273.2 308.7L272.0 310.9L270.9 312.7L269.4 314.4L267.9 315.9L266.9 316.5L266.4 316.7L265.9 316.6L264.9 316.1L263.4 314.5L262.1 312.8L261.2 310.9L260.6 308.9L260.5 306.9L260.6 304.7L261.1 301.4L261.7 298.7L262.5 296.4L263.4 294.7L264.6 293.2L266.1 291.9L267.6 291.2ZM244.7 328.4L245.6 328.2L246.3 328.4L247.0 328.9L247.4 329.7L247.6 330.5L247.5 331.4L247.1 332.2L246.4 332.8L245.6 333.0L244.9 332.8L244.3 332.4L243.8 331.7L243.6 330.9L243.7 330.0L244.1 329.0L244.7 328.4ZM267.9 291.7L269.4 291.5L270.6 291.7L271.9 292.3L273.0 293.2L273.9 294.4L274.6 295.9L275.0 297.4L275.2 299.4L275.1 301.2L274.8 303.0L274.2 304.7L273.5 306.4L272.4 308.6L270.9 310.8L269.6 312.3L268.3 313.4L267.1 314.1L266.1 314.2L265.1 313.9L263.9 312.9L262.9 311.6L262.1 309.9L261.6 308.2L261.4 305.9L261.5 303.4L261.8 300.7L262.3 298.4L263.0 296.4L264.0 294.7L265.1 293.4L266.4 292.4L267.9 291.7ZM267.9 292.2L269.1 292.0L270.4 292.2L271.6 292.7L272.6 293.5L273.6 294.7L274.2 295.9L274.6 297.4L274.8 299.2L274.8 300.9L274.5 302.4L274.0 304.2L273.3 305.7L272.4 307.3L271.1 309.1L269.6 310.7L268.4 311.7L267.1 312.3L266.1 312.3L265.1 312.0L264.1 311.1L263.2 309.7L262.6 308.2L262.3 306.4L262.1 304.2L262.2 301.9L262.4 299.9L262.9 297.9L263.5 296.4L264.3 294.9L265.4 293.7L266.6 292.8L267.9 292.2ZM267.7 292.7L268.9 292.5L270.1 292.6L271.4 293.0L272.2 293.7L273.1 294.7L273.8 295.9L274.3 297.5L274.5 298.9L274.5 300.4L274.2 301.9L273.8 303.4L273.2 304.9L272.4 306.4L271.4 307.7L270.1 309.0L268.9 310.0L267.6 310.6L266.6 310.8L265.6 310.5L264.9 309.9L264.1 308.9L263.4 307.4L262.9 305.7L262.7 303.7L262.6 301.7L262.8 299.9L263.2 298.2L263.8 296.7L264.4 295.4L265.4 294.2L266.6 293.2L267.7 292.7ZM268.3 292.9L269.4 292.9L270.4 293.0L271.4 293.5L272.4 294.3L273.1 295.3L273.6 296.4L274.0 297.7L274.2 299.2L274.1 300.7L273.8 302.2L273.4 303.4L272.7 305.0L271.9 306.3L270.9 307.5L269.9 308.3L268.9 309.0L267.6 309.4L266.6 309.4L265.6 308.9L264.9 308.3L264.1 307.1L263.6 305.8L263.2 304.2L263.0 302.4L263.1 300.9L263.3 299.2L263.7 297.7L264.4 296.2L265.2 294.9L266.1 294.1L267.1 293.4L268.3 292.9ZM267.9 293.4L268.9 293.3L269.9 293.3L270.9 293.7L271.9 294.3L272.6 295.2L273.2 296.2L273.6 297.4L273.8 298.7L273.9 299.9L273.7 301.4L273.3 302.9L272.7 304.2L272.0 305.4L271.1 306.5L270.1 307.4L269.2 307.9L268.1 308.4L267.1 308.4L266.1 308.0L265.4 307.5L264.6 306.5L264.1 305.5L263.7 304.2L263.5 302.7L263.4 301.2L263.5 299.7L263.9 298.2L264.5 296.7L265.1 295.7L265.9 294.7L266.9 293.9L267.9 293.4ZM268.4 293.7L269.4 293.6L270.4 293.8L271.1 294.2L272.0 294.9L272.6 295.8L273.1 296.8L273.4 297.9L273.6 299.2L273.6 300.4L273.3 301.7L273.0 302.9L272.4 304.2L271.6 305.4L270.8 306.2L269.9 307.0L268.9 307.5L267.9 307.6L267.1 307.6L266.1 307.1L265.4 306.5L264.6 305.4L264.2 304.4L263.9 303.2L263.7 301.7L263.8 300.2L264.0 298.9L264.4 297.7L265.0 296.4L265.6 295.4L266.6 294.5L267.4 294.1L268.4 293.7ZM267.9 294.2L268.9 294.0L269.9 294.1L270.6 294.3L271.5 294.9L272.2 295.7L272.7 296.7L273.1 297.7L273.3 298.9L273.3 300.2L273.1 301.4L272.7 302.7L272.3 303.7L271.6 304.8L270.9 305.7L270.1 306.3L269.1 306.8L268.1 307.0L267.4 306.9L266.6 306.7L265.9 306.2L265.2 305.4L264.7 304.4L264.3 303.2L264.1 301.9L264.2 299.4L264.5 298.2L265.0 296.9L265.6 296.0L266.3 295.2L267.1 294.6L267.9 294.2ZM268.3 294.4L269.1 294.4L270.1 294.5L270.9 294.9L271.5 295.4L272.1 296.2L272.6 297.2L272.9 298.2L273.0 299.2L272.8 301.4L272.4 302.7L271.9 303.7L271.4 304.6L270.6 305.4L269.9 305.9L268.9 306.4L268.1 306.5L267.4 306.4L266.6 306.0L265.8 305.4L265.3 304.7L264.8 303.7L264.5 302.7L264.4 301.4L264.5 299.2L264.9 297.9L265.4 296.9L265.9 296.2L266.6 295.4L267.4 294.8L268.3 294.4ZM267.9 294.9L268.9 294.7L269.6 294.8L270.4 295.0L271.0 295.4L271.6 296.0L272.1 296.8L272.5 297.7L272.7 298.7L272.8 299.7L272.6 300.9L272.0 302.9L270.9 304.6L270.1 305.3L269.4 305.7L268.6 305.9L267.9 305.9L267.1 305.7L266.4 305.3L265.8 304.7L265.3 303.9L264.9 302.9L264.7 301.9L264.7 299.7L265.4 297.6L265.9 296.7L266.4 296.0L267.1 295.4L267.9 294.9ZM268.3 295.2L269.1 295.1L269.9 295.2L270.6 295.6L271.1 296.0L271.6 296.6L272.1 297.4L272.5 299.2L272.3 301.2L271.6 303.1L270.6 304.4L269.9 305.0L269.1 305.3L268.4 305.5L267.6 305.4L266.9 305.1L266.4 304.7L265.9 304.1L265.4 303.2L265.0 301.4L265.1 299.4L265.3 298.4L265.7 297.4L266.9 296.0L267.6 295.5L268.3 295.2ZM268.0 295.7L268.6 295.5L269.4 295.5L270.0 295.7L270.6 296.0L271.1 296.5L271.6 297.2L272.1 298.9L272.1 300.7L271.6 302.4L270.6 303.9L269.4 304.8L268.1 305.0L267.4 304.8L266.9 304.5L266.4 304.1L265.9 303.4L265.3 301.7L265.3 299.7L265.8 297.9L266.9 296.5L268.0 295.7ZM268.7 296.0L269.9 296.1L270.9 296.8L271.6 298.1L271.9 299.7L271.7 301.2L271.1 302.7L270.1 303.9L269.6 304.2L268.9 304.5L268.1 304.6L267.6 304.4L267.1 304.2L266.5 303.7L265.8 302.4L265.5 300.7L265.8 298.9L266.5 297.4L267.4 296.5L268.1 296.1L268.7 296.0ZM268.5 296.4L269.6 296.5L270.6 297.2L271.2 298.2L271.5 299.4L271.4 300.9L271.0 302.2L270.1 303.4L269.1 304.0L268.4 304.1L267.9 304.0L266.9 303.4L266.2 302.4L265.9 300.9L266.0 299.4L266.6 298.0L267.5 296.9L268.5 296.4ZM268.8 296.9L269.6 297.1L270.4 297.7L271.0 298.7L271.2 299.9L271.0 301.2L270.6 302.2L269.9 303.0L268.9 303.6L267.9 303.5L267.0 302.9L266.5 301.9L266.2 300.7L266.4 299.4L266.9 298.2L267.9 297.3L268.8 296.9ZM268.3 297.7L269.1 297.7L269.9 298.0L270.4 298.7L270.7 299.7L270.6 300.7L270.3 301.7L269.8 302.5L269.1 302.9L268.4 303.0L267.5 302.7L266.9 301.9L266.7 300.9L266.7 299.9L267.1 298.8L267.6 298.1L268.3 297.7ZM268.2 298.7L268.9 298.6L269.4 298.8L269.8 299.2L270.0 299.7L270.1 300.4L269.9 301.2L269.6 301.8L269.1 302.2L268.6 302.3L268.0 302.2L267.6 301.9L267.3 301.2L267.2 300.4L267.3 299.7L267.6 299.2L268.2 298.7Z" fill="none" stroke="#2a2a2a" stroke-width="0.42" clip-path="url(#cp220_272)"/>
<rect x="220.10" y="272.20" width="74.30" height="73.80" fill="none" stroke="#9a9a9a" stroke-width="0.6"/>
<line x1="257.00" y1="272.20" x2="257.00" y2="346.00" stroke="#2a2a2a" stroke-width="0.8"/>
<line x1="220.10" y1="315.00" x2="294.40" y2="315.00" stroke="#2a2a2a" stroke-width="0.8"/>
<text transform="translate(221.40 280.20) scale(0.772497430626927 1)" font-size="8.2" text-anchor="start" fill="#2a2a2a" stroke="none">1.31</text>
<text transform="translate(291.00 280.20) scale(0.8462487153134635 1)" font-size="8.2" text-anchor="end" fill="#2a2a2a" stroke="none">85.1</text>
<text transform="translate(221.20 341.60) scale(0.92 1)" font-size="8.2" text-anchor="start" fill="#2a2a2a" stroke="none">6.43</text>
<text transform="translate(291.00 341.60) scale(0.8462487153134635 1)" font-size="8.2" text-anchor="end" fill="#2a2a2a" stroke="none">7.13</text>
<text x="217.10" y="280.60" font-size="6.3" text-anchor="end" fill="#2a2a2a" stroke="none">10<tspan dy="-2.4" font-size="3.7">5</tspan></text>
<text x="217.10" y="298.40" font-size="6.3" text-anchor="end" fill="#2a2a2a" stroke="none">10<tspan dy="-2.4" font-size="3.7">4</tspan></text>
<text x="217.10" y="318.50" font-size="6.3" text-anchor="end" fill="#2a2a2a" stroke="none">10<tspan dy="-2.4" font-size="3.7">3</tspan></text>
<text x="215.80" y="330.00" font-size="6.3" text-anchor="end" fill="#2a2a2a" stroke="none">0</text>
<text x="217.10" y="343.20" font-size="6.3" text-anchor="end" fill="#2a2a2a" stroke="none">-10<tspan dy="-2.4" font-size="3.7">3</tspan></text>
<text x="226.40" y="353.00" font-size="6.3" text-anchor="middle" fill="#2a2a2a" stroke="none">-10<tspan dy="-2.4" font-size="3.7">3</tspan></text>
<text x="240.00" y="353.00" font-size="6.3" text-anchor="middle" fill="#2a2a2a" stroke="none">0</text>
<text x="251.60" y="353.00" font-size="6.3" text-anchor="middle" fill="#2a2a2a" stroke="none">10<tspan dy="-2.4" font-size="3.7">3</tspan></text>
<text x="272.00" y="353.00" font-size="6.3" text-anchor="middle" fill="#2a2a2a" stroke="none">10<tspan dy="-2.4" font-size="3.7">4</tspan></text>
<text x="287.80" y="353.00" font-size="6.3" text-anchor="middle" fill="#2a2a2a" stroke="none">10<tspan dy="-2.4" font-size="3.7">5</tspan></text>
<line x1="218.90" y1="273.20" x2="220.10" y2="273.20" stroke="#999" stroke-width="0.4"/>
<line x1="218.90" y1="274.80" x2="220.10" y2="274.80" stroke="#999" stroke-width="0.4"/>
<line x1="218.90" y1="276.40" x2="220.10" y2="276.40" stroke="#999" stroke-width="0.4"/>
<line x1="218.90" y1="279.60" x2="220.10" y2="279.60" stroke="#999" stroke-width="0.4"/>
<line x1="218.90" y1="282.80" x2="220.10" y2="282.80" stroke="#999" stroke-width="0.4"/>
<line x1="218.90" y1="284.40" x2="220.10" y2="284.40" stroke="#999" stroke-width="0.4"/>
<line x1="218.90" y1="287.60" x2="220.10" y2="287.60" stroke="#999" stroke-width="0.4"/>
<line x1="218.90" y1="289.20" x2="220.10" y2="289.20" stroke="#999" stroke-width="0.4"/>
<line x1="218.90" y1="290.80" x2="220.10" y2="290.80" stroke="#999" stroke-width="0.4"/>
<line x1="218.90" y1="294.00" x2="220.10" y2="294.00" stroke="#999" stroke-width="0.4"/>
<line x1="218.90" y1="297.20" x2="220.10" y2="297.20" stroke="#999" stroke-width="0.4"/>
<line x1="218.90" y1="298.80" x2="220.10" y2="298.80" stroke="#999" stroke-width="0.4"/>
<line x1="218.90" y1="302.00" x2="220.10" y2="302.00" stroke="#999" stroke-width="0.4"/>
<line x1="218.90" y1="303.60" x2="220.10" y2="303.60" stroke="#999" stroke-width="0.4"/>
<line x1="218.90" y1="305.20" x2="220.10" y2="305.20" stroke="#999" stroke-width="0.4"/>
<line x1="218.90" y1="308.40" x2="220.10" y2="308.40" stroke="#999" stroke-width="0.4"/>
<line x1="218.90" y1="311.60" x2="220.10" y2="311.60" stroke="#999" stroke-width="0.4"/>
<line x1="218.90" y1="313.20" x2="220.10" y2="313.20" stroke="#999" stroke-width="0.4"/>
<line x1="218.90" y1="316.40" x2="220.10" y2="316.40" stroke="#999" stroke-width="0.4"/>
<line x1="218.90" y1="318.00" x2="220.10" y2="318.00" stroke="#999" stroke-width="0.4"/>
<line x1="218.90" y1="319.60" x2="220.10" y2="319.60" stroke="#999" stroke-width="0.4"/>
<line x1="218.90" y1="322.80" x2="220.10" y2="322.80" stroke="#999" stroke-width="0.4"/>
<line x1="218.90" y1="326.00" x2="220.10" y2="326.00" stroke="#999" stroke-width="0.4"/>
<line x1="218.90" y1="327.60" x2="220.10" y2="327.60" stroke="#999" stroke-width="0.4"/>
<line x1="218.90" y1="330.80" x2="220.10" y2="330.80" stroke="#999" stroke-width="0.4"/>
<line x1="218.90" y1="332.40" x2="220.10" y2="332.40" stroke="#999" stroke-width="0.4"/>
<line x1="218.90" y1="334.00" x2="220.10" y2="334.00" stroke="#999" stroke-width="0.4"/>
<line x1="218.90" y1="337.20" x2="220.10" y2="337.20" stroke="#999" stroke-width="0.4"/>
<line x1="218.90" y1="340.40" x2="220.10" y2="340.40" stroke="#999" stroke-width="0.4"/>
<line x1="218.90" y1="342.00" x2="220.10" y2="342.00" stroke="#999" stroke-width="0.4"/>
<line x1="218.90" y1="345.20" x2="220.10" y2="345.20" stroke="#999" stroke-width="0.4"/>
<line x1="221.10" y1="346.00" x2="221.10" y2="347.20" stroke="#999" stroke-width="0.4"/>
<line x1="222.70" y1="346.00" x2="222.70" y2="347.20" stroke="#999" stroke-width="0.4"/>
<line x1="224.30" y1="346.00" x2="224.30" y2="347.20" stroke="#999" stroke-width="0.4"/>
<line x1="227.50" y1="346.00" x2="227.50" y2="347.20" stroke="#999" stroke-width="0.4"/>
<line x1="230.70" y1="346.00" x2="230.70" y2="347.20" stroke="#999" stroke-width="0.4"/>
<line x1="232.30" y1="346.00" x2="232.30" y2="347.20" stroke="#999" stroke-width="0.4"/>
<line x1="235.50" y1="346.00" x2="235.50" y2="347.20" stroke="#999" stroke-width="0.4"/>
<line x1="237.10" y1="346.00" x2="237.10" y2="347.20" stroke="#999" stroke-width="0.4"/>
<line x1="238.70" y1="346.00" x2="238.70" y2="347.20" stroke="#999" stroke-width="0.4"/>
<line x1="241.90" y1="346.00" x2="241.90" y2="347.20" stroke="#999" stroke-width="0.4"/>
<line x1="245.10" y1="346.00" x2="245.10" y2="347.20" stroke="#999" stroke-width="0.4"/>
<line x1="246.70" y1="346.00" x2="246.70" y2="347.20" stroke="#999" stroke-width="0.4"/>
<line x1="249.90" y1="346.00" x2="249.90" y2="347.20" stroke="#999" stroke-width="0.4"/>
<line x1="251.50" y1="346.00" x2="251.50" y2="347.20" stroke="#999" stroke-width="0.4"/>
<line x1="253.10" y1="346.00" x2="253.10" y2="347.20" stroke="#999" stroke-width="0.4"/>
<line x1="256.30" y1="346.00" x2="256.30" y2="347.20" stroke="#999" stroke-width="0.4"/>
<line x1="259.50" y1="346.00" x2="259.50" y2="347.20" stroke="#999" stroke-width="0.4"/>
<line x1="261.10" y1="346.00" x2="261.10" y2="347.20" stroke="#999" stroke-width="0.4"/>
<line x1="264.30" y1="346.00" x2="264.30" y2="347.20" stroke="#999" stroke-width="0.4"/>
<line x1="265.90" y1="346.00" x2="265.90" y2="347.20" stroke="#999" stroke-width="0.4"/>
<line x1="267.50" y1="346.00" x2="267.50" y2="347.20" stroke="#999" stroke-width="0.4"/>
<line x1="270.70" y1="346.00" x2="270.70" y2="347.20" stroke="#999" stroke-width="0.4"/>
<line x1="273.90" y1="346.00" x2="273.90" y2="347.20" stroke="#999" stroke-width="0.4"/>
<line x1="275.50" y1="346.00" x2="275.50" y2="347.20" stroke="#999" stroke-width="0.4"/>
<line x1="278.70" y1="346.00" x2="278.70" y2="347.20" stroke="#999" stroke-width="0.4"/>
<line x1="280.30" y1="346.00" x2="280.30" y2="347.20" stroke="#999" stroke-width="0.4"/>
<line x1="281.90" y1="346.00" x2="281.90" y2="347.20" stroke="#999" stroke-width="0.4"/>
<line x1="285.10" y1="346.00" x2="285.10" y2="347.20" stroke="#999" stroke-width="0.4"/>
<line x1="288.30" y1="346.00" x2="288.30" y2="347.20" stroke="#999" stroke-width="0.4"/>
<line x1="289.90" y1="346.00" x2="289.90" y2="347.20" stroke="#999" stroke-width="0.4"/>
<line x1="293.10" y1="346.00" x2="293.10" y2="347.20" stroke="#999" stroke-width="0.4"/>
<text x="37.50" y="270.00" font-size="6.7" text-anchor="start" fill="#2a2a2a" stroke="none">CD127</text>
<path d="M69 266.1H289" stroke="#000" stroke-width="1.3" fill="none"/><path d="M293.3 266.1L288 263.7V268.5Z" fill="#000"/>
<text x="44.10" y="366.00" font-size="7.3" text-anchor="start" fill="#2a2a2a" stroke="none">CX3CR1- BV605</text>
<path d="M110.2 363.9H285.6" stroke="#000" stroke-width="1.3" fill="none"/><path d="M289.9 363.9L284.6 361.5V366.3Z" fill="#000"/>
<line x1="19.00" y1="194.30" x2="19.00" y2="345.80" stroke="#000" stroke-width="1.4"/>
<text x="15.30" y="263.00" font-size="7.5" text-anchor="middle" transform="rotate(-90 15.30 263.00)" fill="#2a2a2a" stroke="none">KLRG1-ef450</text>
<rect x="35.50" y="237.10" width="1.60" height="3.20" fill="#000" stroke="none" stroke-width="0.8"/>
<rect x="52.30" y="256.30" width="5.60" height="1.30" fill="#000" stroke="none" stroke-width="0.8"/>
<rect x="126.40" y="237.10" width="1.60" height="3.20" fill="#000" stroke="none" stroke-width="0.8"/>
<rect x="143.00" y="255.80" width="5.60" height="1.30" fill="#000" stroke="none" stroke-width="0.8"/>
<rect x="218.40" y="237.10" width="1.60" height="3.20" fill="#000" stroke="none" stroke-width="0.8"/>
<rect x="234.30" y="255.80" width="5.60" height="1.30" fill="#000" stroke="none" stroke-width="0.8"/>
<rect x="35.00" y="326.70" width="1.60" height="3.20" fill="#000" stroke="none" stroke-width="0.8"/>
<rect x="51.80" y="346.20" width="2.80" height="1.30" fill="#000" stroke="none" stroke-width="0.8"/>
<rect x="126.10" y="326.70" width="1.60" height="3.20" fill="#000" stroke="none" stroke-width="0.8"/>
<rect x="142.80" y="346.20" width="2.80" height="1.30" fill="#000" stroke="none" stroke-width="0.8"/>
<rect x="218.40" y="326.70" width="1.60" height="3.20" fill="#000" stroke="none" stroke-width="0.8"/>
<rect x="235.40" y="346.20" width="2.80" height="1.30" fill="#000" stroke="none" stroke-width="0.8"/>
</svg>
</body></html>
